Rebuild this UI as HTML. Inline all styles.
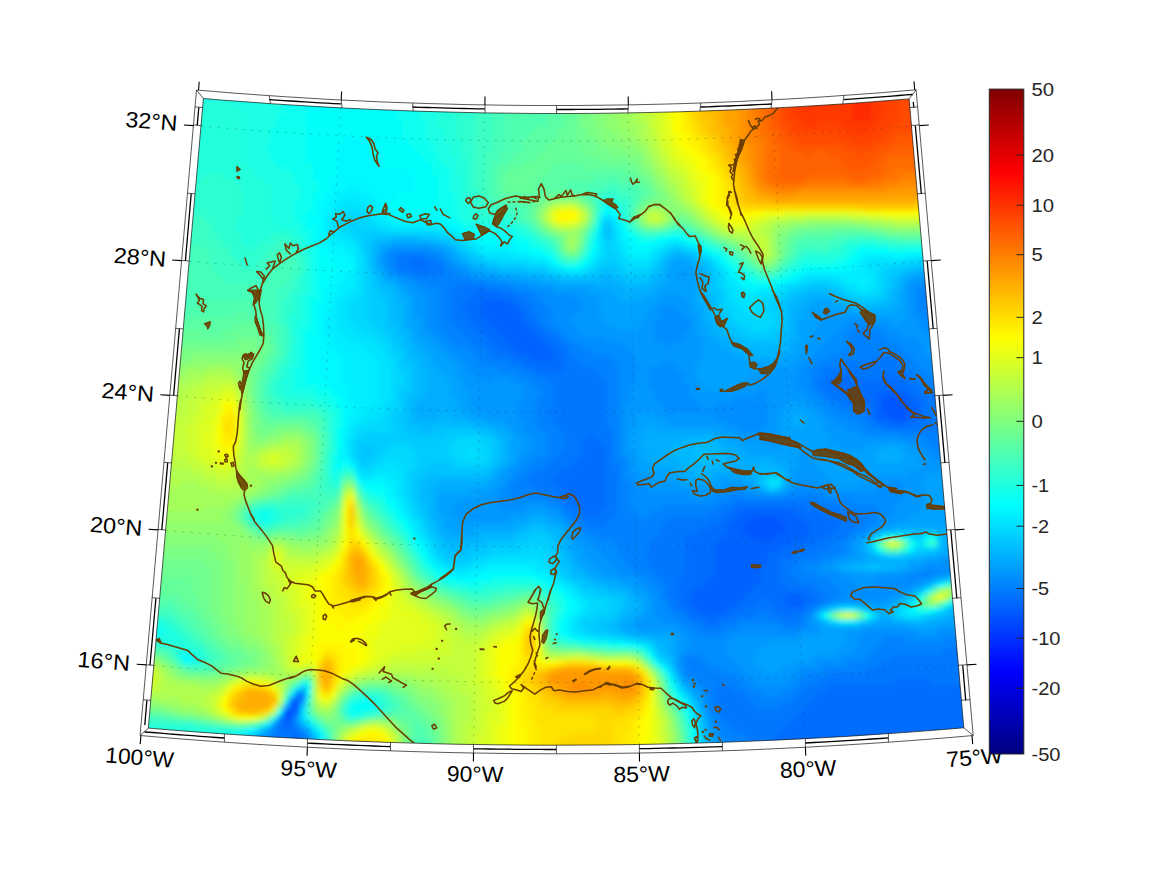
<!DOCTYPE html><html><head><meta charset="utf-8"><title>map</title><style>html,body{margin:0;padding:0;background:#fff}svg{display:block}text{font-family:"Liberation Sans",sans-serif}</style></head><body>
<svg width="1167" height="875" viewBox="0 0 1167 875">
<defs><clipPath id="mc"><path d="M203.4 98.5 L221.0 100.0 L238.7 101.3 L256.3 102.6 L274.0 103.9 L291.6 105.0 L309.3 106.1 L326.9 107.1 L344.5 108.1 L362.2 108.9 L379.8 109.7 L397.5 110.4 L415.1 111.1 L432.8 111.6 L450.4 112.1 L468.0 112.5 L485.7 112.9 L503.3 113.1 L521.0 113.3 L538.6 113.5 L556.2 113.5 L573.9 113.5 L591.5 113.4 L609.2 113.2 L626.8 112.9 L644.5 112.6 L662.1 112.2 L679.7 111.8 L697.4 111.2 L715.0 110.6 L732.7 109.9 L750.3 109.1 L768.0 108.3 L785.6 107.4 L803.2 106.4 L820.9 105.3 L838.5 104.2 L856.2 103.0 L873.8 101.7 L891.5 100.3 L909.1 98.9 L963.8 727.8 L943.4 729.5 L923.0 731.1 L902.6 732.6 L882.2 734.0 L861.8 735.4 L841.4 736.7 L821.0 737.8 L800.7 738.9 L780.3 739.9 L759.9 740.8 L739.5 741.6 L719.1 742.4 L698.7 743.0 L678.3 743.6 L658.0 744.1 L637.6 744.5 L617.2 744.8 L596.8 745.0 L576.4 745.1 L556.0 745.2 L535.6 745.2 L515.3 745.0 L494.9 744.8 L474.5 744.5 L454.1 744.2 L433.7 743.7 L413.3 743.1 L392.9 742.5 L372.5 741.8 L352.2 741.0 L331.8 740.1 L311.4 739.1 L291.0 738.0 L270.6 736.9 L250.2 735.6 L229.8 734.3 L209.5 732.9 L189.1 731.4 L168.7 729.8 L148.3 728.1Z"/></clipPath>
<filter id="bl" x="-5%" y="-5%" width="110%" height="110%"><feGaussianBlur stdDeviation="2.6"/></filter>
<linearGradient id="jet" x1="0" y1="1" x2="0" y2="0"><stop offset="0" stop-color="#00007f"/><stop offset="0.125" stop-color="#0000ff"/><stop offset="0.375" stop-color="#00ffff"/><stop offset="0.625" stop-color="#ffff00"/><stop offset="0.875" stop-color="#ff0000"/><stop offset="1" stop-color="#7f0000"/></linearGradient></defs>
<rect width="1167" height="875" fill="#fff"/>
<g clip-path="url(#mc)"><g filter="url(#bl)">
<rect x="120" y="70" width="880" height="710" fill="#0af"/>
<path fill="#0022ff" d="M258 750h13v7h-13zM264 756h13v7h-13z"/>
<path fill="#002cff" d="M252 750h7v7h-7zM270 750h13v7h-13zM258 756h7v7h-7zM276 756h7v7h-7z"/>
<path fill="#0037ff" d="M282 750h7v7h-7zM252 756h7v7h-7zM282 756h7v7h-7z"/>
<path fill="#0042ff" d="M258 744h13v7h-13zM246 750h7v7h-7z"/>
<path fill="#004dff" d="M252 744h7v7h-7zM270 744h19v7h-19zM288 750h7v7h-7zM246 756h7v7h-7zM288 756h7v7h-7z"/>
<path fill="#0057ff" d="M882 396h25v7h-25zM882 402h25v7h-25zM882 408h31v7h-31zM888 414h19v7h-19zM750 516h31v7h-31zM744 522h43v7h-43zM744 528h43v7h-43zM750 534h25v7h-25zM294 696h7v7h-7zM288 702h13v7h-13zM282 708h13v7h-13zM282 714h13v7h-13zM246 744h7v7h-7zM288 744h7v7h-7z"/>
<path fill="#0062ff" d="M480 300h31v7h-31zM480 306h37v7h-37zM480 312h43v7h-43zM486 318h37v7h-37zM492 324h37v7h-37zM498 330h37v7h-37zM504 336h37v7h-37zM510 342h37v7h-37zM516 348h37v7h-37zM528 354h25v7h-25zM888 384h7v7h-7zM876 390h31v7h-31zM876 396h7v7h-7zM906 396h7v7h-7zM876 402h7v7h-7zM906 402h13v7h-13zM876 408h7v7h-7zM912 408h7v7h-7zM876 414h13v7h-13zM906 414h13v7h-13zM888 420h19v7h-19zM738 510h55v7h-55zM732 516h19v7h-19zM780 516h25v7h-25zM726 522h19v7h-19zM786 522h25v7h-25zM726 528h19v7h-19zM786 528h25v7h-25zM720 534h31v7h-31zM774 534h31v7h-31zM714 540h79v7h-79zM714 546h67v7h-67zM714 552h55v7h-55zM714 558h55v7h-55zM714 564h49v7h-49zM714 570h49v7h-49zM708 576h55v7h-55zM702 582h55v7h-55zM690 588h61v7h-61zM690 594h55v7h-55zM786 594h19v7h-19zM690 600h49v7h-49zM786 600h19v7h-19zM696 606h31v7h-31zM708 612h7v7h-7zM294 708h7v7h-7zM282 720h7v7h-7zM294 744h7v7h-7zM240 750h7v7h-7zM294 750h7v7h-7zM294 756h7v7h-7z"/>
<path fill="#006dff" d="M408 258h19v7h-19zM414 264h13v7h-13zM474 288h25v7h-25zM468 294h49v7h-49zM462 300h19v7h-19zM510 300h13v7h-13zM462 306h19v7h-19zM516 306h13v7h-13zM468 312h13v7h-13zM522 312h7v7h-7zM468 318h19v7h-19zM522 318h13v7h-13zM474 324h19v7h-19zM528 324h13v7h-13zM480 330h19v7h-19zM534 330h13v7h-13zM486 336h19v7h-19zM540 336h13v7h-13zM492 342h19v7h-19zM546 342h13v7h-13zM498 348h19v7h-19zM552 348h13v7h-13zM510 354h19v7h-19zM552 354h13v7h-13zM522 360h43v7h-43zM534 366h31v7h-31zM834 372h19v7h-19zM882 372h13v7h-13zM828 378h79v7h-79zM828 384h61v7h-61zM894 384h19v7h-19zM840 390h37v7h-37zM906 390h13v7h-13zM858 396h19v7h-19zM912 396h13v7h-13zM864 402h13v7h-13zM918 402h7v7h-7zM870 408h7v7h-7zM918 408h7v7h-7zM870 414h7v7h-7zM918 414h7v7h-7zM876 420h13v7h-13zM906 420h13v7h-13zM588 432h7v7h-7zM582 438h19v7h-19zM582 444h25v7h-25zM582 450h25v7h-25zM576 456h31v7h-31zM570 462h37v7h-37zM558 468h49v7h-49zM552 474h55v7h-55zM552 480h55v7h-55zM558 486h49v7h-49zM564 492h43v7h-43zM570 498h37v7h-37zM576 504h31v7h-31zM732 504h73v7h-73zM582 510h19v7h-19zM726 510h13v7h-13zM792 510h31v7h-31zM720 516h13v7h-13zM804 516h37v7h-37zM708 522h19v7h-19zM810 522h31v7h-31zM696 528h31v7h-31zM810 528h25v7h-25zM684 534h37v7h-37zM804 534h25v7h-25zM684 540h31v7h-31zM792 540h25v7h-25zM684 546h31v7h-31zM780 546h25v7h-25zM684 552h31v7h-31zM768 552h25v7h-25zM684 558h31v7h-31zM768 558h13v7h-13zM684 564h31v7h-31zM762 564h19v7h-19zM684 570h31v7h-31zM762 570h19v7h-19zM678 576h31v7h-31zM762 576h19v7h-19zM678 582h25v7h-25zM756 582h31v7h-31zM678 588h13v7h-13zM750 588h61v7h-61zM678 594h13v7h-13zM744 594h43v7h-43zM804 594h13v7h-13zM678 600h13v7h-13zM738 600h19v7h-19zM768 600h19v7h-19zM804 600h13v7h-13zM684 606h13v7h-13zM726 606h19v7h-19zM774 606h31v7h-31zM690 612h19v7h-19zM714 612h19v7h-19zM786 612h7v7h-7zM702 618h19v7h-19zM894 678h37v7h-37zM828 684h145v7h-145zM816 690h157v7h-157zM810 696h169v7h-169zM804 702h175v7h-175zM798 708h181v7h-181zM792 714h187v7h-187zM276 720h7v7h-7zM288 720h7v7h-7zM786 720h193v7h-193zM282 726h13v7h-13zM780 726h199v7h-199zM288 732h13v7h-13zM774 732h205v7h-205zM258 738h43v7h-43zM774 738h205v7h-205zM774 744h205v7h-205zM774 750h205v7h-205zM240 756h7v7h-7zM774 756h205v7h-205z"/>
<path fill="#0077ff" d="M396 252h31v7h-31zM396 258h13v7h-13zM426 258h13v7h-13zM396 264h19v7h-19zM426 264h19v7h-19zM408 270h37v7h-37zM456 282h31v7h-31zM450 288h25v7h-25zM498 288h19v7h-19zM930 288h13v7h-13zM450 294h19v7h-19zM516 294h13v7h-13zM924 294h19v7h-19zM450 300h13v7h-13zM522 300h13v7h-13zM930 300h13v7h-13zM450 306h13v7h-13zM528 306h7v7h-7zM936 306h7v7h-7zM450 312h19v7h-19zM528 312h13v7h-13zM450 318h19v7h-19zM534 318h7v7h-7zM456 324h19v7h-19zM540 324h7v7h-7zM462 330h19v7h-19zM546 330h13v7h-13zM468 336h19v7h-19zM552 336h13v7h-13zM474 342h19v7h-19zM558 342h13v7h-13zM486 348h13v7h-13zM564 348h7v7h-7zM492 354h19v7h-19zM564 354h13v7h-13zM870 354h31v7h-31zM510 360h13v7h-13zM564 360h19v7h-19zM840 360h61v7h-61zM522 366h13v7h-13zM564 366h31v7h-31zM822 366h85v7h-85zM534 372h67v7h-67zM822 372h13v7h-13zM852 372h31v7h-31zM894 372h19v7h-19zM546 378h61v7h-61zM816 378h13v7h-13zM906 378h13v7h-13zM552 384h55v7h-55zM816 384h13v7h-13zM912 384h13v7h-13zM552 390h55v7h-55zM822 390h19v7h-19zM918 390h19v7h-19zM552 396h55v7h-55zM828 396h31v7h-31zM924 396h25v7h-25zM552 402h55v7h-55zM840 402h25v7h-25zM924 402h25v7h-25zM546 408h61v7h-61zM858 408h13v7h-13zM924 408h25v7h-25zM552 414h55v7h-55zM864 414h7v7h-7zM924 414h25v7h-25zM552 420h55v7h-55zM870 420h7v7h-7zM918 420h37v7h-37zM558 426h55v7h-55zM882 426h73v7h-73zM564 432h25v7h-25zM594 432h19v7h-19zM564 438h19v7h-19zM600 438h13v7h-13zM564 444h19v7h-19zM606 444h7v7h-7zM558 450h25v7h-25zM606 450h7v7h-7zM552 456h25v7h-25zM606 456h7v7h-7zM546 462h25v7h-25zM606 462h13v7h-13zM534 468h25v7h-25zM606 468h13v7h-13zM528 474h25v7h-25zM606 474h13v7h-13zM528 480h25v7h-25zM606 480h13v7h-13zM534 486h25v7h-25zM606 486h13v7h-13zM552 492h13v7h-13zM606 492h13v7h-13zM558 498h13v7h-13zM606 498h13v7h-13zM732 498h85v7h-85zM564 504h13v7h-13zM606 504h13v7h-13zM720 504h13v7h-13zM804 504h37v7h-37zM570 510h13v7h-13zM600 510h19v7h-19zM708 510h19v7h-19zM822 510h37v7h-37zM576 516h37v7h-37zM666 516h55v7h-55zM840 516h25v7h-25zM588 522h19v7h-19zM660 522h49v7h-49zM840 522h19v7h-19zM660 528h37v7h-37zM834 528h19v7h-19zM654 534h31v7h-31zM828 534h19v7h-19zM648 540h37v7h-37zM816 540h19v7h-19zM648 546h37v7h-37zM804 546h25v7h-25zM642 552h43v7h-43zM792 552h25v7h-25zM648 558h37v7h-37zM780 558h19v7h-19zM648 564h37v7h-37zM780 564h13v7h-13zM654 570h31v7h-31zM780 570h13v7h-13zM660 576h19v7h-19zM780 576h19v7h-19zM666 582h13v7h-13zM786 582h31v7h-31zM666 588h13v7h-13zM810 588h13v7h-13zM666 594h13v7h-13zM816 594h13v7h-13zM672 600h7v7h-7zM756 600h13v7h-13zM816 600h7v7h-7zM672 606h13v7h-13zM744 606h31v7h-31zM804 606h7v7h-7zM684 612h7v7h-7zM732 612h25v7h-25zM768 612h19v7h-19zM792 612h13v7h-13zM690 618h13v7h-13zM720 618h19v7h-19zM780 618h19v7h-19zM702 624h19v7h-19zM954 642h19v7h-19zM942 648h31v7h-31zM888 654h85v7h-85zM690 660h7v7h-7zM876 660h97v7h-97zM690 666h7v7h-7zM864 666h109v7h-109zM828 672h145v7h-145zM816 678h79v7h-79zM930 678h43v7h-43zM714 684h19v7h-19zM804 684h25v7h-25zM294 690h7v7h-7zM714 690h31v7h-31zM798 690h19v7h-19zM288 696h7v7h-7zM714 696h37v7h-37zM792 696h19v7h-19zM714 702h43v7h-43zM780 702h25v7h-25zM714 708h85v7h-85zM720 714h73v7h-73zM726 720h61v7h-61zM276 726h7v7h-7zM294 726h7v7h-7zM732 726h49v7h-49zM276 732h13v7h-13zM300 732h7v7h-7zM744 732h31v7h-31zM252 738h7v7h-7zM300 738h7v7h-7zM750 738h25v7h-25zM240 744h7v7h-7zM300 744h7v7h-7zM750 744h25v7h-25zM300 750h7v7h-7zM750 750h25v7h-25zM750 756h25v7h-25z"/>
<path fill="#0082ff" d="M390 252h7v7h-7zM426 252h13v7h-13zM390 258h7v7h-7zM438 258h7v7h-7zM390 264h7v7h-7zM444 264h7v7h-7zM396 270h13v7h-13zM444 270h13v7h-13zM414 276h61v7h-61zM426 282h31v7h-31zM486 282h25v7h-25zM924 282h19v7h-19zM438 288h13v7h-13zM516 288h19v7h-19zM918 288h13v7h-13zM438 294h13v7h-13zM528 294h13v7h-13zM918 294h7v7h-7zM438 300h13v7h-13zM534 300h13v7h-13zM918 300h13v7h-13zM438 306h13v7h-13zM534 306h19v7h-19zM918 306h19v7h-19zM438 312h13v7h-13zM540 312h13v7h-13zM924 312h19v7h-19zM438 318h13v7h-13zM540 318h13v7h-13zM936 318h7v7h-7zM438 324h19v7h-19zM546 324h13v7h-13zM852 324h19v7h-19zM444 330h19v7h-19zM558 330h7v7h-7zM846 330h37v7h-37zM450 336h19v7h-19zM564 336h7v7h-7zM846 336h43v7h-43zM456 342h19v7h-19zM570 342h13v7h-13zM846 342h55v7h-55zM468 348h19v7h-19zM570 348h25v7h-25zM840 348h67v7h-67zM474 354h19v7h-19zM576 354h37v7h-37zM828 354h43v7h-43zM900 354h13v7h-13zM480 360h31v7h-31zM582 360h37v7h-37zM816 360h25v7h-25zM900 360h19v7h-19zM498 366h25v7h-25zM594 366h25v7h-25zM810 366h13v7h-13zM906 366h19v7h-19zM516 372h19v7h-19zM600 372h19v7h-19zM810 372h13v7h-13zM912 372h19v7h-19zM528 378h19v7h-19zM606 378h13v7h-13zM810 378h7v7h-7zM918 378h31v7h-31zM534 384h19v7h-19zM606 384h13v7h-13zM810 384h7v7h-7zM924 384h25v7h-25zM540 390h13v7h-13zM606 390h13v7h-13zM816 390h7v7h-7zM936 390h13v7h-13zM534 396h19v7h-19zM606 396h13v7h-13zM822 396h7v7h-7zM534 402h19v7h-19zM606 402h13v7h-13zM828 402h13v7h-13zM534 408h13v7h-13zM606 408h13v7h-13zM834 408h25v7h-25zM534 414h19v7h-19zM606 414h13v7h-13zM846 414h19v7h-19zM534 420h19v7h-19zM606 420h13v7h-13zM858 420h13v7h-13zM540 426h19v7h-19zM612 426h7v7h-7zM864 426h19v7h-19zM546 432h19v7h-19zM612 432h7v7h-7zM900 432h55v7h-55zM546 438h19v7h-19zM612 438h7v7h-7zM924 438h31v7h-31zM546 444h19v7h-19zM612 444h7v7h-7zM930 444h25v7h-25zM546 450h13v7h-13zM612 450h7v7h-7zM534 456h19v7h-19zM612 456h13v7h-13zM528 462h19v7h-19zM618 462h7v7h-7zM522 468h13v7h-13zM618 468h7v7h-7zM516 474h13v7h-13zM618 474h7v7h-7zM510 480h19v7h-19zM618 480h13v7h-13zM510 486h25v7h-25zM618 486h13v7h-13zM510 492h43v7h-43zM618 492h13v7h-13zM726 492h19v7h-19zM786 492h37v7h-37zM546 498h13v7h-13zM618 498h13v7h-13zM714 498h19v7h-19zM816 498h37v7h-37zM558 504h7v7h-7zM618 504h13v7h-13zM660 504h61v7h-61zM840 504h37v7h-37zM564 510h7v7h-7zM618 510h19v7h-19zM648 510h61v7h-61zM858 510h19v7h-19zM570 516h7v7h-7zM612 516h55v7h-55zM864 516h13v7h-13zM576 522h13v7h-13zM606 522h55v7h-55zM858 522h13v7h-13zM582 528h79v7h-79zM852 528h13v7h-13zM594 534h61v7h-61zM846 534h7v7h-7zM612 540h37v7h-37zM834 540h13v7h-13zM618 546h31v7h-31zM828 546h19v7h-19zM618 552h25v7h-25zM816 552h25v7h-25zM624 558h25v7h-25zM798 558h25v7h-25zM630 564h19v7h-19zM792 564h13v7h-13zM636 570h19v7h-19zM792 570h25v7h-25zM918 570h19v7h-19zM648 576h13v7h-13zM798 576h31v7h-31zM906 576h13v7h-13zM654 582h13v7h-13zM816 582h19v7h-19zM660 588h7v7h-7zM822 588h19v7h-19zM660 594h7v7h-7zM828 594h13v7h-13zM666 600h7v7h-7zM822 600h7v7h-7zM666 606h7v7h-7zM810 606h7v7h-7zM672 612h13v7h-13zM756 612h13v7h-13zM804 612h7v7h-7zM678 618h13v7h-13zM738 618h43v7h-43zM798 618h7v7h-7zM690 624h13v7h-13zM720 624h19v7h-19zM780 624h25v7h-25zM696 630h31v7h-31zM966 630h7v7h-7zM882 636h25v7h-25zM942 636h31v7h-31zM876 642h79v7h-79zM870 648h73v7h-73zM684 654h19v7h-19zM864 654h25v7h-25zM684 660h7v7h-7zM696 660h13v7h-13zM846 660h31v7h-31zM684 666h7v7h-7zM696 666h25v7h-25zM822 666h43v7h-43zM684 672h55v7h-55zM804 672h25v7h-25zM696 678h49v7h-49zM798 678h19v7h-19zM702 684h13v7h-13zM732 684h19v7h-19zM792 684h13v7h-13zM300 690h7v7h-7zM702 690h13v7h-13zM744 690h19v7h-19zM780 690h19v7h-19zM300 696h7v7h-7zM708 696h7v7h-7zM750 696h43v7h-43zM708 702h7v7h-7zM756 702h25v7h-25zM708 708h7v7h-7zM714 714h7v7h-7zM714 720h13v7h-13zM270 726h7v7h-7zM720 726h13v7h-13zM270 732h7v7h-7zM720 732h25v7h-25zM726 738h25v7h-25zM726 744h25v7h-25zM234 750h7v7h-7zM732 750h19v7h-19zM300 756h7v7h-7zM732 756h19v7h-19z"/>
<path fill="#008dff" d="M390 246h43v7h-43zM384 252h7v7h-7zM438 252h7v7h-7zM384 258h7v7h-7zM444 258h7v7h-7zM384 264h7v7h-7zM450 264h13v7h-13zM390 270h7v7h-7zM456 270h13v7h-13zM402 276h13v7h-13zM474 276h25v7h-25zM924 276h13v7h-13zM414 282h13v7h-13zM510 282h19v7h-19zM912 282h13v7h-13zM420 288h19v7h-19zM534 288h19v7h-19zM912 288h7v7h-7zM426 294h13v7h-13zM540 294h37v7h-37zM912 294h7v7h-7zM426 300h13v7h-13zM546 300h37v7h-37zM912 300h7v7h-7zM426 306h13v7h-13zM552 306h31v7h-31zM660 306h19v7h-19zM912 306h7v7h-7zM426 312h13v7h-13zM552 312h25v7h-25zM660 312h25v7h-25zM912 312h13v7h-13zM426 318h13v7h-13zM552 318h19v7h-19zM654 318h37v7h-37zM846 318h31v7h-31zM918 318h19v7h-19zM426 324h13v7h-13zM558 324h19v7h-19zM654 324h37v7h-37zM840 324h13v7h-13zM870 324h19v7h-19zM918 324h25v7h-25zM432 330h13v7h-13zM564 330h19v7h-19zM654 330h31v7h-31zM834 330h13v7h-13zM882 330h19v7h-19zM924 330h19v7h-19zM438 336h13v7h-13zM570 336h37v7h-37zM654 336h31v7h-31zM828 336h19v7h-19zM888 336h31v7h-31zM444 342h13v7h-13zM582 342h43v7h-43zM666 342h7v7h-7zM822 342h25v7h-25zM900 342h25v7h-25zM450 348h19v7h-19zM594 348h37v7h-37zM816 348h25v7h-25zM906 348h19v7h-19zM456 354h19v7h-19zM612 354h25v7h-25zM810 354h19v7h-19zM912 354h19v7h-19zM462 360h19v7h-19zM618 360h19v7h-19zM660 360h13v7h-13zM804 360h13v7h-13zM918 360h31v7h-31zM468 366h31v7h-31zM618 366h25v7h-25zM648 366h31v7h-31zM798 366h13v7h-13zM924 366h25v7h-25zM474 372h43v7h-43zM618 372h19v7h-19zM648 372h37v7h-37zM798 372h13v7h-13zM930 372h19v7h-19zM486 378h7v7h-7zM510 378h19v7h-19zM618 378h19v7h-19zM648 378h37v7h-37zM792 378h19v7h-19zM522 384h13v7h-13zM618 384h13v7h-13zM648 384h43v7h-43zM798 384h13v7h-13zM522 390h19v7h-19zM618 390h13v7h-13zM654 390h37v7h-37zM756 390h13v7h-13zM804 390h13v7h-13zM522 396h13v7h-13zM618 396h13v7h-13zM654 396h43v7h-43zM732 396h37v7h-37zM810 396h13v7h-13zM516 402h19v7h-19zM618 402h7v7h-7zM660 402h43v7h-43zM714 402h55v7h-55zM816 402h13v7h-13zM516 408h19v7h-19zM618 408h7v7h-7zM666 408h103v7h-103zM822 408h13v7h-13zM516 414h19v7h-19zM618 414h7v7h-7zM714 414h55v7h-55zM828 414h19v7h-19zM522 420h13v7h-13zM618 420h7v7h-7zM726 420h43v7h-43zM834 420h25v7h-25zM522 426h19v7h-19zM618 426h7v7h-7zM738 426h25v7h-25zM846 426h19v7h-19zM528 432h19v7h-19zM618 432h7v7h-7zM858 432h43v7h-43zM534 438h13v7h-13zM618 438h7v7h-7zM906 438h19v7h-19zM534 444h13v7h-13zM618 444h7v7h-7zM918 444h13v7h-13zM528 450h19v7h-19zM618 450h7v7h-7zM924 450h31v7h-31zM522 456h13v7h-13zM624 456h7v7h-7zM930 456h25v7h-25zM516 462h13v7h-13zM624 462h7v7h-7zM510 468h13v7h-13zM624 468h7v7h-7zM510 474h7v7h-7zM624 474h13v7h-13zM504 480h7v7h-7zM630 480h13v7h-13zM798 480h19v7h-19zM888 480h13v7h-13zM498 486h13v7h-13zM630 486h19v7h-19zM726 486h19v7h-19zM792 486h37v7h-37zM876 486h31v7h-31zM498 492h13v7h-13zM630 492h61v7h-61zM708 492h19v7h-19zM744 492h43v7h-43zM822 492h85v7h-85zM492 498h55v7h-55zM630 498h85v7h-85zM852 498h49v7h-49zM498 504h25v7h-25zM546 504h13v7h-13zM630 504h31v7h-31zM876 504h19v7h-19zM558 510h7v7h-7zM636 510h13v7h-13zM876 510h19v7h-19zM564 516h7v7h-7zM876 516h13v7h-13zM570 522h7v7h-7zM870 522h13v7h-13zM576 528h7v7h-7zM864 528h7v7h-7zM582 534h13v7h-13zM852 534h7v7h-7zM588 540h25v7h-25zM846 540h7v7h-7zM594 546h25v7h-25zM846 546h7v7h-7zM600 552h19v7h-19zM840 552h13v7h-13zM606 558h19v7h-19zM822 558h13v7h-13zM942 558h25v7h-25zM612 564h19v7h-19zM804 564h19v7h-19zM924 564h43v7h-43zM618 570h19v7h-19zM816 570h25v7h-25zM900 570h19v7h-19zM936 570h19v7h-19zM636 576h13v7h-13zM828 576h25v7h-25zM876 576h31v7h-31zM918 576h13v7h-13zM642 582h13v7h-13zM834 582h25v7h-25zM870 582h43v7h-43zM648 588h13v7h-13zM840 588h61v7h-61zM654 594h7v7h-7zM840 594h49v7h-49zM654 600h13v7h-13zM828 600h7v7h-7zM654 606h13v7h-13zM654 612h19v7h-19zM660 618h19v7h-19zM804 618h7v7h-7zM678 624h13v7h-13zM738 624h43v7h-43zM804 624h13v7h-13zM684 630h13v7h-13zM726 630h73v7h-73zM864 630h55v7h-55zM936 630h31v7h-31zM690 636h43v7h-43zM858 636h25v7h-25zM906 636h37v7h-37zM690 642h37v7h-37zM858 642h19v7h-19zM684 648h43v7h-43zM852 648h19v7h-19zM678 654h7v7h-7zM702 654h31v7h-31zM840 654h25v7h-25zM678 660h7v7h-7zM708 660h31v7h-31zM816 660h31v7h-31zM678 666h7v7h-7zM720 666h25v7h-25zM798 666h25v7h-25zM738 672h13v7h-13zM792 672h13v7h-13zM690 678h7v7h-7zM744 678h13v7h-13zM786 678h13v7h-13zM696 684h7v7h-7zM750 684h43v7h-43zM762 690h19v7h-19zM702 696h7v7h-7zM702 702h7v7h-7zM276 714h7v7h-7zM294 714h7v7h-7zM708 714h7v7h-7zM294 720h7v7h-7zM708 720h7v7h-7zM300 726h7v7h-7zM714 726h7v7h-7zM264 732h7v7h-7zM714 732h7v7h-7zM246 738h7v7h-7zM306 738h7v7h-7zM720 738h7v7h-7zM720 744h7v7h-7zM720 750h13v7h-13zM234 756h7v7h-7zM720 756h13v7h-13z"/>
<path fill="#0098ff" d="M384 246h7v7h-7zM432 246h13v7h-13zM378 252h7v7h-7zM444 252h7v7h-7zM378 258h7v7h-7zM450 258h7v7h-7zM462 264h7v7h-7zM384 270h7v7h-7zM468 270h13v7h-13zM678 270h13v7h-13zM396 276h7v7h-7zM498 276h19v7h-19zM678 276h7v7h-7zM912 276h13v7h-13zM402 282h13v7h-13zM528 282h25v7h-25zM906 282h7v7h-7zM408 288h13v7h-13zM552 288h37v7h-37zM672 288h7v7h-7zM906 288h7v7h-7zM414 294h13v7h-13zM576 294h25v7h-25zM660 294h25v7h-25zM906 294h7v7h-7zM414 300h13v7h-13zM582 300h19v7h-19zM654 300h37v7h-37zM906 300h7v7h-7zM414 306h13v7h-13zM582 306h19v7h-19zM648 306h13v7h-13zM678 306h13v7h-13zM906 306h7v7h-7zM414 312h13v7h-13zM576 312h25v7h-25zM642 312h19v7h-19zM684 312h13v7h-13zM822 312h49v7h-49zM906 312h7v7h-7zM420 318h7v7h-7zM570 318h37v7h-37zM642 318h13v7h-13zM690 318h7v7h-7zM816 318h31v7h-31zM876 318h19v7h-19zM900 318h19v7h-19zM420 324h7v7h-7zM576 324h43v7h-43zM636 324h19v7h-19zM690 324h7v7h-7zM816 324h25v7h-25zM888 324h31v7h-31zM420 330h13v7h-13zM582 330h73v7h-73zM684 330h13v7h-13zM810 330h25v7h-25zM900 330h25v7h-25zM426 336h13v7h-13zM606 336h49v7h-49zM684 336h19v7h-19zM810 336h19v7h-19zM918 336h25v7h-25zM432 342h13v7h-13zM624 342h43v7h-43zM672 342h31v7h-31zM804 342h19v7h-19zM924 342h19v7h-19zM438 348h13v7h-13zM630 348h73v7h-73zM804 348h13v7h-13zM924 348h25v7h-25zM444 354h13v7h-13zM636 354h67v7h-67zM798 354h13v7h-13zM930 354h19v7h-19zM450 360h13v7h-13zM636 360h25v7h-25zM672 360h25v7h-25zM792 360h13v7h-13zM456 366h13v7h-13zM642 366h7v7h-7zM678 366h19v7h-19zM774 366h25v7h-25zM456 372h19v7h-19zM636 372h13v7h-13zM684 372h13v7h-13zM750 372h49v7h-49zM462 378h25v7h-25zM492 378h19v7h-19zM636 378h13v7h-13zM684 378h19v7h-19zM744 378h49v7h-49zM462 384h61v7h-61zM630 384h19v7h-19zM690 384h13v7h-13zM732 384h67v7h-67zM468 390h55v7h-55zM630 390h25v7h-25zM690 390h67v7h-67zM768 390h37v7h-37zM468 396h55v7h-55zM630 396h25v7h-25zM696 396h37v7h-37zM768 396h43v7h-43zM468 402h49v7h-49zM624 402h37v7h-37zM702 402h13v7h-13zM768 402h19v7h-19zM804 402h13v7h-13zM474 408h43v7h-43zM624 408h43v7h-43zM768 408h13v7h-13zM810 408h13v7h-13zM486 414h31v7h-31zM624 414h13v7h-13zM654 414h61v7h-61zM768 414h13v7h-13zM816 414h13v7h-13zM504 420h19v7h-19zM624 420h13v7h-13zM666 420h61v7h-61zM768 420h13v7h-13zM822 420h13v7h-13zM510 426h13v7h-13zM624 426h7v7h-7zM720 426h19v7h-19zM762 426h19v7h-19zM822 426h25v7h-25zM516 432h13v7h-13zM624 432h7v7h-7zM732 432h49v7h-49zM828 432h31v7h-31zM522 438h13v7h-13zM624 438h7v7h-7zM744 438h43v7h-43zM828 438h79v7h-79zM522 444h13v7h-13zM624 444h7v7h-7zM768 444h13v7h-13zM840 444h25v7h-25zM906 444h13v7h-13zM516 450h13v7h-13zM624 450h13v7h-13zM798 450h13v7h-13zM912 450h13v7h-13zM516 456h7v7h-7zM630 456h7v7h-7zM798 456h19v7h-19zM918 456h13v7h-13zM510 462h7v7h-7zM630 462h7v7h-7zM798 462h19v7h-19zM918 462h37v7h-37zM504 468h7v7h-7zM630 468h13v7h-13zM792 468h31v7h-31zM906 468h49v7h-49zM498 474h13v7h-13zM636 474h19v7h-19zM792 474h37v7h-37zM870 474h55v7h-55zM498 480h7v7h-7zM642 480h37v7h-37zM720 480h25v7h-25zM792 480h7v7h-7zM816 480h19v7h-19zM858 480h31v7h-31zM900 480h25v7h-25zM492 486h7v7h-7zM648 486h79v7h-79zM744 486h13v7h-13zM786 486h7v7h-7zM828 486h49v7h-49zM906 486h19v7h-19zM480 492h19v7h-19zM690 492h19v7h-19zM906 492h19v7h-19zM456 498h37v7h-37zM900 498h25v7h-25zM450 504h49v7h-49zM522 504h25v7h-25zM894 504h31v7h-31zM450 510h79v7h-79zM546 510h13v7h-13zM894 510h25v7h-25zM456 516h55v7h-55zM558 516h7v7h-7zM888 516h19v7h-19zM564 522h7v7h-7zM882 522h13v7h-13zM570 528h7v7h-7zM870 528h7v7h-7zM570 534h13v7h-13zM858 534h7v7h-7zM576 540h13v7h-13zM852 540h7v7h-7zM582 546h13v7h-13zM852 546h7v7h-7zM582 552h19v7h-19zM852 552h13v7h-13zM948 552h13v7h-13zM588 558h19v7h-19zM834 558h13v7h-13zM924 558h19v7h-19zM594 564h19v7h-19zM822 564h13v7h-13zM912 564h13v7h-13zM600 570h19v7h-19zM840 570h25v7h-25zM870 570h31v7h-31zM954 570h13v7h-13zM618 576h19v7h-19zM852 576h25v7h-25zM930 576h7v7h-7zM630 582h13v7h-13zM858 582h13v7h-13zM912 582h13v7h-13zM642 588h7v7h-7zM900 588h13v7h-13zM648 594h7v7h-7zM888 594h13v7h-13zM648 600h7v7h-7zM834 600h55v7h-55zM648 606h7v7h-7zM816 606h7v7h-7zM642 612h13v7h-13zM810 612h7v7h-7zM636 618h25v7h-25zM810 618h7v7h-7zM636 624h43v7h-43zM816 624h7v7h-7zM858 624h55v7h-55zM936 624h31v7h-31zM672 630h13v7h-13zM798 630h25v7h-25zM846 630h19v7h-19zM918 630h19v7h-19zM678 636h13v7h-13zM732 636h67v7h-67zM846 636h13v7h-13zM678 642h13v7h-13zM726 642h43v7h-43zM840 642h19v7h-19zM678 648h7v7h-7zM726 648h31v7h-31zM834 648h19v7h-19zM732 654h25v7h-25zM810 654h31v7h-31zM738 660h19v7h-19zM792 660h25v7h-25zM744 666h19v7h-19zM780 666h19v7h-19zM678 672h7v7h-7zM750 672h43v7h-43zM684 678h7v7h-7zM756 678h31v7h-31zM690 684h7v7h-7zM696 690h7v7h-7zM702 708h7v7h-7zM708 726h7v7h-7zM258 732h7v7h-7zM306 732h7v7h-7zM714 738h7v7h-7zM234 744h7v7h-7zM306 744h7v7h-7zM714 744h7v7h-7zM306 750h7v7h-7zM714 750h7v7h-7zM714 756h7v7h-7z"/>
<path fill="#00a2ff" d="M390 240h43v7h-43zM378 246h7v7h-7zM444 246h7v7h-7zM450 252h7v7h-7zM456 258h7v7h-7zM672 258h19v7h-19zM378 264h7v7h-7zM468 264h7v7h-7zM666 264h31v7h-31zM480 270h19v7h-19zM666 270h13v7h-13zM690 270h7v7h-7zM918 270h19v7h-19zM384 276h13v7h-13zM516 276h25v7h-25zM666 276h13v7h-13zM684 276h13v7h-13zM906 276h7v7h-7zM396 282h7v7h-7zM552 282h43v7h-43zM660 282h37v7h-37zM900 282h7v7h-7zM402 288h7v7h-7zM588 288h25v7h-25zM654 288h19v7h-19zM678 288h19v7h-19zM900 288h7v7h-7zM408 294h7v7h-7zM600 294h19v7h-19zM642 294h19v7h-19zM684 294h13v7h-13zM900 294h7v7h-7zM408 300h7v7h-7zM600 300h55v7h-55zM690 300h7v7h-7zM810 300h25v7h-25zM900 300h7v7h-7zM408 306h7v7h-7zM600 306h49v7h-49zM690 306h13v7h-13zM804 306h49v7h-49zM894 306h13v7h-13zM408 312h7v7h-7zM600 312h43v7h-43zM696 312h7v7h-7zM804 312h19v7h-19zM870 312h37v7h-37zM408 318h13v7h-13zM606 318h37v7h-37zM696 318h7v7h-7zM798 318h19v7h-19zM894 318h7v7h-7zM408 324h13v7h-13zM618 324h19v7h-19zM696 324h13v7h-13zM798 324h19v7h-19zM414 330h7v7h-7zM696 330h13v7h-13zM798 330h13v7h-13zM414 336h13v7h-13zM702 336h13v7h-13zM798 336h13v7h-13zM420 342h13v7h-13zM702 342h19v7h-19zM792 342h13v7h-13zM426 348h13v7h-13zM702 348h31v7h-31zM792 348h13v7h-13zM432 354h13v7h-13zM702 354h43v7h-43zM780 354h19v7h-19zM432 360h19v7h-19zM696 360h97v7h-97zM438 366h19v7h-19zM696 366h79v7h-79zM444 372h13v7h-13zM696 372h55v7h-55zM450 378h13v7h-13zM702 378h43v7h-43zM450 384h13v7h-13zM702 384h31v7h-31zM450 390h19v7h-19zM456 396h13v7h-13zM456 402h13v7h-13zM786 402h19v7h-19zM462 408h13v7h-13zM780 408h31v7h-31zM468 414h19v7h-19zM636 414h19v7h-19zM780 414h13v7h-13zM804 414h13v7h-13zM486 420h19v7h-19zM636 420h31v7h-31zM780 420h13v7h-13zM804 420h19v7h-19zM504 426h7v7h-7zM630 426h19v7h-19zM654 426h67v7h-67zM780 426h43v7h-43zM510 432h7v7h-7zM630 432h13v7h-13zM714 432h19v7h-19zM780 432h49v7h-49zM510 438h13v7h-13zM630 438h13v7h-13zM726 438h19v7h-19zM786 438h43v7h-43zM510 444h13v7h-13zM630 444h13v7h-13zM738 444h31v7h-31zM780 444h61v7h-61zM864 444h25v7h-25zM894 444h13v7h-13zM510 450h7v7h-7zM636 450h7v7h-7zM744 450h55v7h-55zM810 450h67v7h-67zM900 450h13v7h-13zM510 456h7v7h-7zM636 456h13v7h-13zM774 456h25v7h-25zM816 456h61v7h-61zM900 456h19v7h-19zM504 462h7v7h-7zM636 462h19v7h-19zM786 462h13v7h-13zM816 462h103v7h-103zM498 468h7v7h-7zM642 468h31v7h-31zM732 468h7v7h-7zM786 468h7v7h-7zM822 468h85v7h-85zM492 474h7v7h-7zM654 474h31v7h-31zM714 474h31v7h-31zM786 474h7v7h-7zM828 474h43v7h-43zM924 474h31v7h-31zM486 480h13v7h-13zM678 480h43v7h-43zM744 480h13v7h-13zM786 480h7v7h-7zM834 480h25v7h-25zM924 480h31v7h-31zM468 486h25v7h-25zM756 486h7v7h-7zM780 486h7v7h-7zM924 486h31v7h-31zM438 492h43v7h-43zM924 492h37v7h-37zM438 498h19v7h-19zM924 498h37v7h-37zM438 504h13v7h-13zM924 504h37v7h-37zM438 510h13v7h-13zM528 510h19v7h-19zM918 510h43v7h-43zM444 516h13v7h-13zM510 516h19v7h-19zM546 516h13v7h-13zM906 516h55v7h-55zM444 522h73v7h-73zM558 522h7v7h-7zM894 522h67v7h-67zM450 528h25v7h-25zM564 528h7v7h-7zM876 528h7v7h-7zM948 528h13v7h-13zM564 534h7v7h-7zM864 534h7v7h-7zM570 540h7v7h-7zM858 540h7v7h-7zM954 540h7v7h-7zM570 546h13v7h-13zM858 546h7v7h-7zM948 546h13v7h-13zM576 552h7v7h-7zM864 552h7v7h-7zM936 552h13v7h-13zM576 558h13v7h-13zM846 558h19v7h-19zM906 558h19v7h-19zM582 564h13v7h-13zM834 564h7v7h-7zM906 564h7v7h-7zM588 570h13v7h-13zM864 570h7v7h-7zM600 576h19v7h-19zM936 576h7v7h-7zM618 582h13v7h-13zM630 588h13v7h-13zM636 594h13v7h-13zM900 594h7v7h-7zM642 600h7v7h-7zM888 600h7v7h-7zM642 606h7v7h-7zM876 606h7v7h-7zM636 612h7v7h-7zM960 612h7v7h-7zM630 618h7v7h-7zM816 618h7v7h-7zM876 618h19v7h-19zM942 618h25v7h-25zM624 624h13v7h-13zM822 624h37v7h-37zM912 624h25v7h-25zM636 630h37v7h-37zM822 630h25v7h-25zM672 636h7v7h-7zM798 636h49v7h-49zM672 642h7v7h-7zM768 642h73v7h-73zM672 648h7v7h-7zM756 648h79v7h-79zM672 654h7v7h-7zM756 654h55v7h-55zM672 660h7v7h-7zM756 660h37v7h-37zM762 666h19v7h-19zM684 684h7v7h-7zM690 690h7v7h-7zM696 696h7v7h-7zM702 714h7v7h-7zM270 720h7v7h-7zM264 726h7v7h-7zM708 732h7v7h-7zM240 738h7v7h-7zM708 738h7v7h-7zM708 744h7v7h-7zM228 750h7v7h-7zM306 756h7v7h-7zM708 756h7v7h-7z"/>
<path fill="#00adff" d="M378 240h13v7h-13zM432 240h13v7h-13zM450 246h7v7h-7zM372 252h7v7h-7zM456 252h7v7h-7zM672 252h13v7h-13zM372 258h7v7h-7zM462 258h7v7h-7zM666 258h7v7h-7zM690 258h7v7h-7zM372 264h7v7h-7zM474 264h13v7h-13zM696 264h7v7h-7zM378 270h7v7h-7zM498 270h25v7h-25zM660 270h7v7h-7zM696 270h13v7h-13zM906 270h13v7h-13zM540 276h19v7h-19zM600 276h13v7h-13zM654 276h13v7h-13zM696 276h13v7h-13zM900 276h7v7h-7zM390 282h7v7h-7zM594 282h31v7h-31zM648 282h13v7h-13zM696 282h7v7h-7zM396 288h7v7h-7zM612 288h43v7h-43zM696 288h7v7h-7zM894 288h7v7h-7zM396 294h13v7h-13zM618 294h25v7h-25zM696 294h7v7h-7zM804 294h31v7h-31zM894 294h7v7h-7zM402 300h7v7h-7zM696 300h13v7h-13zM798 300h13v7h-13zM834 300h13v7h-13zM888 300h13v7h-13zM402 306h7v7h-7zM702 306h7v7h-7zM792 306h13v7h-13zM852 306h43v7h-43zM402 312h7v7h-7zM702 312h7v7h-7zM792 312h13v7h-13zM402 318h7v7h-7zM702 318h13v7h-13zM792 318h7v7h-7zM402 324h7v7h-7zM708 324h7v7h-7zM792 324h7v7h-7zM408 330h7v7h-7zM708 330h13v7h-13zM792 330h7v7h-7zM408 336h7v7h-7zM714 336h19v7h-19zM786 336h13v7h-13zM414 342h7v7h-7zM720 342h19v7h-19zM786 342h7v7h-7zM414 348h13v7h-13zM732 348h25v7h-25zM774 348h19v7h-19zM420 354h13v7h-13zM744 354h37v7h-37zM420 360h13v7h-13zM426 366h13v7h-13zM426 372h19v7h-19zM426 378h25v7h-25zM426 384h25v7h-25zM426 390h25v7h-25zM420 396h37v7h-37zM414 402h43v7h-43zM414 408h49v7h-49zM414 414h25v7h-25zM450 414h19v7h-19zM792 414h13v7h-13zM468 420h19v7h-19zM792 420h13v7h-13zM492 426h13v7h-13zM648 426h7v7h-7zM498 432h13v7h-13zM642 432h73v7h-73zM504 438h7v7h-7zM642 438h43v7h-43zM714 438h13v7h-13zM504 444h7v7h-7zM642 444h31v7h-31zM720 444h19v7h-19zM888 444h7v7h-7zM504 450h7v7h-7zM642 450h31v7h-31zM726 450h19v7h-19zM876 450h25v7h-25zM504 456h7v7h-7zM648 456h31v7h-31zM726 456h49v7h-49zM876 456h25v7h-25zM498 462h7v7h-7zM654 462h31v7h-31zM720 462h43v7h-43zM768 462h19v7h-19zM492 468h7v7h-7zM672 468h25v7h-25zM708 468h25v7h-25zM738 468h19v7h-19zM780 468h7v7h-7zM486 474h7v7h-7zM684 474h31v7h-31zM744 474h13v7h-13zM438 480h49v7h-49zM432 486h37v7h-37zM762 486h7v7h-7zM432 492h7v7h-7zM432 498h7v7h-7zM432 504h7v7h-7zM432 510h7v7h-7zM432 516h13v7h-13zM528 516h19v7h-19zM438 522h7v7h-7zM516 522h13v7h-13zM546 522h13v7h-13zM438 528h13v7h-13zM474 528h43v7h-43zM558 528h7v7h-7zM882 528h13v7h-13zM936 528h13v7h-13zM444 534h37v7h-37zM558 534h7v7h-7zM942 534h19v7h-19zM564 540h7v7h-7zM942 540h13v7h-13zM564 546h7v7h-7zM942 546h7v7h-7zM570 552h7v7h-7zM870 552h7v7h-7zM924 552h13v7h-13zM570 558h7v7h-7zM864 558h43v7h-43zM576 564h7v7h-7zM840 564h13v7h-13zM894 564h13v7h-13zM582 570h7v7h-7zM588 576h13v7h-13zM942 576h7v7h-7zM606 582h13v7h-13zM924 582h7v7h-7zM624 588h7v7h-7zM912 588h7v7h-7zM630 594h7v7h-7zM636 600h7v7h-7zM894 600h7v7h-7zM960 600h7v7h-7zM630 606h13v7h-13zM822 606h7v7h-7zM870 606h7v7h-7zM882 606h7v7h-7zM954 606h13v7h-13zM624 612h13v7h-13zM882 612h7v7h-7zM948 612h13v7h-13zM618 618h13v7h-13zM870 618h7v7h-7zM894 618h13v7h-13zM924 618h19v7h-19zM618 624h7v7h-7zM624 630h13v7h-13zM654 636h19v7h-19zM666 642h7v7h-7zM666 648h7v7h-7zM672 666h7v7h-7zM678 678h7v7h-7zM696 702h7v7h-7zM702 720h7v7h-7zM306 726h7v7h-7zM702 726h7v7h-7zM708 750h7v7h-7z"/>
<path fill="#00b8ff" d="M390 234h31v7h-31zM372 240h7v7h-7zM444 240h7v7h-7zM372 246h7v7h-7zM462 252h7v7h-7zM666 252h7v7h-7zM684 252h13v7h-13zM468 258h7v7h-7zM660 258h7v7h-7zM696 258h7v7h-7zM486 264h13v7h-13zM660 264h7v7h-7zM702 264h7v7h-7zM918 264h19v7h-19zM372 270h7v7h-7zM522 270h25v7h-25zM600 270h13v7h-13zM654 270h7v7h-7zM900 270h7v7h-7zM378 276h7v7h-7zM558 276h43v7h-43zM612 276h13v7h-13zM648 276h7v7h-7zM708 276h7v7h-7zM894 276h7v7h-7zM378 282h13v7h-13zM624 282h25v7h-25zM702 282h7v7h-7zM894 282h7v7h-7zM384 288h13v7h-13zM702 288h7v7h-7zM804 288h31v7h-31zM888 288h7v7h-7zM390 294h7v7h-7zM702 294h13v7h-13zM792 294h13v7h-13zM834 294h13v7h-13zM888 294h7v7h-7zM390 300h13v7h-13zM708 300h7v7h-7zM786 300h13v7h-13zM846 300h13v7h-13zM876 300h13v7h-13zM390 306h13v7h-13zM708 306h7v7h-7zM786 306h7v7h-7zM390 312h13v7h-13zM708 312h7v7h-7zM786 312h7v7h-7zM390 318h13v7h-13zM714 318h7v7h-7zM786 318h7v7h-7zM396 324h7v7h-7zM714 324h13v7h-13zM786 324h7v7h-7zM396 330h13v7h-13zM720 330h13v7h-13zM780 330h13v7h-13zM402 336h7v7h-7zM732 336h13v7h-13zM780 336h7v7h-7zM402 342h13v7h-13zM738 342h49v7h-49zM408 348h7v7h-7zM756 348h19v7h-19zM408 354h13v7h-13zM414 360h7v7h-7zM414 366h13v7h-13zM414 372h13v7h-13zM414 378h13v7h-13zM414 384h13v7h-13zM414 390h13v7h-13zM408 396h13v7h-13zM408 402h7v7h-7zM408 408h7v7h-7zM408 414h7v7h-7zM438 414h13v7h-13zM408 420h61v7h-61zM420 426h13v7h-13zM474 426h19v7h-19zM492 432h7v7h-7zM498 438h7v7h-7zM684 438h31v7h-31zM498 444h7v7h-7zM672 444h49v7h-49zM498 450h7v7h-7zM672 450h25v7h-25zM708 450h19v7h-19zM498 456h7v7h-7zM678 456h19v7h-19zM708 456h19v7h-19zM492 462h7v7h-7zM684 462h37v7h-37zM762 462h7v7h-7zM486 468h7v7h-7zM696 468h13v7h-13zM756 468h25v7h-25zM426 474h61v7h-61zM756 474h7v7h-7zM780 474h7v7h-7zM420 480h19v7h-19zM756 480h7v7h-7zM780 480h7v7h-7zM420 486h13v7h-13zM774 486h7v7h-7zM420 492h13v7h-13zM420 498h13v7h-13zM426 504h7v7h-7zM426 510h7v7h-7zM426 516h7v7h-7zM432 522h7v7h-7zM528 522h19v7h-19zM432 528h7v7h-7zM516 528h13v7h-13zM546 528h13v7h-13zM894 528h43v7h-43zM438 534h7v7h-7zM480 534h37v7h-37zM552 534h7v7h-7zM870 534h7v7h-7zM444 540h43v7h-43zM558 540h7v7h-7zM864 540h7v7h-7zM450 546h19v7h-19zM558 546h7v7h-7zM864 546h7v7h-7zM936 546h7v7h-7zM564 552h7v7h-7zM876 552h7v7h-7zM912 552h13v7h-13zM564 558h7v7h-7zM570 564h7v7h-7zM852 564h19v7h-19zM876 564h19v7h-19zM570 570h13v7h-13zM582 576h7v7h-7zM594 582h13v7h-13zM606 588h19v7h-19zM624 594h7v7h-7zM906 594h7v7h-7zM624 600h13v7h-13zM624 606h7v7h-7zM864 606h7v7h-7zM888 606h7v7h-7zM948 606h7v7h-7zM618 612h7v7h-7zM876 612h7v7h-7zM888 612h7v7h-7zM936 612h13v7h-13zM612 618h7v7h-7zM822 618h7v7h-7zM906 618h19v7h-19zM606 624h13v7h-13zM618 630h7v7h-7zM642 636h13v7h-13zM654 642h13v7h-13zM660 648h7v7h-7zM666 654h7v7h-7zM300 684h7v7h-7zM690 696h7v7h-7zM282 702h7v7h-7zM300 702h7v7h-7zM696 708h7v7h-7zM300 720h7v7h-7zM252 732h7v7h-7zM702 732h7v7h-7zM312 738h7v7h-7zM702 738h7v7h-7zM228 744h7v7h-7zM312 744h7v7h-7zM228 756h7v7h-7z"/>
<path fill="#00c3ff" d="M606 222h7v7h-7zM600 228h13v7h-13zM372 234h19v7h-19zM420 234h19v7h-19zM606 234h7v7h-7zM366 240h7v7h-7zM450 240h7v7h-7zM366 246h7v7h-7zM456 246h7v7h-7zM672 246h13v7h-13zM366 252h7v7h-7zM468 252h7v7h-7zM660 252h7v7h-7zM366 258h7v7h-7zM474 258h13v7h-13zM702 258h7v7h-7zM366 264h7v7h-7zM498 264h31v7h-31zM600 264h19v7h-19zM654 264h7v7h-7zM708 264h7v7h-7zM906 264h13v7h-13zM546 270h7v7h-7zM588 270h13v7h-13zM612 270h13v7h-13zM648 270h7v7h-7zM708 270h7v7h-7zM894 270h7v7h-7zM372 276h7v7h-7zM624 276h25v7h-25zM888 276h7v7h-7zM372 282h7v7h-7zM708 282h7v7h-7zM810 282h19v7h-19zM888 282h7v7h-7zM378 288h7v7h-7zM708 288h13v7h-13zM792 288h13v7h-13zM834 288h7v7h-7zM882 288h7v7h-7zM378 294h13v7h-13zM714 294h7v7h-7zM786 294h7v7h-7zM846 294h7v7h-7zM882 294h7v7h-7zM384 300h7v7h-7zM714 300h7v7h-7zM780 300h7v7h-7zM858 300h19v7h-19zM384 306h7v7h-7zM714 306h7v7h-7zM780 306h7v7h-7zM384 312h7v7h-7zM714 312h13v7h-13zM780 312h7v7h-7zM384 318h7v7h-7zM720 318h7v7h-7zM780 318h7v7h-7zM384 324h13v7h-13zM726 324h13v7h-13zM780 324h7v7h-7zM390 330h7v7h-7zM732 330h13v7h-13zM774 330h7v7h-7zM390 336h13v7h-13zM744 336h37v7h-37zM396 342h7v7h-7zM402 348h7v7h-7zM402 354h7v7h-7zM402 360h13v7h-13zM408 366h7v7h-7zM408 372h7v7h-7zM408 378h7v7h-7zM408 384h7v7h-7zM402 390h13v7h-13zM402 396h7v7h-7zM402 402h7v7h-7zM402 408h7v7h-7zM396 414h13v7h-13zM402 420h7v7h-7zM402 426h19v7h-19zM432 426h43v7h-43zM408 432h37v7h-37zM480 432h13v7h-13zM492 438h7v7h-7zM360 444h13v7h-13zM492 444h7v7h-7zM360 450h13v7h-13zM492 450h7v7h-7zM696 450h13v7h-13zM360 456h7v7h-7zM492 456h7v7h-7zM696 456h13v7h-13zM426 462h25v7h-25zM486 462h7v7h-7zM420 468h67v7h-67zM414 474h13v7h-13zM762 474h7v7h-7zM414 480h7v7h-7zM414 486h7v7h-7zM768 486h7v7h-7zM414 492h7v7h-7zM414 498h7v7h-7zM420 504h7v7h-7zM420 510h7v7h-7zM426 522h7v7h-7zM426 528h7v7h-7zM528 528h19v7h-19zM432 534h7v7h-7zM516 534h13v7h-13zM546 534h7v7h-7zM936 534h7v7h-7zM438 540h7v7h-7zM486 540h31v7h-31zM552 540h7v7h-7zM936 540h7v7h-7zM438 546h13v7h-13zM468 546h19v7h-19zM552 546h7v7h-7zM444 552h25v7h-25zM558 552h7v7h-7zM882 552h7v7h-7zM900 552h13v7h-13zM558 558h7v7h-7zM558 564h13v7h-13zM870 564h7v7h-7zM564 570h7v7h-7zM570 576h13v7h-13zM948 576h7v7h-7zM582 582h13v7h-13zM930 582h7v7h-7zM594 588h13v7h-13zM918 588h7v7h-7zM612 594h13v7h-13zM618 600h7v7h-7zM900 600h7v7h-7zM954 600h7v7h-7zM618 606h7v7h-7zM828 606h7v7h-7zM612 612h7v7h-7zM816 612h7v7h-7zM930 612h7v7h-7zM600 618h13v7h-13zM864 618h7v7h-7zM594 624h13v7h-13zM606 630h13v7h-13zM630 636h13v7h-13zM654 648h7v7h-7zM660 654h7v7h-7zM666 660h7v7h-7zM672 672h7v7h-7zM678 684h7v7h-7zM684 690h7v7h-7zM696 714h7v7h-7zM258 726h7v7h-7zM312 732h7v7h-7zM234 738h7v7h-7zM702 744h7v7h-7zM222 750h7v7h-7zM312 750h7v7h-7zM702 750h7v7h-7zM702 756h7v7h-7z"/>
<path fill="#00cdff" d="M348 216h7v7h-7zM606 216h7v7h-7zM348 222h13v7h-13zM600 222h7v7h-7zM354 228h31v7h-31zM360 234h13v7h-13zM438 234h13v7h-13zM600 234h7v7h-7zM360 240h7v7h-7zM456 240h7v7h-7zM606 240h7v7h-7zM360 246h7v7h-7zM462 246h7v7h-7zM606 246h7v7h-7zM666 246h7v7h-7zM684 246h7v7h-7zM474 252h7v7h-7zM606 252h13v7h-13zM696 252h7v7h-7zM486 258h13v7h-13zM600 258h19v7h-19zM654 258h7v7h-7zM708 258h7v7h-7zM918 258h19v7h-19zM528 264h19v7h-19zM594 264h7v7h-7zM618 264h7v7h-7zM648 264h7v7h-7zM888 264h19v7h-19zM366 270h7v7h-7zM552 270h13v7h-13zM582 270h7v7h-7zM624 270h25v7h-25zM714 270h7v7h-7zM882 270h13v7h-13zM366 276h7v7h-7zM714 276h7v7h-7zM882 276h7v7h-7zM366 282h7v7h-7zM714 282h7v7h-7zM798 282h13v7h-13zM828 282h13v7h-13zM882 282h7v7h-7zM366 288h13v7h-13zM720 288h7v7h-7zM786 288h7v7h-7zM840 288h7v7h-7zM366 294h13v7h-13zM720 294h7v7h-7zM774 294h13v7h-13zM852 294h31v7h-31zM366 300h19v7h-19zM720 300h7v7h-7zM768 300h13v7h-13zM366 306h19v7h-19zM720 306h13v7h-13zM768 306h13v7h-13zM366 312h19v7h-19zM726 312h7v7h-7zM774 312h7v7h-7zM366 318h19v7h-19zM726 318h13v7h-13zM774 318h7v7h-7zM372 324h13v7h-13zM738 324h13v7h-13zM768 324h13v7h-13zM378 330h13v7h-13zM744 330h31v7h-31zM384 336h7v7h-7zM390 342h7v7h-7zM390 348h13v7h-13zM396 354h7v7h-7zM396 360h7v7h-7zM396 366h13v7h-13zM402 372h7v7h-7zM402 378h7v7h-7zM396 384h13v7h-13zM396 390h7v7h-7zM396 396h7v7h-7zM396 402h7v7h-7zM390 408h13v7h-13zM390 414h7v7h-7zM390 420h13v7h-13zM390 426h13v7h-13zM360 432h49v7h-49zM444 432h37v7h-37zM354 438h103v7h-103zM480 438h13v7h-13zM354 444h7v7h-7zM372 444h19v7h-19zM408 444h43v7h-43zM486 444h7v7h-7zM354 450h7v7h-7zM372 450h13v7h-13zM414 450h37v7h-37zM486 450h7v7h-7zM354 456h7v7h-7zM366 456h13v7h-13zM414 456h43v7h-43zM486 456h7v7h-7zM360 462h13v7h-13zM414 462h13v7h-13zM450 462h37v7h-37zM408 468h13v7h-13zM408 474h7v7h-7zM768 474h13v7h-13zM408 480h7v7h-7zM762 480h7v7h-7zM408 486h7v7h-7zM408 492h7v7h-7zM408 498h7v7h-7zM414 504h7v7h-7zM414 510h7v7h-7zM420 516h7v7h-7zM420 522h7v7h-7zM426 534h7v7h-7zM528 534h19v7h-19zM912 534h13v7h-13zM432 540h7v7h-7zM516 540h37v7h-37zM432 546h7v7h-7zM486 546h37v7h-37zM546 546h7v7h-7zM870 546h7v7h-7zM918 546h19v7h-19zM438 552h7v7h-7zM468 552h25v7h-25zM546 552h13v7h-13zM888 552h13v7h-13zM444 558h31v7h-31zM552 558h7v7h-7zM552 564h7v7h-7zM558 570h7v7h-7zM564 576h7v7h-7zM954 576h13v7h-13zM576 582h7v7h-7zM582 588h13v7h-13zM594 594h19v7h-19zM912 594h7v7h-7zM960 594h7v7h-7zM606 600h13v7h-13zM606 606h13v7h-13zM858 606h7v7h-7zM894 606h7v7h-7zM942 606h7v7h-7zM594 612h19v7h-19zM894 612h7v7h-7zM924 612h7v7h-7zM582 618h19v7h-19zM828 618h7v7h-7zM858 618h7v7h-7zM582 624h13v7h-13zM588 630h19v7h-19zM624 636h7v7h-7zM648 642h7v7h-7zM654 654h7v7h-7zM690 702h7v7h-7zM696 720h7v7h-7zM696 726h7v7h-7zM246 732h7v7h-7zM222 744h7v7h-7zM222 756h7v7h-7zM312 756h7v7h-7z"/>
<path fill="#00d8ff" d="M342 210h25v7h-25zM336 216h13v7h-13zM354 216h19v7h-19zM600 216h7v7h-7zM336 222h13v7h-13zM360 222h19v7h-19zM342 228h13v7h-13zM384 228h55v7h-55zM612 228h7v7h-7zM348 234h13v7h-13zM450 234h7v7h-7zM612 234h7v7h-7zM354 240h7v7h-7zM462 240h7v7h-7zM600 240h7v7h-7zM612 240h7v7h-7zM672 240h7v7h-7zM468 246h7v7h-7zM600 246h7v7h-7zM612 246h7v7h-7zM660 246h7v7h-7zM690 246h7v7h-7zM360 252h7v7h-7zM480 252h7v7h-7zM600 252h7v7h-7zM618 252h7v7h-7zM654 252h7v7h-7zM702 252h7v7h-7zM360 258h7v7h-7zM498 258h31v7h-31zM594 258h7v7h-7zM618 258h13v7h-13zM648 258h7v7h-7zM900 258h19v7h-19zM360 264h7v7h-7zM546 264h7v7h-7zM588 264h7v7h-7zM624 264h25v7h-25zM714 264h7v7h-7zM876 264h13v7h-13zM360 270h7v7h-7zM564 270h19v7h-19zM720 270h7v7h-7zM876 270h7v7h-7zM360 276h7v7h-7zM720 276h7v7h-7zM804 276h31v7h-31zM876 276h7v7h-7zM360 282h7v7h-7zM720 282h7v7h-7zM786 282h13v7h-13zM840 282h7v7h-7zM876 282h7v7h-7zM360 288h7v7h-7zM726 288h7v7h-7zM774 288h13v7h-13zM846 288h13v7h-13zM870 288h13v7h-13zM354 294h13v7h-13zM726 294h7v7h-7zM762 294h13v7h-13zM348 300h19v7h-19zM726 300h13v7h-13zM756 300h13v7h-13zM348 306h19v7h-19zM732 306h13v7h-13zM756 306h13v7h-13zM348 312h19v7h-19zM732 312h43v7h-43zM348 318h19v7h-19zM738 318h37v7h-37zM354 324h19v7h-19zM750 324h19v7h-19zM360 330h19v7h-19zM372 336h13v7h-13zM378 342h13v7h-13zM384 348h7v7h-7zM384 354h13v7h-13zM390 360h7v7h-7zM390 366h7v7h-7zM390 372h13v7h-13zM390 378h13v7h-13zM390 384h7v7h-7zM390 390h7v7h-7zM390 396h7v7h-7zM384 402h13v7h-13zM384 408h7v7h-7zM378 414h13v7h-13zM366 420h25v7h-25zM354 426h37v7h-37zM354 432h7v7h-7zM348 438h7v7h-7zM456 438h25v7h-25zM348 444h7v7h-7zM390 444h19v7h-19zM450 444h37v7h-37zM348 450h7v7h-7zM384 450h31v7h-31zM450 450h19v7h-19zM474 450h13v7h-13zM378 456h37v7h-37zM456 456h31v7h-31zM354 462h7v7h-7zM372 462h13v7h-13zM396 462h19v7h-19zM360 468h13v7h-13zM402 468h7v7h-7zM402 474h7v7h-7zM402 480h7v7h-7zM402 486h7v7h-7zM402 492h7v7h-7zM408 504h7v7h-7zM408 510h7v7h-7zM414 516h7v7h-7zM420 528h7v7h-7zM876 534h7v7h-7zM426 540h7v7h-7zM918 540h7v7h-7zM522 546h25v7h-25zM912 546h7v7h-7zM432 552h7v7h-7zM492 552h55v7h-55zM438 558h7v7h-7zM474 558h13v7h-13zM540 558h13v7h-13zM450 564h19v7h-19zM546 564h7v7h-7zM552 570h7v7h-7zM558 576h7v7h-7zM570 582h7v7h-7zM576 588h7v7h-7zM582 594h13v7h-13zM588 600h19v7h-19zM906 600h7v7h-7zM588 606h19v7h-19zM834 606h7v7h-7zM582 612h13v7h-13zM870 612h7v7h-7zM900 612h7v7h-7zM918 612h7v7h-7zM576 618h7v7h-7zM576 624h7v7h-7zM582 630h7v7h-7zM612 636h13v7h-13zM660 660h7v7h-7zM666 666h7v7h-7zM672 678h7v7h-7zM684 696h7v7h-7zM300 708h7v7h-7zM690 708h7v7h-7zM300 714h7v7h-7zM696 732h7v7h-7zM228 738h7v7h-7zM216 750h7v7h-7z"/>
<path fill="#00e3ff" d="M342 198h19v7h-19zM336 204h31v7h-31zM336 210h7v7h-7zM366 210h7v7h-7zM330 216h7v7h-7zM372 216h7v7h-7zM330 222h7v7h-7zM378 222h13v7h-13zM612 222h7v7h-7zM330 228h13v7h-13zM438 228h13v7h-13zM336 234h13v7h-13zM456 234h7v7h-7zM348 240h7v7h-7zM468 240h7v7h-7zM618 240h7v7h-7zM666 240h7v7h-7zM678 240h7v7h-7zM354 246h7v7h-7zM474 246h7v7h-7zM618 246h7v7h-7zM654 246h7v7h-7zM696 246h7v7h-7zM354 252h7v7h-7zM486 252h31v7h-31zM594 252h7v7h-7zM624 252h7v7h-7zM648 252h7v7h-7zM354 258h7v7h-7zM528 258h19v7h-19zM630 258h19v7h-19zM714 258h7v7h-7zM864 258h37v7h-37zM354 264h7v7h-7zM552 264h7v7h-7zM582 264h7v7h-7zM720 264h7v7h-7zM864 264h13v7h-13zM354 270h7v7h-7zM864 270h13v7h-13zM354 276h7v7h-7zM726 276h7v7h-7zM798 276h7v7h-7zM834 276h13v7h-13zM870 276h7v7h-7zM354 282h7v7h-7zM726 282h13v7h-13zM780 282h7v7h-7zM846 282h13v7h-13zM864 282h13v7h-13zM348 288h13v7h-13zM732 288h13v7h-13zM756 288h19v7h-19zM858 288h13v7h-13zM342 294h13v7h-13zM732 294h31v7h-31zM336 300h13v7h-13zM738 300h19v7h-19zM336 306h13v7h-13zM744 306h13v7h-13zM336 312h13v7h-13zM336 318h13v7h-13zM336 324h19v7h-19zM342 330h19v7h-19zM348 336h25v7h-25zM360 342h19v7h-19zM366 348h19v7h-19zM372 354h13v7h-13zM378 360h13v7h-13zM378 366h13v7h-13zM378 372h13v7h-13zM378 378h13v7h-13zM378 384h13v7h-13zM378 390h13v7h-13zM378 396h13v7h-13zM372 402h13v7h-13zM366 408h19v7h-19zM360 414h19v7h-19zM354 420h13v7h-13zM348 426h7v7h-7zM348 432h7v7h-7zM468 450h7v7h-7zM348 456h7v7h-7zM384 462h13v7h-13zM354 468h7v7h-7zM372 468h31v7h-31zM360 474h13v7h-13zM390 474h13v7h-13zM396 480h7v7h-7zM768 480h13v7h-13zM396 486h7v7h-7zM396 492h7v7h-7zM402 498h7v7h-7zM402 504h7v7h-7zM408 516h7v7h-7zM414 522h7v7h-7zM414 528h7v7h-7zM420 534h7v7h-7zM906 534h7v7h-7zM870 540h7v7h-7zM426 546h7v7h-7zM432 558h7v7h-7zM486 558h55v7h-55zM444 564h7v7h-7zM468 564h19v7h-19zM534 564h13v7h-13zM456 570h7v7h-7zM546 570h7v7h-7zM552 576h7v7h-7zM564 582h7v7h-7zM570 588h7v7h-7zM576 594h7v7h-7zM582 600h7v7h-7zM582 606h7v7h-7zM840 606h7v7h-7zM852 606h7v7h-7zM900 606h7v7h-7zM936 606h7v7h-7zM576 612h7v7h-7zM906 612h13v7h-13zM570 618h7v7h-7zM834 618h7v7h-7zM852 618h7v7h-7zM570 624h7v7h-7zM570 630h13v7h-13zM594 636h19v7h-19zM642 642h7v7h-7zM648 648h7v7h-7zM678 690h7v7h-7zM690 714h7v7h-7zM306 720h7v7h-7zM312 726h7v7h-7zM240 732h7v7h-7zM696 738h7v7h-7zM216 744h7v7h-7zM696 744h7v7h-7zM186 750h31v7h-31zM696 750h7v7h-7zM216 756h7v7h-7zM696 756h7v7h-7z"/>
<path fill="#00eeff" d="M348 186h13v7h-13zM336 192h37v7h-37zM330 198h13v7h-13zM360 198h19v7h-19zM330 204h7v7h-7zM366 204h13v7h-13zM324 210h13v7h-13zM372 210h13v7h-13zM606 210h7v7h-7zM324 216h7v7h-7zM378 216h13v7h-13zM612 216h7v7h-7zM324 222h7v7h-7zM390 222h55v7h-55zM324 228h7v7h-7zM450 228h7v7h-7zM618 228h7v7h-7zM330 234h7v7h-7zM462 234h7v7h-7zM594 234h7v7h-7zM618 234h7v7h-7zM330 240h19v7h-19zM474 240h7v7h-7zM594 240h7v7h-7zM624 240h7v7h-7zM660 240h7v7h-7zM684 240h7v7h-7zM342 246h13v7h-13zM480 246h31v7h-31zM594 246h7v7h-7zM624 246h7v7h-7zM648 246h7v7h-7zM348 252h7v7h-7zM516 252h19v7h-19zM630 252h19v7h-19zM708 252h7v7h-7zM864 252h31v7h-31zM906 252h31v7h-31zM546 258h7v7h-7zM588 258h7v7h-7zM858 258h7v7h-7zM558 264h7v7h-7zM852 264h13v7h-13zM348 270h7v7h-7zM726 270h7v7h-7zM804 270h61v7h-61zM342 276h13v7h-13zM732 276h7v7h-7zM792 276h7v7h-7zM846 276h25v7h-25zM336 282h19v7h-19zM738 282h7v7h-7zM774 282h7v7h-7zM858 282h7v7h-7zM336 288h13v7h-13zM744 288h13v7h-13zM330 294h13v7h-13zM330 300h7v7h-7zM330 306h7v7h-7zM324 312h13v7h-13zM324 318h13v7h-13zM324 324h13v7h-13zM324 330h19v7h-19zM330 336h19v7h-19zM330 342h31v7h-31zM336 348h31v7h-31zM342 354h31v7h-31zM342 360h37v7h-37zM342 366h37v7h-37zM342 372h37v7h-37zM342 378h37v7h-37zM348 384h31v7h-31zM348 390h31v7h-31zM348 396h31v7h-31zM354 402h19v7h-19zM354 408h13v7h-13zM348 414h13v7h-13zM348 420h7v7h-7zM342 432h7v7h-7zM342 438h7v7h-7zM342 444h7v7h-7zM342 450h7v7h-7zM372 474h19v7h-19zM384 480h13v7h-13zM390 486h7v7h-7zM390 492h7v7h-7zM396 498h7v7h-7zM396 504h7v7h-7zM402 510h7v7h-7zM408 522h7v7h-7zM414 534h7v7h-7zM420 540h7v7h-7zM912 540h7v7h-7zM426 552h7v7h-7zM438 564h7v7h-7zM486 564h49v7h-49zM444 570h13v7h-13zM462 570h19v7h-19zM534 570h13v7h-13zM546 576h7v7h-7zM558 582h7v7h-7zM936 582h7v7h-7zM564 588h7v7h-7zM924 588h7v7h-7zM570 594h7v7h-7zM576 600h7v7h-7zM948 600h7v7h-7zM576 606h7v7h-7zM846 606h7v7h-7zM906 606h7v7h-7zM570 612h7v7h-7zM840 618h13v7h-13zM564 624h7v7h-7zM582 636h13v7h-13zM636 642h7v7h-7zM666 672h7v7h-7zM294 684h7v7h-7zM672 684h7v7h-7zM288 690h7v7h-7zM684 702h7v7h-7zM264 720h7v7h-7zM690 720h7v7h-7zM252 726h7v7h-7zM318 732h7v7h-7zM222 738h7v7h-7zM318 738h7v7h-7zM180 744h37v7h-37zM318 744h7v7h-7zM174 750h13v7h-13zM180 756h37v7h-37z"/>
<path fill="#00f8ff" d="M348 132h7v7h-7zM342 138h25v7h-25zM336 144h31v7h-31zM336 150h37v7h-37zM336 156h43v7h-43zM336 162h49v7h-49zM336 168h67v7h-67zM336 174h79v7h-79zM330 180h85v7h-85zM330 186h19v7h-19zM360 186h55v7h-55zM324 192h13v7h-13zM372 192h25v7h-25zM324 198h7v7h-7zM378 198h13v7h-13zM318 204h13v7h-13zM378 204h13v7h-13zM318 210h7v7h-7zM384 210h13v7h-13zM600 210h7v7h-7zM318 216h7v7h-7zM390 216h49v7h-49zM318 222h7v7h-7zM444 222h13v7h-13zM618 222h7v7h-7zM318 228h7v7h-7zM456 228h13v7h-13zM594 228h7v7h-7zM318 234h13v7h-13zM468 234h7v7h-7zM624 234h7v7h-7zM672 234h7v7h-7zM318 240h13v7h-13zM480 240h37v7h-37zM630 240h7v7h-7zM648 240h13v7h-13zM690 240h7v7h-7zM324 246h19v7h-19zM510 246h19v7h-19zM630 246h19v7h-19zM702 246h7v7h-7zM330 252h19v7h-19zM534 252h13v7h-13zM588 252h7v7h-7zM714 252h7v7h-7zM858 252h7v7h-7zM894 252h13v7h-13zM336 258h19v7h-19zM720 258h7v7h-7zM852 258h7v7h-7zM336 264h19v7h-19zM564 264h19v7h-19zM726 264h7v7h-7zM840 264h13v7h-13zM330 270h19v7h-19zM732 270h7v7h-7zM798 270h7v7h-7zM330 276h13v7h-13zM738 276h7v7h-7zM786 276h7v7h-7zM324 282h13v7h-13zM744 282h31v7h-31zM324 288h13v7h-13zM324 294h7v7h-7zM318 300h13v7h-13zM318 306h13v7h-13zM318 312h7v7h-7zM318 318h7v7h-7zM318 324h7v7h-7zM318 330h7v7h-7zM318 336h13v7h-13zM318 342h13v7h-13zM318 348h19v7h-19zM318 354h25v7h-25zM318 360h25v7h-25zM318 366h25v7h-25zM318 372h25v7h-25zM324 378h19v7h-19zM330 384h19v7h-19zM336 390h13v7h-13zM342 396h7v7h-7zM342 402h13v7h-13zM342 408h13v7h-13zM342 414h7v7h-7zM342 420h7v7h-7zM342 426h7v7h-7zM336 450h7v7h-7zM336 456h13v7h-13zM348 462h7v7h-7zM354 474h7v7h-7zM360 480h25v7h-25zM384 486h7v7h-7zM384 492h7v7h-7zM390 498h7v7h-7zM396 510h7v7h-7zM402 516h7v7h-7zM408 528h7v7h-7zM900 534h7v7h-7zM924 534h7v7h-7zM420 546h7v7h-7zM906 546h7v7h-7zM426 558h7v7h-7zM432 564h7v7h-7zM438 570h7v7h-7zM480 570h55v7h-55zM456 576h19v7h-19zM540 576h7v7h-7zM552 582h7v7h-7zM558 588h7v7h-7zM564 594h7v7h-7zM570 600h7v7h-7zM570 606h7v7h-7zM564 612h7v7h-7zM822 612h7v7h-7zM564 618h7v7h-7zM564 630h7v7h-7zM576 636h7v7h-7zM630 642h7v7h-7zM180 654h13v7h-13zM654 660h7v7h-7zM678 696h7v7h-7zM690 726h7v7h-7zM234 732h7v7h-7zM216 738h7v7h-7zM168 744h13v7h-13zM168 750h7v7h-7zM318 750h7v7h-7zM168 756h13v7h-13z"/>
<path fill="#04fffb" d="M306 84h97v7h-97zM306 90h97v7h-97zM306 96h97v7h-97zM306 102h91v7h-91zM306 108h91v7h-91zM306 114h91v7h-91zM306 120h97v7h-97zM306 126h97v7h-97zM306 132h43v7h-43zM354 132h49v7h-49zM306 138h37v7h-37zM366 138h43v7h-43zM306 144h31v7h-31zM366 144h49v7h-49zM306 150h31v7h-31zM372 150h49v7h-49zM306 156h31v7h-31zM378 156h49v7h-49zM312 162h25v7h-25zM384 162h49v7h-49zM312 168h25v7h-25zM402 168h31v7h-31zM312 174h25v7h-25zM414 174h25v7h-25zM318 180h13v7h-13zM414 180h25v7h-25zM318 186h13v7h-13zM414 186h25v7h-25zM312 192h13v7h-13zM396 192h43v7h-43zM312 198h13v7h-13zM390 198h49v7h-49zM312 204h7v7h-7zM390 204h49v7h-49zM606 204h7v7h-7zM306 210h13v7h-13zM396 210h49v7h-49zM612 210h7v7h-7zM306 216h13v7h-13zM438 216h19v7h-19zM306 222h13v7h-13zM456 222h7v7h-7zM312 228h7v7h-7zM468 228h7v7h-7zM624 228h7v7h-7zM312 234h7v7h-7zM474 234h43v7h-43zM630 234h7v7h-7zM660 234h13v7h-13zM678 234h7v7h-7zM312 240h7v7h-7zM516 240h13v7h-13zM636 240h13v7h-13zM318 246h7v7h-7zM528 246h13v7h-13zM588 246h7v7h-7zM858 246h31v7h-31zM318 252h13v7h-13zM546 252h7v7h-7zM852 252h7v7h-7zM318 258h19v7h-19zM552 258h7v7h-7zM582 258h7v7h-7zM846 258h7v7h-7zM318 264h19v7h-19zM804 264h37v7h-37zM318 270h13v7h-13zM792 270h7v7h-7zM318 276h13v7h-13zM744 276h7v7h-7zM780 276h7v7h-7zM318 282h7v7h-7zM318 288h7v7h-7zM318 294h7v7h-7zM312 300h7v7h-7zM312 306h7v7h-7zM312 312h7v7h-7zM312 318h7v7h-7zM312 324h7v7h-7zM306 330h13v7h-13zM306 336h13v7h-13zM306 342h13v7h-13zM306 348h13v7h-13zM306 354h13v7h-13zM306 360h13v7h-13zM306 366h13v7h-13zM306 372h13v7h-13zM306 378h19v7h-19zM318 384h13v7h-13zM330 390h7v7h-7zM336 396h7v7h-7zM336 402h7v7h-7zM336 426h7v7h-7zM336 432h7v7h-7zM336 438h7v7h-7zM336 444h7v7h-7zM336 462h7v7h-7zM366 486h19v7h-19zM384 498h7v7h-7zM390 504h7v7h-7zM396 516h7v7h-7zM402 522h7v7h-7zM408 534h7v7h-7zM882 534h7v7h-7zM414 540h7v7h-7zM876 546h7v7h-7zM420 552h7v7h-7zM444 576h13v7h-13zM474 576h19v7h-19zM534 576h7v7h-7zM546 582h7v7h-7zM960 588h7v7h-7zM954 594h7v7h-7zM564 600h7v7h-7zM912 600h7v7h-7zM564 606h7v7h-7zM912 606h7v7h-7zM930 606h7v7h-7zM558 618h7v7h-7zM558 624h7v7h-7zM558 630h7v7h-7zM570 636h7v7h-7zM618 642h13v7h-13zM648 654h7v7h-7zM660 666h7v7h-7zM306 684h7v7h-7zM354 702h19v7h-19zM276 708h7v7h-7zM348 708h13v7h-13zM684 708h7v7h-7zM246 726h7v7h-7zM690 732h7v7h-7zM174 738h43v7h-43zM690 738h7v7h-7zM162 744h7v7h-7zM156 750h13v7h-13zM162 756h7v7h-7zM318 756h7v7h-7z"/>
<path fill="#0ffff0" d="M276 84h31v7h-31zM402 84h25v7h-25zM276 90h31v7h-31zM402 90h25v7h-25zM276 96h31v7h-31zM402 96h25v7h-25zM282 102h25v7h-25zM396 102h25v7h-25zM282 108h25v7h-25zM396 108h25v7h-25zM276 114h31v7h-31zM396 114h25v7h-25zM276 120h31v7h-31zM402 120h25v7h-25zM270 126h37v7h-37zM402 126h25v7h-25zM270 132h37v7h-37zM402 132h25v7h-25zM270 138h37v7h-37zM408 138h25v7h-25zM264 144h43v7h-43zM414 144h19v7h-19zM270 150h37v7h-37zM420 150h19v7h-19zM270 156h37v7h-37zM426 156h13v7h-13zM276 162h37v7h-37zM432 162h13v7h-13zM288 168h25v7h-25zM432 168h19v7h-19zM294 174h19v7h-19zM438 174h13v7h-13zM294 180h25v7h-25zM438 180h13v7h-13zM300 186h19v7h-19zM438 186h13v7h-13zM300 192h13v7h-13zM438 192h19v7h-19zM294 198h19v7h-19zM438 198h19v7h-19zM294 204h19v7h-19zM438 204h19v7h-19zM600 204h7v7h-7zM612 204h7v7h-7zM294 210h13v7h-13zM444 210h13v7h-13zM294 216h13v7h-13zM456 216h7v7h-7zM618 216h7v7h-7zM300 222h7v7h-7zM462 222h13v7h-13zM594 222h7v7h-7zM300 228h13v7h-13zM474 228h43v7h-43zM306 234h7v7h-7zM516 234h13v7h-13zM636 234h7v7h-7zM654 234h7v7h-7zM684 234h7v7h-7zM306 240h7v7h-7zM528 240h7v7h-7zM588 240h7v7h-7zM696 240h7v7h-7zM312 246h7v7h-7zM540 246h7v7h-7zM708 246h7v7h-7zM852 246h7v7h-7zM888 246h49v7h-49zM312 252h7v7h-7zM720 252h7v7h-7zM846 252h7v7h-7zM312 258h7v7h-7zM726 258h7v7h-7zM834 258h13v7h-13zM312 264h7v7h-7zM732 264h7v7h-7zM798 264h7v7h-7zM312 270h7v7h-7zM738 270h7v7h-7zM786 270h7v7h-7zM312 276h7v7h-7zM750 276h7v7h-7zM774 276h7v7h-7zM312 282h7v7h-7zM312 288h7v7h-7zM306 294h13v7h-13zM306 300h7v7h-7zM306 306h7v7h-7zM306 312h7v7h-7zM306 318h7v7h-7zM300 324h13v7h-13zM300 330h7v7h-7zM300 336h7v7h-7zM300 342h7v7h-7zM300 348h7v7h-7zM300 354h7v7h-7zM300 360h7v7h-7zM294 366h13v7h-13zM294 372h13v7h-13zM294 378h13v7h-13zM294 384h25v7h-25zM312 390h19v7h-19zM324 396h13v7h-13zM330 402h7v7h-7zM336 408h7v7h-7zM336 414h7v7h-7zM336 420h7v7h-7zM330 456h7v7h-7zM330 462h7v7h-7zM342 462h7v7h-7zM330 468h13v7h-13zM360 486h7v7h-7zM372 492h13v7h-13zM384 504h7v7h-7zM258 510h13v7h-13zM390 510h7v7h-7zM258 516h13v7h-13zM402 528h7v7h-7zM930 534h7v7h-7zM414 546h7v7h-7zM420 558h7v7h-7zM426 564h7v7h-7zM432 570h7v7h-7zM492 576h43v7h-43zM462 582h19v7h-19zM540 582h7v7h-7zM960 582h7v7h-7zM552 588h7v7h-7zM558 594h7v7h-7zM918 594h7v7h-7zM558 612h7v7h-7zM864 612h7v7h-7zM144 624h19v7h-19zM144 630h19v7h-19zM564 636h7v7h-7zM606 642h13v7h-13zM642 648h7v7h-7zM192 654h7v7h-7zM186 660h7v7h-7zM666 678h7v7h-7zM306 690h7v7h-7zM672 690h7v7h-7zM360 696h13v7h-13zM348 702h7v7h-7zM372 702h7v7h-7zM360 708h13v7h-13zM684 714h7v7h-7zM318 726h7v7h-7zM222 732h13v7h-13zM150 738h25v7h-25zM132 744h31v7h-31zM690 744h7v7h-7zM132 750h25v7h-25zM690 750h7v7h-7zM132 756h31v7h-31zM690 756h7v7h-7z"/>
<path fill="#1affe5" d="M192 84h85v7h-85zM426 84h13v7h-13zM192 90h85v7h-85zM426 90h13v7h-13zM192 96h85v7h-85zM426 96h13v7h-13zM234 102h49v7h-49zM420 102h19v7h-19zM240 108h43v7h-43zM420 108h19v7h-19zM240 114h37v7h-37zM420 114h19v7h-19zM240 120h37v7h-37zM426 120h13v7h-13zM240 126h31v7h-31zM426 126h19v7h-19zM240 132h31v7h-31zM426 132h19v7h-19zM240 138h31v7h-31zM432 138h13v7h-13zM240 144h25v7h-25zM432 144h19v7h-19zM240 150h31v7h-31zM438 150h13v7h-13zM240 156h31v7h-31zM438 156h19v7h-19zM246 162h31v7h-31zM444 162h13v7h-13zM252 168h37v7h-37zM450 168h7v7h-7zM258 174h37v7h-37zM450 174h13v7h-13zM264 180h31v7h-31zM450 180h13v7h-13zM270 186h31v7h-31zM450 186h13v7h-13zM270 192h31v7h-31zM456 192h7v7h-7zM270 198h25v7h-25zM456 198h7v7h-7zM606 198h7v7h-7zM270 204h25v7h-25zM456 204h13v7h-13zM270 210h25v7h-25zM456 210h13v7h-13zM618 210h7v7h-7zM270 216h25v7h-25zM462 216h13v7h-13zM276 222h25v7h-25zM474 222h43v7h-43zM624 222h7v7h-7zM294 228h7v7h-7zM516 228h7v7h-7zM630 228h7v7h-7zM300 234h7v7h-7zM528 234h7v7h-7zM588 234h7v7h-7zM642 234h13v7h-13zM690 234h7v7h-7zM300 240h7v7h-7zM534 240h7v7h-7zM702 240h7v7h-7zM858 240h19v7h-19zM306 246h7v7h-7zM546 246h7v7h-7zM714 246h7v7h-7zM846 246h7v7h-7zM306 252h7v7h-7zM552 252h7v7h-7zM582 252h7v7h-7zM840 252h7v7h-7zM306 258h7v7h-7zM558 258h7v7h-7zM576 258h7v7h-7zM798 258h37v7h-37zM306 264h7v7h-7zM738 264h7v7h-7zM792 264h7v7h-7zM306 270h7v7h-7zM744 270h7v7h-7zM780 270h7v7h-7zM306 276h7v7h-7zM756 276h19v7h-19zM306 282h7v7h-7zM306 288h7v7h-7zM300 294h7v7h-7zM300 300h7v7h-7zM300 306h7v7h-7zM300 312h7v7h-7zM294 318h13v7h-13zM294 324h7v7h-7zM294 330h7v7h-7zM294 336h7v7h-7zM294 342h7v7h-7zM294 348h7v7h-7zM294 354h7v7h-7zM294 360h7v7h-7zM288 366h7v7h-7zM288 372h7v7h-7zM282 378h13v7h-13zM282 384h13v7h-13zM288 390h25v7h-25zM312 396h13v7h-13zM324 402h7v7h-7zM330 408h7v7h-7zM330 414h7v7h-7zM330 420h7v7h-7zM330 426h7v7h-7zM330 432h7v7h-7zM330 438h7v7h-7zM330 444h7v7h-7zM330 450h7v7h-7zM348 468h7v7h-7zM330 474h13v7h-13zM354 480h7v7h-7zM366 492h7v7h-7zM378 498h7v7h-7zM252 510h7v7h-7zM270 510h7v7h-7zM384 510h7v7h-7zM252 516h7v7h-7zM270 516h7v7h-7zM390 516h7v7h-7zM396 522h7v7h-7zM888 534h13v7h-13zM408 540h7v7h-7zM906 540h7v7h-7zM924 540h7v7h-7zM414 552h7v7h-7zM438 576h7v7h-7zM450 582h13v7h-13zM480 582h25v7h-25zM534 582h7v7h-7zM942 582h7v7h-7zM546 588h7v7h-7zM552 594h7v7h-7zM558 600h7v7h-7zM558 606h7v7h-7zM918 606h13v7h-13zM144 618h13v7h-13zM552 618h7v7h-7zM162 624h7v7h-7zM552 624h7v7h-7zM162 630h13v7h-13zM552 630h7v7h-7zM144 636h37v7h-37zM558 636h7v7h-7zM594 642h13v7h-13zM180 648h13v7h-13zM180 660h7v7h-7zM192 660h7v7h-7zM300 678h7v7h-7zM354 696h7v7h-7zM372 696h7v7h-7zM678 702h7v7h-7zM372 708h7v7h-7zM270 714h7v7h-7zM306 714h7v7h-7zM348 714h7v7h-7zM312 720h7v7h-7zM240 726h7v7h-7zM132 732h91v7h-91zM132 738h19v7h-19z"/>
<path fill="#24ffdb" d="M438 84h19v7h-19zM438 90h19v7h-19zM438 96h19v7h-19zM186 102h49v7h-49zM438 102h19v7h-19zM186 108h55v7h-55zM438 108h19v7h-19zM186 114h55v7h-55zM438 114h19v7h-19zM186 120h55v7h-55zM438 120h19v7h-19zM186 126h55v7h-55zM444 126h13v7h-13zM186 132h55v7h-55zM444 132h13v7h-13zM186 138h55v7h-55zM444 138h19v7h-19zM186 144h55v7h-55zM450 144h13v7h-13zM186 150h55v7h-55zM450 150h13v7h-13zM186 156h55v7h-55zM456 156h13v7h-13zM186 162h61v7h-61zM456 162h13v7h-13zM186 168h67v7h-67zM456 168h13v7h-13zM180 174h25v7h-25zM222 174h37v7h-37zM462 174h7v7h-7zM234 180h31v7h-31zM462 180h7v7h-7zM240 186h31v7h-31zM462 186h7v7h-7zM240 192h31v7h-31zM462 192h7v7h-7zM240 198h31v7h-31zM462 198h13v7h-13zM600 198h7v7h-7zM612 198h7v7h-7zM240 204h31v7h-31zM468 204h7v7h-7zM618 204h7v7h-7zM240 210h31v7h-31zM468 210h13v7h-13zM234 216h37v7h-37zM474 216h37v7h-37zM594 216h7v7h-7zM624 216h7v7h-7zM234 222h43v7h-43zM516 222h7v7h-7zM234 228h61v7h-61zM522 228h7v7h-7zM672 228h13v7h-13zM240 234h31v7h-31zM288 234h13v7h-13zM534 234h7v7h-7zM240 240h19v7h-19zM294 240h7v7h-7zM540 240h7v7h-7zM846 240h13v7h-13zM876 240h13v7h-13zM246 246h7v7h-7zM300 246h7v7h-7zM840 246h7v7h-7zM300 252h7v7h-7zM726 252h7v7h-7zM804 252h37v7h-37zM732 258h7v7h-7zM786 264h7v7h-7zM300 270h7v7h-7zM750 270h7v7h-7zM300 276h7v7h-7zM300 282h7v7h-7zM300 288h7v7h-7zM294 294h7v7h-7zM294 300h7v7h-7zM294 306h7v7h-7zM288 312h13v7h-13zM288 318h7v7h-7zM288 324h7v7h-7zM288 330h7v7h-7zM288 342h7v7h-7zM288 348h7v7h-7zM288 354h7v7h-7zM288 360h7v7h-7zM282 366h7v7h-7zM282 372h7v7h-7zM276 378h7v7h-7zM276 384h7v7h-7zM276 390h13v7h-13zM282 396h31v7h-31zM312 402h13v7h-13zM324 408h7v7h-7zM342 468h7v7h-7zM330 480h13v7h-13zM372 498h7v7h-7zM258 504h19v7h-19zM378 504h7v7h-7zM276 510h7v7h-7zM276 516h7v7h-7zM258 522h13v7h-13zM390 522h7v7h-7zM396 528h7v7h-7zM402 534h7v7h-7zM408 546h7v7h-7zM420 564h7v7h-7zM426 570h7v7h-7zM432 576h7v7h-7zM444 582h7v7h-7zM504 582h31v7h-31zM468 588h19v7h-19zM540 588h7v7h-7zM552 600h7v7h-7zM942 600h7v7h-7zM144 612h7v7h-7zM552 612h7v7h-7zM156 618h13v7h-13zM168 624h7v7h-7zM174 630h7v7h-7zM180 636h7v7h-7zM162 642h31v7h-31zM582 642h13v7h-13zM174 648h7v7h-7zM192 648h13v7h-13zM174 654h7v7h-7zM198 654h7v7h-7zM666 684h7v7h-7zM306 696h7v7h-7zM348 696h7v7h-7zM378 696h7v7h-7zM672 696h7v7h-7zM378 702h7v7h-7zM342 708h7v7h-7zM354 714h7v7h-7zM150 720h7v7h-7zM684 720h7v7h-7zM132 726h109v7h-109zM324 738h7v7h-7z"/>
<path fill="#2fffd0" d="M456 84h19v7h-19zM456 90h19v7h-19zM456 96h19v7h-19zM456 102h19v7h-19zM456 108h19v7h-19zM456 114h19v7h-19zM456 120h19v7h-19zM456 126h19v7h-19zM456 132h19v7h-19zM462 138h13v7h-13zM462 144h13v7h-13zM462 150h13v7h-13zM468 156h7v7h-7zM468 162h7v7h-7zM468 168h7v7h-7zM204 174h19v7h-19zM468 174h7v7h-7zM180 180h55v7h-55zM468 180h7v7h-7zM180 186h61v7h-61zM468 186h13v7h-13zM180 192h61v7h-61zM468 192h13v7h-13zM600 192h19v7h-19zM180 198h61v7h-61zM474 198h7v7h-7zM618 198h13v7h-13zM180 204h61v7h-61zM474 204h13v7h-13zM624 204h7v7h-7zM192 210h49v7h-49zM480 210h31v7h-31zM594 210h7v7h-7zM624 210h7v7h-7zM204 216h31v7h-31zM510 216h7v7h-7zM210 222h25v7h-25zM522 222h7v7h-7zM210 228h25v7h-25zM528 228h7v7h-7zM588 228h7v7h-7zM636 228h7v7h-7zM666 228h7v7h-7zM684 228h7v7h-7zM216 234h25v7h-25zM270 234h19v7h-19zM696 234h7v7h-7zM222 240h19v7h-19zM258 240h19v7h-19zM288 240h7v7h-7zM546 240h7v7h-7zM708 240h7v7h-7zM840 240h7v7h-7zM888 240h49v7h-49zM228 246h19v7h-19zM252 246h19v7h-19zM294 246h7v7h-7zM552 246h7v7h-7zM582 246h7v7h-7zM720 246h7v7h-7zM810 246h7v7h-7zM828 246h13v7h-13zM228 252h37v7h-37zM798 252h7v7h-7zM234 258h25v7h-25zM300 258h7v7h-7zM564 258h13v7h-13zM792 258h7v7h-7zM240 264h19v7h-19zM300 264h7v7h-7zM744 264h7v7h-7zM774 270h7v7h-7zM294 276h7v7h-7zM294 282h7v7h-7zM288 288h13v7h-13zM288 294h7v7h-7zM282 300h13v7h-13zM282 306h13v7h-13zM282 312h7v7h-7zM282 318h7v7h-7zM288 336h7v7h-7zM282 354h7v7h-7zM282 360h7v7h-7zM276 366h7v7h-7zM276 372h7v7h-7zM270 378h7v7h-7zM270 384h7v7h-7zM270 390h7v7h-7zM276 396h7v7h-7zM282 402h31v7h-31zM318 408h7v7h-7zM324 414h7v7h-7zM324 420h7v7h-7zM324 426h7v7h-7zM324 450h7v7h-7zM324 456h7v7h-7zM324 462h7v7h-7zM324 468h7v7h-7zM324 474h7v7h-7zM324 480h7v7h-7zM330 486h7v7h-7zM360 492h7v7h-7zM366 498h7v7h-7zM252 504h7v7h-7zM276 504h31v7h-31zM246 510h7v7h-7zM282 510h25v7h-25zM378 510h7v7h-7zM246 516h7v7h-7zM282 516h13v7h-13zM384 516h7v7h-7zM270 522h7v7h-7zM402 540h7v7h-7zM930 540h7v7h-7zM900 546h7v7h-7zM414 558h7v7h-7zM438 582h7v7h-7zM456 588h13v7h-13zM486 588h19v7h-19zM546 594h7v7h-7zM552 606h7v7h-7zM150 612h13v7h-13zM168 618h7v7h-7zM174 624h7v7h-7zM180 630h7v7h-7zM186 636h7v7h-7zM552 636h7v7h-7zM144 642h19v7h-19zM192 642h13v7h-13zM576 642h7v7h-7zM636 648h7v7h-7zM204 654h7v7h-7zM198 660h7v7h-7zM306 678h7v7h-7zM360 690h19v7h-19zM282 696h7v7h-7zM342 702h7v7h-7zM384 702h7v7h-7zM378 708h7v7h-7zM678 708h7v7h-7zM360 714h7v7h-7zM132 720h19v7h-19zM156 720h37v7h-37zM258 720h7v7h-7zM684 726h7v7h-7zM324 732h7v7h-7zM684 732h7v7h-7zM324 744h7v7h-7z"/>
<path fill="#3affc5" d="M474 84h19v7h-19zM474 90h19v7h-19zM474 96h19v7h-19zM474 102h13v7h-13zM474 108h13v7h-13zM474 114h19v7h-19zM474 120h19v7h-19zM474 126h19v7h-19zM474 132h19v7h-19zM474 138h19v7h-19zM474 144h19v7h-19zM474 150h13v7h-13zM474 156h13v7h-13zM474 162h13v7h-13zM474 168h13v7h-13zM474 174h13v7h-13zM474 180h13v7h-13zM480 186h7v7h-7zM606 186h13v7h-13zM480 192h7v7h-7zM594 192h7v7h-7zM618 192h13v7h-13zM480 198h13v7h-13zM594 198h7v7h-7zM486 204h19v7h-19zM594 204h7v7h-7zM180 210h13v7h-13zM510 210h7v7h-7zM180 216h25v7h-25zM180 222h31v7h-31zM630 222h7v7h-7zM180 228h31v7h-31zM660 228h7v7h-7zM180 234h37v7h-37zM540 234h7v7h-7zM846 234h31v7h-31zM192 240h31v7h-31zM276 240h13v7h-13zM828 240h13v7h-13zM204 246h25v7h-25zM270 246h25v7h-25zM798 246h13v7h-13zM816 246h13v7h-13zM210 252h19v7h-19zM264 252h13v7h-13zM288 252h13v7h-13zM558 252h7v7h-7zM732 252h7v7h-7zM792 252h7v7h-7zM210 258h25v7h-25zM258 258h13v7h-13zM294 258h7v7h-7zM738 258h7v7h-7zM786 258h7v7h-7zM210 264h31v7h-31zM258 264h13v7h-13zM294 264h7v7h-7zM780 264h7v7h-7zM216 270h49v7h-49zM288 270h13v7h-13zM756 270h7v7h-7zM222 276h43v7h-43zM288 276h7v7h-7zM282 282h13v7h-13zM276 288h13v7h-13zM276 294h13v7h-13zM276 300h7v7h-7zM276 306h7v7h-7zM276 312h7v7h-7zM276 318h7v7h-7zM282 324h7v7h-7zM282 330h7v7h-7zM282 336h7v7h-7zM282 342h7v7h-7zM282 348h7v7h-7zM276 360h7v7h-7zM270 372h7v7h-7zM264 384h7v7h-7zM264 390h7v7h-7zM270 396h7v7h-7zM270 402h13v7h-13zM282 408h37v7h-37zM318 414h7v7h-7zM324 432h7v7h-7zM324 438h7v7h-7zM324 444h7v7h-7zM318 480h7v7h-7zM318 486h13v7h-13zM336 486h7v7h-7zM324 492h13v7h-13zM282 498h37v7h-37zM306 504h13v7h-13zM372 504h7v7h-7zM306 510h7v7h-7zM294 516h13v7h-13zM252 522h7v7h-7zM276 522h7v7h-7zM384 522h7v7h-7zM390 528h7v7h-7zM396 534h7v7h-7zM876 540h7v7h-7zM408 552h7v7h-7zM414 564h7v7h-7zM420 570h7v7h-7zM426 576h7v7h-7zM954 582h7v7h-7zM450 588h7v7h-7zM504 588h19v7h-19zM534 588h7v7h-7zM930 588h7v7h-7zM468 594h25v7h-25zM540 594h7v7h-7zM546 600h7v7h-7zM144 606h13v7h-13zM162 612h13v7h-13zM174 618h7v7h-7zM180 624h7v7h-7zM546 624h7v7h-7zM186 630h7v7h-7zM192 636h7v7h-7zM564 642h13v7h-13zM168 648h7v7h-7zM204 648h7v7h-7zM210 654h7v7h-7zM642 654h7v7h-7zM204 660h7v7h-7zM648 660h7v7h-7zM660 672h7v7h-7zM354 690h7v7h-7zM378 690h7v7h-7zM666 690h7v7h-7zM384 696h7v7h-7zM306 702h7v7h-7zM390 702h7v7h-7zM306 708h7v7h-7zM384 708h7v7h-7zM342 714h7v7h-7zM192 720h13v7h-13zM684 738h7v7h-7zM684 744h7v7h-7zM324 750h7v7h-7zM684 750h7v7h-7zM684 756h7v7h-7z"/>
<path fill="#44ffbb" d="M492 84h13v7h-13zM492 90h13v7h-13zM492 96h13v7h-13zM486 102h19v7h-19zM486 108h19v7h-19zM492 114h13v7h-13zM492 120h13v7h-13zM492 126h13v7h-13zM492 132h13v7h-13zM492 138h13v7h-13zM492 144h13v7h-13zM486 150h13v7h-13zM486 156h13v7h-13zM486 162h7v7h-7zM486 168h7v7h-7zM486 174h7v7h-7zM486 180h7v7h-7zM606 180h13v7h-13zM486 186h7v7h-7zM588 186h19v7h-19zM618 186h19v7h-19zM486 192h7v7h-7zM588 192h7v7h-7zM630 192h7v7h-7zM492 198h7v7h-7zM630 198h7v7h-7zM504 204h19v7h-19zM630 204h7v7h-7zM516 210h7v7h-7zM516 216h7v7h-7zM528 222h7v7h-7zM534 228h7v7h-7zM642 228h19v7h-19zM690 228h7v7h-7zM546 234h7v7h-7zM702 234h7v7h-7zM834 234h13v7h-13zM876 234h13v7h-13zM174 240h19v7h-19zM552 240h7v7h-7zM582 240h7v7h-7zM714 240h7v7h-7zM798 240h31v7h-31zM174 246h31v7h-31zM726 246h7v7h-7zM792 246h7v7h-7zM174 252h37v7h-37zM276 252h13v7h-13zM576 252h7v7h-7zM174 258h37v7h-37zM270 258h25v7h-25zM174 264h37v7h-37zM270 264h25v7h-25zM750 264h7v7h-7zM174 270h43v7h-43zM264 270h25v7h-25zM762 270h13v7h-13zM174 276h49v7h-49zM264 276h25v7h-25zM174 282h109v7h-109zM174 288h103v7h-103zM174 294h103v7h-103zM174 300h19v7h-19zM258 300h19v7h-19zM264 306h13v7h-13zM264 312h13v7h-13zM270 318h7v7h-7zM276 324h7v7h-7zM276 330h7v7h-7zM276 336h7v7h-7zM276 342h7v7h-7zM276 348h7v7h-7zM276 354h7v7h-7zM270 360h7v7h-7zM270 366h7v7h-7zM264 372h7v7h-7zM264 378h7v7h-7zM264 396h7v7h-7zM264 402h7v7h-7zM270 408h13v7h-13zM306 414h13v7h-13zM318 420h7v7h-7zM318 426h7v7h-7zM318 462h7v7h-7zM318 468h7v7h-7zM318 474h7v7h-7zM348 474h7v7h-7zM312 486h7v7h-7zM354 486h7v7h-7zM288 492h37v7h-37zM264 498h19v7h-19zM318 498h13v7h-13zM360 498h7v7h-7zM246 504h7v7h-7zM318 504h7v7h-7zM366 504h7v7h-7zM312 510h7v7h-7zM372 510h7v7h-7zM306 516h7v7h-7zM378 516h7v7h-7zM282 522h19v7h-19zM264 528h7v7h-7zM402 546h7v7h-7zM882 546h7v7h-7zM432 582h7v7h-7zM948 582h7v7h-7zM444 588h7v7h-7zM522 588h13v7h-13zM462 594h7v7h-7zM492 594h13v7h-13zM144 600h7v7h-7zM918 600h7v7h-7zM156 606h19v7h-19zM546 606h7v7h-7zM174 612h7v7h-7zM546 612h7v7h-7zM828 612h7v7h-7zM180 618h7v7h-7zM546 618h7v7h-7zM186 624h7v7h-7zM192 630h7v7h-7zM546 630h7v7h-7zM198 636h7v7h-7zM204 642h7v7h-7zM558 642h7v7h-7zM162 648h7v7h-7zM210 648h7v7h-7zM630 648h7v7h-7zM168 654h7v7h-7zM216 654h7v7h-7zM174 660h7v7h-7zM210 660h7v7h-7zM192 666h19v7h-19zM654 666h7v7h-7zM288 684h7v7h-7zM384 690h7v7h-7zM390 696h7v7h-7zM672 702h7v7h-7zM390 708h7v7h-7zM138 714h25v7h-25zM366 714h7v7h-7zM678 714h7v7h-7zM204 720h7v7h-7zM318 720h7v7h-7zM324 726h7v7h-7zM414 738h13v7h-13zM414 744h13v7h-13zM414 750h13v7h-13zM324 756h7v7h-7zM414 756h13v7h-13z"/>
<path fill="#4fffb0" d="M504 84h37v7h-37zM504 90h37v7h-37zM504 96h37v7h-37zM504 102h43v7h-43zM504 108h43v7h-43zM504 114h43v7h-43zM504 120h43v7h-43zM504 126h31v7h-31zM504 132h25v7h-25zM504 138h19v7h-19zM504 144h19v7h-19zM498 150h19v7h-19zM498 156h13v7h-13zM492 162h13v7h-13zM492 168h7v7h-7zM492 174h7v7h-7zM594 174h25v7h-25zM492 180h7v7h-7zM564 180h43v7h-43zM618 180h19v7h-19zM492 186h7v7h-7zM570 186h19v7h-19zM636 186h7v7h-7zM492 192h13v7h-13zM582 192h7v7h-7zM636 192h7v7h-7zM498 198h19v7h-19zM588 198h7v7h-7zM636 198h7v7h-7zM522 204h7v7h-7zM522 210h7v7h-7zM630 210h7v7h-7zM522 216h7v7h-7zM630 216h7v7h-7zM588 222h7v7h-7zM672 222h13v7h-13zM582 234h7v7h-7zM804 234h31v7h-31zM888 234h13v7h-13zM924 234h13v7h-13zM792 240h7v7h-7zM738 252h7v7h-7zM786 252h7v7h-7zM744 258h7v7h-7zM780 258h7v7h-7zM774 264h7v7h-7zM192 300h67v7h-67zM168 306h97v7h-97zM168 312h67v7h-67zM246 312h19v7h-19zM258 318h13v7h-13zM264 324h13v7h-13zM270 330h7v7h-7zM270 336h7v7h-7zM270 354h7v7h-7zM264 366h7v7h-7zM258 378h7v7h-7zM258 384h7v7h-7zM258 390h7v7h-7zM258 396h7v7h-7zM264 408h7v7h-7zM270 414h37v7h-37zM312 420h7v7h-7zM318 432h7v7h-7zM318 438h7v7h-7zM318 444h7v7h-7zM318 450h7v7h-7zM318 456h7v7h-7zM312 474h7v7h-7zM342 474h7v7h-7zM312 480h7v7h-7zM300 486h13v7h-13zM282 492h7v7h-7zM336 492h7v7h-7zM258 498h7v7h-7zM330 498h7v7h-7zM324 504h7v7h-7zM240 510h7v7h-7zM318 510h7v7h-7zM240 516h7v7h-7zM312 516h7v7h-7zM246 522h7v7h-7zM300 522h13v7h-13zM378 522h7v7h-7zM258 528h7v7h-7zM270 528h7v7h-7zM384 528h7v7h-7zM390 534h7v7h-7zM396 540h7v7h-7zM408 558h7v7h-7zM414 570h7v7h-7zM420 576h7v7h-7zM438 588h7v7h-7zM456 594h7v7h-7zM504 594h13v7h-13zM534 594h7v7h-7zM150 600h25v7h-25zM468 600h25v7h-25zM540 600h7v7h-7zM174 606h7v7h-7zM180 612h13v7h-13zM186 618h13v7h-13zM192 624h7v7h-7zM198 630h7v7h-7zM204 636h7v7h-7zM546 636h7v7h-7zM210 642h7v7h-7zM552 642h7v7h-7zM150 648h13v7h-13zM216 648h7v7h-7zM606 648h25v7h-25zM222 654h7v7h-7zM216 660h7v7h-7zM186 666h7v7h-7zM210 666h7v7h-7zM660 678h7v7h-7zM348 690h7v7h-7zM342 696h7v7h-7zM396 696h7v7h-7zM396 702h7v7h-7zM396 708h13v7h-13zM162 714h13v7h-13zM312 714h7v7h-7zM372 714h7v7h-7zM210 720h7v7h-7zM414 720h7v7h-7zM678 720h7v7h-7zM414 726h13v7h-13zM414 732h13v7h-13zM426 738h7v7h-7zM426 744h7v7h-7zM426 750h7v7h-7zM426 756h7v7h-7z"/>
<path fill="#5affa5" d="M540 84h19v7h-19zM540 90h19v7h-19zM540 96h25v7h-25zM546 102h19v7h-19zM546 108h19v7h-19zM546 114h19v7h-19zM546 120h19v7h-19zM534 126h25v7h-25zM528 132h31v7h-31zM522 138h31v7h-31zM522 144h25v7h-25zM516 150h25v7h-25zM510 156h25v7h-25zM504 162h19v7h-19zM552 162h31v7h-31zM498 168h13v7h-13zM546 168h79v7h-79zM498 174h7v7h-7zM540 174h55v7h-55zM618 174h19v7h-19zM498 180h7v7h-7zM534 180h31v7h-31zM636 180h7v7h-7zM498 186h7v7h-7zM534 186h37v7h-37zM642 186h7v7h-7zM504 192h43v7h-43zM576 192h7v7h-7zM642 192h7v7h-7zM516 198h19v7h-19zM528 204h7v7h-7zM528 210h7v7h-7zM528 216h7v7h-7zM534 222h7v7h-7zM636 222h7v7h-7zM684 222h7v7h-7zM540 228h7v7h-7zM696 228h7v7h-7zM828 228h43v7h-43zM552 234h7v7h-7zM708 234h7v7h-7zM792 234h13v7h-13zM900 234h25v7h-25zM720 240h7v7h-7zM558 246h7v7h-7zM732 246h7v7h-7zM786 246h7v7h-7zM564 252h7v7h-7zM756 264h7v7h-7zM234 312h13v7h-13zM168 318h91v7h-91zM168 324h67v7h-67zM258 324h7v7h-7zM204 330h19v7h-19zM264 330h7v7h-7zM270 342h7v7h-7zM270 348h7v7h-7zM264 354h7v7h-7zM264 360h7v7h-7zM258 366h7v7h-7zM258 372h7v7h-7zM258 402h7v7h-7zM258 408h7v7h-7zM264 414h7v7h-7zM306 420h7v7h-7zM312 426h7v7h-7zM312 468h7v7h-7zM306 480h7v7h-7zM288 486h13v7h-13zM276 492h7v7h-7zM252 498h7v7h-7zM366 510h7v7h-7zM318 516h7v7h-7zM372 516h7v7h-7zM312 522h7v7h-7zM252 528h7v7h-7zM276 528h31v7h-31zM396 546h7v7h-7zM894 546h7v7h-7zM402 552h7v7h-7zM408 564h7v7h-7zM426 582h7v7h-7zM144 588h19v7h-19zM954 588h7v7h-7zM144 594h37v7h-37zM450 594h7v7h-7zM516 594h7v7h-7zM174 600h13v7h-13zM462 600h7v7h-7zM492 600h7v7h-7zM180 606h13v7h-13zM192 612h7v7h-7zM858 612h7v7h-7zM198 618h7v7h-7zM198 624h13v7h-13zM204 630h7v7h-7zM210 636h7v7h-7zM216 642h7v7h-7zM144 648h7v7h-7zM222 648h7v7h-7zM594 648h13v7h-13zM162 654h7v7h-7zM228 654h7v7h-7zM222 660h13v7h-13zM180 666h7v7h-7zM216 666h7v7h-7zM294 678h7v7h-7zM366 684h19v7h-19zM390 690h7v7h-7zM402 696h7v7h-7zM666 696h7v7h-7zM402 702h7v7h-7zM138 708h7v7h-7zM336 708h7v7h-7zM408 708h7v7h-7zM672 708h7v7h-7zM174 714h7v7h-7zM378 714h7v7h-7zM396 714h25v7h-25zM216 720h7v7h-7zM252 720h7v7h-7zM408 720h7v7h-7zM420 720h7v7h-7zM408 726h7v7h-7zM426 726h7v7h-7zM678 726h7v7h-7zM408 732h7v7h-7zM426 732h7v7h-7zM408 738h7v7h-7zM408 744h7v7h-7z"/>
<path fill="#65ff9a" d="M558 84h19v7h-19zM558 90h19v7h-19zM564 96h13v7h-13zM564 102h13v7h-13zM564 108h13v7h-13zM564 114h13v7h-13zM564 120h13v7h-13zM558 126h19v7h-19zM558 132h19v7h-19zM552 138h25v7h-25zM546 144h37v7h-37zM540 150h49v7h-49zM534 156h67v7h-67zM522 162h31v7h-31zM582 162h49v7h-49zM510 168h37v7h-37zM624 168h13v7h-13zM504 174h37v7h-37zM636 174h7v7h-7zM504 180h31v7h-31zM642 180h7v7h-7zM504 186h31v7h-31zM648 186h7v7h-7zM546 192h31v7h-31zM648 192h7v7h-7zM534 198h7v7h-7zM582 198h7v7h-7zM642 198h7v7h-7zM588 204h7v7h-7zM636 204h7v7h-7zM666 222h7v7h-7zM690 222h7v7h-7zM582 228h7v7h-7zM798 228h31v7h-31zM870 228h13v7h-13zM786 234h7v7h-7zM558 240h7v7h-7zM786 240h7v7h-7zM576 246h7v7h-7zM570 252h7v7h-7zM744 252h7v7h-7zM780 252h7v7h-7zM750 258h7v7h-7zM234 324h25v7h-25zM168 330h37v7h-37zM222 330h43v7h-43zM168 336h67v7h-67zM258 336h13v7h-13zM264 342h7v7h-7zM264 348h7v7h-7zM258 360h7v7h-7zM252 372h7v7h-7zM252 378h7v7h-7zM252 384h7v7h-7zM252 390h7v7h-7zM252 396h7v7h-7zM258 414h7v7h-7zM264 420h43v7h-43zM306 426h7v7h-7zM312 432h7v7h-7zM312 462h7v7h-7zM306 474h7v7h-7zM294 480h13v7h-13zM282 486h7v7h-7zM270 492h7v7h-7zM354 492h7v7h-7zM336 498h7v7h-7zM240 504h7v7h-7zM330 504h7v7h-7zM360 504h7v7h-7zM324 510h7v7h-7zM318 522h7v7h-7zM306 528h13v7h-13zM378 528h7v7h-7zM384 534h7v7h-7zM390 540h7v7h-7zM888 546h7v7h-7zM402 558h7v7h-7zM150 576h43v7h-43zM414 576h7v7h-7zM144 582h49v7h-49zM162 588h31v7h-31zM432 588h7v7h-7zM180 594h19v7h-19zM444 594h7v7h-7zM522 594h13v7h-13zM924 594h7v7h-7zM948 594h7v7h-7zM186 600h13v7h-13zM456 600h7v7h-7zM498 600h13v7h-13zM936 600h7v7h-7zM192 606h13v7h-13zM468 606h19v7h-19zM540 606h7v7h-7zM198 612h7v7h-7zM204 618h7v7h-7zM210 624h7v7h-7zM210 630h7v7h-7zM216 636h7v7h-7zM222 642h7v7h-7zM546 642h7v7h-7zM228 648h13v7h-13zM588 648h7v7h-7zM234 654h13v7h-13zM168 660h7v7h-7zM234 660h7v7h-7zM222 666h7v7h-7zM360 684h7v7h-7zM384 684h7v7h-7zM660 684h7v7h-7zM396 690h7v7h-7zM336 702h7v7h-7zM408 702h7v7h-7zM144 708h13v7h-13zM414 708h7v7h-7zM180 714h13v7h-13zM336 714h7v7h-7zM384 714h13v7h-13zM420 714h7v7h-7zM222 720h7v7h-7zM324 720h7v7h-7zM342 720h13v7h-13zM402 720h7v7h-7zM426 720h7v7h-7zM330 726h7v7h-7zM330 732h7v7h-7zM432 732h7v7h-7zM678 732h7v7h-7zM330 738h7v7h-7zM432 738h7v7h-7zM678 738h7v7h-7zM432 744h7v7h-7zM678 744h7v7h-7zM408 750h7v7h-7zM432 750h7v7h-7zM678 750h7v7h-7zM408 756h7v7h-7zM432 756h7v7h-7zM678 756h7v7h-7z"/>
<path fill="#6fff90" d="M576 84h13v7h-13zM576 90h13v7h-13zM576 96h13v7h-13zM576 102h7v7h-7zM576 108h7v7h-7zM576 114h7v7h-7zM576 120h7v7h-7zM576 126h13v7h-13zM576 132h13v7h-13zM576 138h19v7h-19zM582 144h19v7h-19zM588 150h25v7h-25zM600 156h31v7h-31zM630 162h7v7h-7zM636 168h7v7h-7zM642 174h7v7h-7zM648 180h7v7h-7zM654 192h7v7h-7zM540 198h7v7h-7zM648 198h7v7h-7zM534 204h7v7h-7zM588 210h7v7h-7zM534 216h7v7h-7zM588 216h7v7h-7zM672 216h19v7h-19zM546 228h7v7h-7zM702 228h7v7h-7zM792 228h7v7h-7zM882 228h7v7h-7zM558 234h7v7h-7zM714 234h7v7h-7zM726 240h7v7h-7zM780 240h7v7h-7zM738 246h7v7h-7zM780 246h7v7h-7zM774 258h7v7h-7zM762 264h13v7h-13zM234 336h25v7h-25zM168 342h73v7h-73zM252 342h13v7h-13zM258 348h7v7h-7zM258 354h7v7h-7zM252 360h7v7h-7zM252 366h7v7h-7zM252 402h7v7h-7zM252 408h7v7h-7zM258 420h7v7h-7zM258 426h19v7h-19zM300 426h7v7h-7zM312 438h7v7h-7zM312 444h7v7h-7zM312 450h7v7h-7zM312 456h7v7h-7zM306 468h7v7h-7zM300 474h7v7h-7zM288 480h7v7h-7zM342 480h7v7h-7zM276 486h7v7h-7zM264 492h7v7h-7zM246 498h7v7h-7zM234 510h7v7h-7zM330 510h7v7h-7zM234 516h7v7h-7zM324 516h7v7h-7zM366 516h7v7h-7zM240 522h7v7h-7zM372 522h7v7h-7zM246 528h7v7h-7zM318 528h7v7h-7zM258 534h13v7h-13zM294 534h13v7h-13zM900 540h7v7h-7zM396 552h7v7h-7zM156 558h49v7h-49zM150 564h61v7h-61zM150 570h61v7h-61zM408 570h7v7h-7zM192 576h19v7h-19zM192 582h19v7h-19zM420 582h7v7h-7zM192 588h19v7h-19zM426 588h7v7h-7zM198 594h13v7h-13zM438 594h7v7h-7zM198 600h13v7h-13zM450 600h7v7h-7zM510 600h7v7h-7zM534 600h7v7h-7zM204 606h7v7h-7zM462 606h7v7h-7zM486 606h13v7h-13zM204 612h13v7h-13zM540 612h7v7h-7zM210 618h7v7h-7zM216 624h7v7h-7zM216 630h7v7h-7zM222 636h7v7h-7zM228 642h13v7h-13zM240 648h7v7h-7zM582 648h7v7h-7zM156 654h7v7h-7zM246 654h7v7h-7zM240 660h13v7h-13zM174 666h7v7h-7zM228 666h7v7h-7zM186 672h31v7h-31zM306 672h7v7h-7zM354 684h7v7h-7zM390 684h7v7h-7zM282 690h7v7h-7zM402 690h7v7h-7zM408 696h7v7h-7zM414 702h7v7h-7zM666 702h7v7h-7zM156 708h13v7h-13zM420 708h7v7h-7zM192 714h7v7h-7zM318 714h7v7h-7zM426 714h7v7h-7zM672 714h7v7h-7zM228 720h7v7h-7zM246 720h7v7h-7zM330 720h13v7h-13zM354 720h7v7h-7zM396 720h7v7h-7zM432 720h7v7h-7zM402 726h7v7h-7zM432 726h7v7h-7zM330 744h7v7h-7z"/>
<path fill="#7aff85" d="M588 84h7v7h-7zM588 90h7v7h-7zM588 96h7v7h-7zM582 102h13v7h-13zM582 108h13v7h-13zM582 114h13v7h-13zM582 120h13v7h-13zM588 126h13v7h-13zM588 132h13v7h-13zM594 138h13v7h-13zM600 144h19v7h-19zM612 150h19v7h-19zM630 156h13v7h-13zM636 162h7v7h-7zM642 168h7v7h-7zM648 174h7v7h-7zM654 186h7v7h-7zM660 192h7v7h-7zM546 198h7v7h-7zM576 198h7v7h-7zM654 198h13v7h-13zM642 204h7v7h-7zM534 210h7v7h-7zM636 210h7v7h-7zM678 210h7v7h-7zM636 216h7v7h-7zM540 222h7v7h-7zM642 222h7v7h-7zM660 222h7v7h-7zM696 222h7v7h-7zM810 222h49v7h-49zM786 228h7v7h-7zM888 228h49v7h-49zM780 234h7v7h-7zM576 240h7v7h-7zM732 240h7v7h-7zM240 342h13v7h-13zM168 348h91v7h-91zM168 354h25v7h-25zM246 354h13v7h-13zM246 360h7v7h-7zM246 366h7v7h-7zM246 372h7v7h-7zM246 378h7v7h-7zM246 384h7v7h-7zM246 390h7v7h-7zM252 414h7v7h-7zM252 420h7v7h-7zM252 426h7v7h-7zM276 426h25v7h-25zM258 432h13v7h-13zM306 432h7v7h-7zM306 462h7v7h-7zM294 474h7v7h-7zM282 480h7v7h-7zM348 480h7v7h-7zM270 486h7v7h-7zM258 492h7v7h-7zM234 504h7v7h-7zM336 504h7v7h-7zM360 510h7v7h-7zM330 516h7v7h-7zM324 522h7v7h-7zM252 534h7v7h-7zM270 534h7v7h-7zM282 534h13v7h-13zM306 534h13v7h-13zM378 534h7v7h-7zM384 540h7v7h-7zM150 546h61v7h-61zM390 546h7v7h-7zM150 552h67v7h-67zM150 558h7v7h-7zM204 558h19v7h-19zM210 564h13v7h-13zM402 564h7v7h-7zM210 570h13v7h-13zM210 576h13v7h-13zM210 582h13v7h-13zM210 588h13v7h-13zM210 594h13v7h-13zM210 600h13v7h-13zM516 600h7v7h-7zM924 600h7v7h-7zM210 606h13v7h-13zM456 606h7v7h-7zM498 606h7v7h-7zM216 612h7v7h-7zM468 612h19v7h-19zM216 618h13v7h-13zM540 618h7v7h-7zM222 624h7v7h-7zM222 630h13v7h-13zM228 636h13v7h-13zM240 642h7v7h-7zM246 648h13v7h-13zM558 648h25v7h-25zM150 654h7v7h-7zM252 654h7v7h-7zM636 654h7v7h-7zM162 660h7v7h-7zM252 660h7v7h-7zM234 666h13v7h-13zM180 672h7v7h-7zM216 672h7v7h-7zM300 672h7v7h-7zM654 672h7v7h-7zM396 684h13v7h-13zM342 690h7v7h-7zM408 690h7v7h-7zM660 690h7v7h-7zM414 696h7v7h-7zM138 702h7v7h-7zM420 702h7v7h-7zM168 708h7v7h-7zM312 708h7v7h-7zM426 708h7v7h-7zM198 714h7v7h-7zM330 714h7v7h-7zM432 714h7v7h-7zM234 720h13v7h-13zM672 720h7v7h-7zM438 726h7v7h-7zM402 732h7v7h-7zM438 732h7v7h-7zM402 738h7v7h-7zM438 738h7v7h-7zM438 744h7v7h-7zM330 750h7v7h-7zM438 750h7v7h-7zM330 756h7v7h-7zM438 756h7v7h-7z"/>
<path fill="#85ff7a" d="M594 84h13v7h-13zM594 90h13v7h-13zM594 96h13v7h-13zM594 102h13v7h-13zM594 108h13v7h-13zM594 114h13v7h-13zM594 120h13v7h-13zM600 126h13v7h-13zM600 132h19v7h-19zM606 138h19v7h-19zM618 144h19v7h-19zM630 150h13v7h-13zM642 162h7v7h-7zM648 168h7v7h-7zM654 180h7v7h-7zM660 186h7v7h-7zM552 198h7v7h-7zM666 198h7v7h-7zM540 204h7v7h-7zM666 204h13v7h-13zM672 210h7v7h-7zM684 210h7v7h-7zM690 216h7v7h-7zM582 222h7v7h-7zM792 222h19v7h-19zM858 222h13v7h-13zM552 228h7v7h-7zM576 228h7v7h-7zM708 228h7v7h-7zM780 228h7v7h-7zM576 234h7v7h-7zM720 234h7v7h-7zM774 234h7v7h-7zM774 240h7v7h-7zM564 246h7v7h-7zM744 246h7v7h-7zM774 246h7v7h-7zM750 252h7v7h-7zM774 252h7v7h-7zM756 258h7v7h-7zM192 354h55v7h-55zM168 360h25v7h-25zM240 360h7v7h-7zM240 366h7v7h-7zM246 396h7v7h-7zM246 402h7v7h-7zM252 432h7v7h-7zM270 432h13v7h-13zM300 432h7v7h-7zM258 438h7v7h-7zM306 438h7v7h-7zM306 444h7v7h-7zM306 450h7v7h-7zM306 456h7v7h-7zM300 468h7v7h-7zM288 474h7v7h-7zM270 480h13v7h-13zM264 486h7v7h-7zM252 492h7v7h-7zM240 498h7v7h-7zM228 510h7v7h-7zM228 516h7v7h-7zM234 522h7v7h-7zM330 522h7v7h-7zM366 522h7v7h-7zM240 528h7v7h-7zM324 528h7v7h-7zM372 528h7v7h-7zM150 534h67v7h-67zM246 534h7v7h-7zM276 534h7v7h-7zM318 534h7v7h-7zM150 540h73v7h-73zM210 546h19v7h-19zM216 552h13v7h-13zM222 558h13v7h-13zM396 558h7v7h-7zM222 564h13v7h-13zM222 570h13v7h-13zM222 576h13v7h-13zM408 576h7v7h-7zM222 582h13v7h-13zM414 582h7v7h-7zM222 588h13v7h-13zM420 588h7v7h-7zM222 594h13v7h-13zM432 594h7v7h-7zM222 600h13v7h-13zM444 600h7v7h-7zM522 600h13v7h-13zM222 606h13v7h-13zM504 606h13v7h-13zM222 612h13v7h-13zM462 612h7v7h-7zM486 612h7v7h-7zM228 618h7v7h-7zM228 624h13v7h-13zM540 624h7v7h-7zM234 630h7v7h-7zM240 636h7v7h-7zM246 642h13v7h-13zM258 648h7v7h-7zM552 648h7v7h-7zM138 654h13v7h-13zM258 654h7v7h-7zM258 660h7v7h-7zM642 660h7v7h-7zM168 666h7v7h-7zM246 666h13v7h-13zM648 666h7v7h-7zM174 672h7v7h-7zM222 672h7v7h-7zM288 678h7v7h-7zM366 678h31v7h-31zM348 684h7v7h-7zM408 684h7v7h-7zM414 690h7v7h-7zM336 696h7v7h-7zM420 696h13v7h-13zM144 702h19v7h-19zM426 702h13v7h-13zM174 708h7v7h-7zM330 708h7v7h-7zM432 708h7v7h-7zM666 708h7v7h-7zM204 714h7v7h-7zM324 714h7v7h-7zM438 714h7v7h-7zM390 720h7v7h-7zM438 720h7v7h-7zM336 726h7v7h-7zM396 726h7v7h-7zM672 726h7v7h-7zM402 744h7v7h-7zM402 750h7v7h-7zM402 756h7v7h-7z"/>
<path fill="#90ff6f" d="M606 84h19v7h-19zM606 90h19v7h-19zM606 96h13v7h-13zM606 102h13v7h-13zM606 108h7v7h-7zM606 114h13v7h-13zM606 120h13v7h-13zM612 126h13v7h-13zM618 132h13v7h-13zM624 138h13v7h-13zM636 144h7v7h-7zM642 150h7v7h-7zM642 156h7v7h-7zM648 162h7v7h-7zM654 174h7v7h-7zM660 180h7v7h-7zM666 192h7v7h-7zM558 198h19v7h-19zM672 198h7v7h-7zM582 204h7v7h-7zM648 204h19v7h-19zM678 204h7v7h-7zM666 210h7v7h-7zM666 216h7v7h-7zM648 222h13v7h-13zM702 222h7v7h-7zM786 222h7v7h-7zM870 222h13v7h-13zM558 228h7v7h-7zM774 228h7v7h-7zM564 234h7v7h-7zM726 234h7v7h-7zM564 240h7v7h-7zM738 240h7v7h-7zM570 246h7v7h-7zM768 258h7v7h-7zM192 360h49v7h-49zM168 366h19v7h-19zM234 366h7v7h-7zM240 372h7v7h-7zM240 378h7v7h-7zM246 408h7v7h-7zM246 414h7v7h-7zM246 420h7v7h-7zM282 432h19v7h-19zM252 438h7v7h-7zM264 438h13v7h-13zM300 438h7v7h-7zM300 462h7v7h-7zM294 468h7v7h-7zM276 474h13v7h-13zM264 480h7v7h-7zM258 486h7v7h-7zM246 492h7v7h-7zM234 498h7v7h-7zM354 498h7v7h-7zM228 504h7v7h-7zM222 510h7v7h-7zM336 510h7v7h-7zM222 516h7v7h-7zM360 516h7v7h-7zM150 522h85v7h-85zM150 528h91v7h-91zM216 534h31v7h-31zM324 534h7v7h-7zM222 540h19v7h-19zM246 540h25v7h-25zM288 540h37v7h-37zM228 546h13v7h-13zM228 552h13v7h-13zM390 552h7v7h-7zM234 558h7v7h-7zM234 564h7v7h-7zM234 570h7v7h-7zM402 570h7v7h-7zM234 576h7v7h-7zM234 582h13v7h-13zM234 588h13v7h-13zM936 588h7v7h-7zM234 594h13v7h-13zM426 594h7v7h-7zM234 600h13v7h-13zM438 600h7v7h-7zM930 600h7v7h-7zM234 606h13v7h-13zM450 606h7v7h-7zM534 606h7v7h-7zM234 612h13v7h-13zM456 612h7v7h-7zM492 612h13v7h-13zM834 612h7v7h-7zM234 618h13v7h-13zM468 618h19v7h-19zM240 624h7v7h-7zM240 630h13v7h-13zM540 630h7v7h-7zM246 636h13v7h-13zM258 642h7v7h-7zM264 648h7v7h-7zM546 648h7v7h-7zM264 654h7v7h-7zM156 660h7v7h-7zM264 660h7v7h-7zM258 666h13v7h-13zM228 672h7v7h-7zM198 678h19v7h-19zM360 678h7v7h-7zM396 678h13v7h-13zM282 684h7v7h-7zM414 684h7v7h-7zM420 690h13v7h-13zM432 696h7v7h-7zM660 696h7v7h-7zM162 702h7v7h-7zM276 702h7v7h-7zM312 702h7v7h-7zM438 702h7v7h-7zM180 708h13v7h-13zM438 708h7v7h-7zM210 714h7v7h-7zM264 714h7v7h-7zM360 720h7v7h-7zM444 720h7v7h-7zM444 726h7v7h-7zM336 732h7v7h-7zM444 732h7v7h-7zM672 732h7v7h-7zM444 738h7v7h-7zM672 738h7v7h-7zM444 744h7v7h-7zM672 744h7v7h-7zM444 750h7v7h-7zM672 750h7v7h-7zM444 756h7v7h-7zM672 756h7v7h-7z"/>
<path fill="#9aff65" d="M624 84h13v7h-13zM624 90h13v7h-13zM618 96h13v7h-13zM618 102h13v7h-13zM612 108h13v7h-13zM618 114h13v7h-13zM618 120h13v7h-13zM624 126h13v7h-13zM630 132h7v7h-7zM636 138h7v7h-7zM642 144h7v7h-7zM648 156h7v7h-7zM654 168h7v7h-7zM660 174h7v7h-7zM666 186h7v7h-7zM672 192h7v7h-7zM540 210h7v7h-7zM690 210h7v7h-7zM540 216h7v7h-7zM696 216h7v7h-7zM546 222h7v7h-7zM774 222h13v7h-13zM882 222h13v7h-13zM564 228h13v7h-13zM714 228h7v7h-7zM570 234h7v7h-7zM744 240h7v7h-7zM750 246h7v7h-7zM762 258h7v7h-7zM186 366h25v7h-25zM228 366h7v7h-7zM168 372h19v7h-19zM234 372h7v7h-7zM240 384h7v7h-7zM240 390h7v7h-7zM246 426h7v7h-7zM246 432h7v7h-7zM246 438h7v7h-7zM276 438h7v7h-7zM246 444h19v7h-19zM300 444h7v7h-7zM300 450h7v7h-7zM300 456h7v7h-7zM288 468h7v7h-7zM258 474h19v7h-19zM258 480h7v7h-7zM252 486h7v7h-7zM342 486h7v7h-7zM240 492h7v7h-7zM228 498h7v7h-7zM204 504h25v7h-25zM156 510h67v7h-67zM150 516h73v7h-73zM336 516h7v7h-7zM330 528h7v7h-7zM366 528h7v7h-7zM372 534h7v7h-7zM240 540h7v7h-7zM282 540h7v7h-7zM324 540h7v7h-7zM378 540h7v7h-7zM882 540h7v7h-7zM240 546h25v7h-25zM300 546h13v7h-13zM384 546h7v7h-7zM240 552h13v7h-13zM240 558h13v7h-13zM240 564h13v7h-13zM396 564h7v7h-7zM240 570h13v7h-13zM240 576h13v7h-13zM246 582h7v7h-7zM408 582h7v7h-7zM246 588h7v7h-7zM414 588h7v7h-7zM246 594h13v7h-13zM420 594h7v7h-7zM246 600h13v7h-13zM432 600h7v7h-7zM246 606h13v7h-13zM444 606h7v7h-7zM516 606h7v7h-7zM246 612h13v7h-13zM504 612h7v7h-7zM246 618h13v7h-13zM462 618h7v7h-7zM486 618h7v7h-7zM246 624h13v7h-13zM252 630h7v7h-7zM258 636h7v7h-7zM540 636h7v7h-7zM264 642h7v7h-7zM270 654h7v7h-7zM630 654h7v7h-7zM270 660h7v7h-7zM162 666h7v7h-7zM270 666h7v7h-7zM168 672h7v7h-7zM234 672h7v7h-7zM180 678h19v7h-19zM216 678h7v7h-7zM282 678h7v7h-7zM354 678h7v7h-7zM408 678h13v7h-13zM654 678h7v7h-7zM420 684h13v7h-13zM432 690h7v7h-7zM138 696h19v7h-19zM438 696h7v7h-7zM168 702h13v7h-13zM330 702h7v7h-7zM444 702h7v7h-7zM660 702h7v7h-7zM192 708h13v7h-13zM318 708h13v7h-13zM444 708h7v7h-7zM444 714h7v7h-7zM666 714h7v7h-7zM384 720h7v7h-7zM342 726h7v7h-7zM396 732h7v7h-7z"/>
<path fill="#a5ff5a" d="M636 84h7v7h-7zM636 90h7v7h-7zM630 96h13v7h-13zM630 102h7v7h-7zM624 108h13v7h-13zM630 114h7v7h-7zM630 120h13v7h-13zM636 126h7v7h-7zM636 132h7v7h-7zM642 138h7v7h-7zM648 150h7v7h-7zM654 162h7v7h-7zM660 168h7v7h-7zM666 180h7v7h-7zM672 186h7v7h-7zM678 198h7v7h-7zM546 204h7v7h-7zM684 204h7v7h-7zM642 210h7v7h-7zM660 210h7v7h-7zM642 216h7v7h-7zM804 216h49v7h-49zM708 222h7v7h-7zM894 222h43v7h-43zM768 228h7v7h-7zM732 234h13v7h-13zM768 234h7v7h-7zM570 240h7v7h-7zM768 240h7v7h-7zM768 246h7v7h-7zM756 252h7v7h-7zM768 252h7v7h-7zM210 366h19v7h-19zM186 372h19v7h-19zM162 378h31v7h-31zM234 378h7v7h-7zM240 396h7v7h-7zM282 438h19v7h-19zM264 444h7v7h-7zM246 450h13v7h-13zM246 462h7v7h-7zM294 462h7v7h-7zM246 468h25v7h-25zM276 468h13v7h-13zM246 474h13v7h-13zM180 480h19v7h-19zM246 480h13v7h-13zM168 486h43v7h-43zM240 486h13v7h-13zM156 492h85v7h-85zM156 498h73v7h-73zM156 504h49v7h-49zM336 522h7v7h-7zM360 522h7v7h-7zM330 534h7v7h-7zM270 540h13v7h-13zM264 546h7v7h-7zM288 546h13v7h-13zM312 546h13v7h-13zM252 552h13v7h-13zM252 558h7v7h-7zM390 558h7v7h-7zM252 564h7v7h-7zM252 570h7v7h-7zM252 576h7v7h-7zM402 576h7v7h-7zM252 582h7v7h-7zM252 588h13v7h-13zM258 594h7v7h-7zM258 600h7v7h-7zM426 600h7v7h-7zM258 606h13v7h-13zM438 606h7v7h-7zM258 612h13v7h-13zM450 612h7v7h-7zM510 612h7v7h-7zM852 612h7v7h-7zM258 618h13v7h-13zM456 618h7v7h-7zM492 618h7v7h-7zM258 624h13v7h-13zM462 624h25v7h-25zM258 630h13v7h-13zM264 636h7v7h-7zM270 642h7v7h-7zM540 642h7v7h-7zM270 648h7v7h-7zM600 654h31v7h-31zM150 660h7v7h-7zM276 660h7v7h-7zM276 666h7v7h-7zM162 672h7v7h-7zM240 672h7v7h-7zM270 672h31v7h-31zM378 672h37v7h-37zM168 678h13v7h-13zM222 678h7v7h-7zM420 678h13v7h-13zM198 684h19v7h-19zM342 684h7v7h-7zM432 684h13v7h-13zM336 690h7v7h-7zM438 690h13v7h-13zM156 696h25v7h-25zM312 696h7v7h-7zM444 696h13v7h-13zM180 702h19v7h-19zM450 702h7v7h-7zM204 708h7v7h-7zM450 708h7v7h-7zM216 714h7v7h-7zM450 714h7v7h-7zM366 720h7v7h-7zM378 720h7v7h-7zM450 720h7v7h-7zM666 720h7v7h-7zM390 726h7v7h-7zM450 726h7v7h-7zM666 726h7v7h-7zM450 732h7v7h-7zM336 738h7v7h-7zM396 738h7v7h-7zM450 738h7v7h-7zM450 744h7v7h-7zM450 750h7v7h-7zM450 756h7v7h-7z"/>
<path fill="#b0ff4f" d="M642 84h7v7h-7zM642 90h7v7h-7zM642 96h7v7h-7zM636 102h7v7h-7zM636 108h7v7h-7zM636 114h7v7h-7zM642 120h7v7h-7zM642 126h7v7h-7zM642 132h7v7h-7zM648 138h7v7h-7zM648 144h7v7h-7zM654 150h7v7h-7zM654 156h7v7h-7zM660 162h7v7h-7zM666 174h7v7h-7zM672 180h7v7h-7zM678 192h7v7h-7zM684 198h7v7h-7zM576 204h7v7h-7zM690 204h7v7h-7zM582 210h7v7h-7zM696 210h7v7h-7zM582 216h7v7h-7zM660 216h7v7h-7zM702 216h7v7h-7zM786 216h19v7h-19zM852 216h19v7h-19zM576 222h7v7h-7zM768 222h7v7h-7zM720 228h7v7h-7zM762 228h7v7h-7zM744 234h7v7h-7zM750 240h7v7h-7zM204 372h31v7h-31zM192 378h13v7h-13zM162 384h31v7h-31zM162 390h25v7h-25zM162 396h13v7h-13zM240 402h7v7h-7zM240 408h7v7h-7zM270 444h13v7h-13zM288 444h13v7h-13zM294 450h7v7h-7zM240 456h19v7h-19zM294 456h7v7h-7zM240 462h7v7h-7zM252 462h7v7h-7zM288 462h7v7h-7zM168 468h25v7h-25zM240 468h7v7h-7zM270 468h7v7h-7zM162 474h43v7h-43zM240 474h7v7h-7zM156 480h25v7h-25zM198 480h19v7h-19zM234 480h13v7h-13zM156 486h13v7h-13zM210 486h31v7h-31zM348 486h7v7h-7zM354 504h7v7h-7zM336 528h7v7h-7zM330 540h7v7h-7zM372 540h7v7h-7zM282 546h7v7h-7zM324 546h7v7h-7zM378 546h7v7h-7zM264 552h7v7h-7zM288 552h31v7h-31zM384 552h7v7h-7zM258 558h7v7h-7zM258 564h7v7h-7zM258 570h7v7h-7zM396 570h7v7h-7zM258 576h7v7h-7zM258 582h7v7h-7zM402 582h7v7h-7zM264 588h7v7h-7zM408 588h7v7h-7zM948 588h7v7h-7zM264 594h7v7h-7zM414 594h7v7h-7zM264 600h13v7h-13zM270 606h7v7h-7zM432 606h7v7h-7zM522 606h13v7h-13zM270 612h7v7h-7zM444 612h7v7h-7zM516 612h7v7h-7zM534 612h7v7h-7zM270 618h7v7h-7zM450 618h7v7h-7zM498 618h7v7h-7zM270 624h7v7h-7zM456 624h7v7h-7zM486 624h7v7h-7zM270 630h7v7h-7zM462 630h19v7h-19zM270 636h7v7h-7zM276 642h7v7h-7zM276 648h7v7h-7zM276 654h7v7h-7zM594 654h7v7h-7zM138 660h13v7h-13zM156 666h7v7h-7zM282 666h7v7h-7zM306 666h7v7h-7zM246 672h25v7h-25zM366 672h13v7h-13zM414 672h25v7h-25zM162 678h7v7h-7zM276 678h7v7h-7zM312 678h7v7h-7zM348 678h7v7h-7zM432 678h19v7h-19zM162 684h37v7h-37zM216 684h7v7h-7zM312 684h7v7h-7zM444 684h13v7h-13zM654 684h7v7h-7zM150 690h61v7h-61zM312 690h7v7h-7zM450 690h13v7h-13zM180 696h25v7h-25zM456 696h13v7h-13zM198 702h7v7h-7zM456 702h13v7h-13zM456 708h13v7h-13zM660 708h7v7h-7zM456 714h13v7h-13zM372 720h7v7h-7zM456 720h7v7h-7zM348 726h7v7h-7zM456 726h7v7h-7zM456 732h7v7h-7zM666 732h7v7h-7zM456 738h7v7h-7zM666 738h7v7h-7zM336 744h7v7h-7zM396 744h7v7h-7zM456 744h7v7h-7zM666 744h7v7h-7zM456 750h7v7h-7zM666 750h7v7h-7zM396 756h7v7h-7zM456 756h7v7h-7zM666 756h7v7h-7z"/>
<path fill="#bbff44" d="M648 84h7v7h-7zM648 90h7v7h-7zM642 102h7v7h-7zM642 108h7v7h-7zM642 114h7v7h-7zM648 126h7v7h-7zM648 132h7v7h-7zM654 144h7v7h-7zM660 156h7v7h-7zM666 168h7v7h-7zM672 174h7v7h-7zM678 180h7v7h-7zM678 186h7v7h-7zM648 210h13v7h-13zM774 216h13v7h-13zM870 216h13v7h-13zM552 222h7v7h-7zM714 222h7v7h-7zM762 222h7v7h-7zM726 228h7v7h-7zM756 228h7v7h-7zM750 234h7v7h-7zM762 234h7v7h-7zM756 246h7v7h-7zM762 252h7v7h-7zM204 378h31v7h-31zM192 384h13v7h-13zM234 384h7v7h-7zM186 390h13v7h-13zM174 396h19v7h-19zM162 402h25v7h-25zM162 408h25v7h-25zM162 414h19v7h-19zM240 414h7v7h-7zM240 420h7v7h-7zM240 426h7v7h-7zM240 432h7v7h-7zM240 438h7v7h-7zM240 444h7v7h-7zM282 444h7v7h-7zM240 450h7v7h-7zM258 450h7v7h-7zM288 450h7v7h-7zM168 456h19v7h-19zM288 456h7v7h-7zM156 462h37v7h-37zM258 462h7v7h-7zM282 462h7v7h-7zM156 468h13v7h-13zM192 468h13v7h-13zM234 468h7v7h-7zM156 474h7v7h-7zM204 474h13v7h-13zM228 474h13v7h-13zM216 480h19v7h-19zM342 492h7v7h-7zM336 534h7v7h-7zM366 534h7v7h-7zM330 546h7v7h-7zM282 552h7v7h-7zM318 552h7v7h-7zM264 558h7v7h-7zM264 564h7v7h-7zM390 564h7v7h-7zM264 570h7v7h-7zM264 576h7v7h-7zM264 582h13v7h-13zM270 588h7v7h-7zM402 588h7v7h-7zM942 588h7v7h-7zM270 594h13v7h-13zM408 594h7v7h-7zM930 594h7v7h-7zM942 594h7v7h-7zM276 600h7v7h-7zM420 600h7v7h-7zM276 606h7v7h-7zM426 606h7v7h-7zM276 612h7v7h-7zM438 612h7v7h-7zM276 618h13v7h-13zM444 618h7v7h-7zM504 618h13v7h-13zM276 624h13v7h-13zM450 624h7v7h-7zM492 624h7v7h-7zM276 630h7v7h-7zM456 630h7v7h-7zM480 630h7v7h-7zM276 636h7v7h-7zM462 636h19v7h-19zM540 648h7v7h-7zM282 654h7v7h-7zM546 654h13v7h-13zM588 654h7v7h-7zM282 660h7v7h-7zM384 666h67v7h-67zM156 672h7v7h-7zM360 672h7v7h-7zM438 672h25v7h-25zM156 678h7v7h-7zM228 678h7v7h-7zM450 678h19v7h-19zM156 684h7v7h-7zM456 684h13v7h-13zM138 690h13v7h-13zM210 690h7v7h-7zM462 690h13v7h-13zM654 690h7v7h-7zM204 696h7v7h-7zM468 696h7v7h-7zM654 696h7v7h-7zM204 702h7v7h-7zM318 702h7v7h-7zM468 702h7v7h-7zM210 708h7v7h-7zM270 708h7v7h-7zM468 708h7v7h-7zM222 714h7v7h-7zM468 714h7v7h-7zM660 714h7v7h-7zM462 720h13v7h-13zM462 726h7v7h-7zM342 732h7v7h-7zM462 732h7v7h-7zM462 738h7v7h-7zM462 744h7v7h-7zM336 750h7v7h-7zM396 750h7v7h-7zM336 756h7v7h-7zM462 756h7v7h-7z"/>
<path fill="#c5ff3a" d="M648 96h7v7h-7zM648 102h7v7h-7zM648 108h7v7h-7zM648 114h7v7h-7zM648 120h7v7h-7zM654 132h7v7h-7zM654 138h7v7h-7zM660 150h7v7h-7zM666 162h7v7h-7zM672 168h7v7h-7zM678 174h7v7h-7zM684 186h7v7h-7zM684 192h7v7h-7zM690 198h7v7h-7zM552 204h7v7h-7zM696 204h7v7h-7zM546 210h7v7h-7zM702 210h7v7h-7zM546 216h7v7h-7zM648 216h13v7h-13zM708 216h7v7h-7zM768 216h7v7h-7zM882 216h13v7h-13zM930 216h7v7h-7zM570 222h7v7h-7zM756 222h7v7h-7zM732 228h25v7h-25zM756 234h7v7h-7zM756 240h13v7h-13zM762 246h7v7h-7zM204 384h19v7h-19zM198 390h13v7h-13zM234 390h7v7h-7zM192 396h13v7h-13zM186 402h13v7h-13zM186 408h13v7h-13zM180 414h13v7h-13zM162 420h31v7h-31zM162 426h25v7h-25zM162 432h25v7h-25zM162 438h25v7h-25zM156 444h31v7h-31zM156 450h37v7h-37zM264 450h7v7h-7zM276 450h13v7h-13zM156 456h13v7h-13zM186 456h13v7h-13zM258 456h7v7h-7zM282 456h7v7h-7zM192 462h13v7h-13zM234 462h7v7h-7zM264 462h19v7h-19zM204 468h13v7h-13zM228 468h7v7h-7zM216 474h13v7h-13zM354 510h7v7h-7zM360 528h7v7h-7zM894 540h7v7h-7zM270 546h7v7h-7zM324 552h7v7h-7zM378 552h7v7h-7zM282 558h37v7h-37zM384 558h7v7h-7zM270 570h7v7h-7zM270 576h13v7h-13zM396 576h7v7h-7zM276 582h7v7h-7zM276 588h7v7h-7zM282 594h7v7h-7zM282 600h7v7h-7zM414 600h7v7h-7zM282 606h7v7h-7zM420 606h7v7h-7zM282 612h13v7h-13zM432 612h7v7h-7zM840 612h7v7h-7zM288 618h7v7h-7zM438 618h7v7h-7zM534 618h7v7h-7zM288 624h7v7h-7zM444 624h7v7h-7zM498 624h7v7h-7zM282 630h13v7h-13zM444 630h13v7h-13zM486 630h7v7h-7zM282 636h7v7h-7zM450 636h13v7h-13zM480 636h7v7h-7zM282 642h7v7h-7zM450 642h31v7h-31zM282 648h7v7h-7zM450 648h25v7h-25zM438 654h37v7h-37zM558 654h13v7h-13zM582 654h7v7h-7zM390 660h85v7h-85zM636 660h7v7h-7zM150 666h7v7h-7zM288 666h19v7h-19zM372 666h13v7h-13zM450 666h25v7h-25zM312 672h7v7h-7zM354 672h7v7h-7zM462 672h13v7h-13zM648 672h7v7h-7zM270 678h7v7h-7zM342 678h7v7h-7zM468 678h7v7h-7zM144 684h13v7h-13zM222 684h7v7h-7zM276 684h7v7h-7zM468 684h13v7h-13zM216 690h7v7h-7zM474 690h7v7h-7zM210 696h7v7h-7zM330 696h7v7h-7zM474 696h7v7h-7zM210 702h7v7h-7zM324 702h7v7h-7zM474 702h7v7h-7zM654 702h7v7h-7zM474 708h7v7h-7zM474 714h7v7h-7zM474 720h7v7h-7zM660 720h7v7h-7zM354 726h7v7h-7zM384 726h7v7h-7zM468 726h13v7h-13zM660 726h7v7h-7zM390 732h7v7h-7zM468 732h7v7h-7zM660 732h7v7h-7zM468 738h7v7h-7zM468 744h7v7h-7zM462 750h13v7h-13zM468 756h7v7h-7z"/>
<path fill="#d0ff2f" d="M654 84h7v7h-7zM654 90h7v7h-7zM654 96h7v7h-7zM654 102h7v7h-7zM654 108h7v7h-7zM654 114h7v7h-7zM654 120h7v7h-7zM654 126h7v7h-7zM660 138h7v7h-7zM660 144h7v7h-7zM666 150h7v7h-7zM666 156h7v7h-7zM672 162h7v7h-7zM678 168h7v7h-7zM684 174h7v7h-7zM684 180h7v7h-7zM690 186h7v7h-7zM690 192h7v7h-7zM558 204h7v7h-7zM570 204h7v7h-7zM762 216h7v7h-7zM894 216h37v7h-37zM558 222h13v7h-13zM720 222h7v7h-7zM750 222h7v7h-7zM222 384h13v7h-13zM210 390h13v7h-13zM204 396h13v7h-13zM234 396h7v7h-7zM198 402h13v7h-13zM198 408h7v7h-7zM192 414h13v7h-13zM192 420h7v7h-7zM186 426h13v7h-13zM186 432h13v7h-13zM186 438h13v7h-13zM186 444h13v7h-13zM192 450h7v7h-7zM234 450h7v7h-7zM270 450h7v7h-7zM198 456h7v7h-7zM234 456h7v7h-7zM264 456h7v7h-7zM276 456h7v7h-7zM204 462h13v7h-13zM216 468h13v7h-13zM336 540h7v7h-7zM276 546h7v7h-7zM372 546h7v7h-7zM330 552h7v7h-7zM318 558h7v7h-7zM270 564h43v7h-43zM276 570h19v7h-19zM390 570h7v7h-7zM282 576h7v7h-7zM282 582h7v7h-7zM396 582h7v7h-7zM282 588h13v7h-13zM396 588h7v7h-7zM288 594h7v7h-7zM402 594h7v7h-7zM288 600h7v7h-7zM408 600h7v7h-7zM288 606h13v7h-13zM414 606h7v7h-7zM294 612h7v7h-7zM426 612h7v7h-7zM522 612h13v7h-13zM846 612h7v7h-7zM294 618h7v7h-7zM432 618h7v7h-7zM516 618h7v7h-7zM294 624h7v7h-7zM438 624h7v7h-7zM504 624h13v7h-13zM294 630h7v7h-7zM438 630h7v7h-7zM492 630h7v7h-7zM288 636h7v7h-7zM438 636h13v7h-13zM486 636h7v7h-7zM288 642h7v7h-7zM432 642h19v7h-19zM480 642h7v7h-7zM288 648h7v7h-7zM414 648h37v7h-37zM474 648h13v7h-13zM288 654h7v7h-7zM390 654h49v7h-49zM474 654h7v7h-7zM540 654h7v7h-7zM570 654h13v7h-13zM288 660h7v7h-7zM378 660h13v7h-13zM474 660h7v7h-7zM138 666h13v7h-13zM366 666h7v7h-7zM474 666h7v7h-7zM642 666h7v7h-7zM150 672h7v7h-7zM474 672h7v7h-7zM150 678h7v7h-7zM234 678h7v7h-7zM474 678h13v7h-13zM138 684h7v7h-7zM336 684h7v7h-7zM480 684h7v7h-7zM480 690h7v7h-7zM480 696h13v7h-13zM480 702h13v7h-13zM216 708h7v7h-7zM480 708h13v7h-13zM654 708h7v7h-7zM258 714h7v7h-7zM480 714h7v7h-7zM654 714h7v7h-7zM480 720h7v7h-7zM480 726h7v7h-7zM474 732h13v7h-13zM390 738h7v7h-7zM474 738h7v7h-7zM660 738h7v7h-7zM474 744h7v7h-7zM660 744h7v7h-7zM474 750h7v7h-7zM660 750h7v7h-7zM474 756h7v7h-7zM660 756h7v7h-7z"/>
<path fill="#dbff24" d="M660 84h7v7h-7zM660 90h7v7h-7zM660 96h7v7h-7zM660 102h7v7h-7zM660 108h7v7h-7zM660 114h7v7h-7zM660 120h7v7h-7zM660 126h7v7h-7zM660 132h7v7h-7zM666 138h7v7h-7zM666 144h7v7h-7zM672 156h7v7h-7zM678 162h7v7h-7zM684 168h7v7h-7zM690 180h7v7h-7zM696 198h7v7h-7zM564 204h7v7h-7zM702 204h7v7h-7zM576 210h7v7h-7zM708 210h7v7h-7zM804 210h43v7h-43zM576 216h7v7h-7zM714 216h7v7h-7zM756 216h7v7h-7zM726 222h7v7h-7zM744 222h7v7h-7zM222 390h13v7h-13zM216 396h7v7h-7zM210 402h7v7h-7zM234 402h7v7h-7zM204 408h13v7h-13zM204 414h13v7h-13zM198 420h13v7h-13zM198 426h13v7h-13zM198 432h7v7h-7zM198 438h7v7h-7zM198 444h13v7h-13zM234 444h7v7h-7zM198 450h13v7h-13zM204 456h13v7h-13zM270 456h7v7h-7zM216 462h19v7h-19zM342 498h7v7h-7zM354 516h7v7h-7zM360 534h7v7h-7zM366 540h7v7h-7zM888 540h7v7h-7zM336 546h7v7h-7zM270 552h13v7h-13zM270 558h13v7h-13zM324 558h7v7h-7zM312 564h13v7h-13zM384 564h7v7h-7zM294 570h19v7h-19zM288 576h13v7h-13zM390 576h7v7h-7zM288 582h13v7h-13zM294 588h7v7h-7zM294 594h7v7h-7zM396 594h7v7h-7zM294 600h7v7h-7zM396 600h13v7h-13zM300 606h7v7h-7zM402 606h13v7h-13zM300 612h7v7h-7zM414 612h13v7h-13zM300 618h7v7h-7zM420 618h13v7h-13zM300 624h7v7h-7zM426 624h13v7h-13zM300 630h7v7h-7zM426 630h13v7h-13zM498 630h13v7h-13zM294 636h7v7h-7zM420 636h19v7h-19zM492 636h7v7h-7zM294 642h7v7h-7zM396 642h37v7h-37zM486 642h7v7h-7zM294 648h7v7h-7zM384 648h31v7h-31zM294 654h7v7h-7zM378 654h13v7h-13zM480 654h7v7h-7zM294 660h7v7h-7zM306 660h7v7h-7zM372 660h7v7h-7zM480 660h7v7h-7zM312 666h7v7h-7zM360 666h7v7h-7zM480 666h7v7h-7zM144 672h7v7h-7zM348 672h7v7h-7zM480 672h7v7h-7zM138 678h13v7h-13zM264 678h7v7h-7zM486 678h7v7h-7zM486 684h7v7h-7zM276 690h7v7h-7zM486 690h13v7h-13zM216 696h7v7h-7zM276 696h7v7h-7zM492 696h7v7h-7zM492 702h7v7h-7zM492 708h7v7h-7zM228 714h7v7h-7zM486 714h13v7h-13zM486 720h7v7h-7zM654 720h7v7h-7zM486 726h7v7h-7zM654 726h7v7h-7zM348 732h7v7h-7zM486 732h7v7h-7zM654 732h7v7h-7zM342 738h7v7h-7zM480 738h13v7h-13zM480 744h13v7h-13zM480 750h13v7h-13zM480 756h13v7h-13z"/>
<path fill="#e5ff1a" d="M666 84h7v7h-7zM666 90h7v7h-7zM666 96h7v7h-7zM666 120h7v7h-7zM666 126h7v7h-7zM666 132h7v7h-7zM672 144h7v7h-7zM672 150h7v7h-7zM678 156h7v7h-7zM684 162h7v7h-7zM690 168h7v7h-7zM690 174h7v7h-7zM696 180h7v7h-7zM696 186h7v7h-7zM696 192h7v7h-7zM714 210h7v7h-7zM780 210h25v7h-25zM846 210h19v7h-19zM720 216h7v7h-7zM750 216h7v7h-7zM732 222h13v7h-13zM222 396h7v7h-7zM216 402h7v7h-7zM216 408h7v7h-7zM234 408h7v7h-7zM210 420h7v7h-7zM210 426h7v7h-7zM204 432h13v7h-13zM204 438h13v7h-13zM234 438h7v7h-7zM210 444h7v7h-7zM210 450h7v7h-7zM216 456h7v7h-7zM228 456h7v7h-7zM348 492h7v7h-7zM342 504h7v7h-7zM354 522h7v7h-7zM372 552h7v7h-7zM330 558h7v7h-7zM378 558h7v7h-7zM324 564h7v7h-7zM312 570h7v7h-7zM300 576h13v7h-13zM300 582h7v7h-7zM390 582h7v7h-7zM300 588h7v7h-7zM390 588h7v7h-7zM300 594h7v7h-7zM390 594h7v7h-7zM936 594h7v7h-7zM300 600h13v7h-13zM390 600h7v7h-7zM306 606h7v7h-7zM390 606h13v7h-13zM306 612h7v7h-7zM390 612h25v7h-25zM306 618h7v7h-7zM384 618h37v7h-37zM306 624h7v7h-7zM378 624h49v7h-49zM516 624h7v7h-7zM534 624h7v7h-7zM306 630h7v7h-7zM378 630h49v7h-49zM510 630h7v7h-7zM300 636h7v7h-7zM372 636h49v7h-49zM498 636h7v7h-7zM300 642h7v7h-7zM372 642h25v7h-25zM492 642h7v7h-7zM300 648h7v7h-7zM372 648h13v7h-13zM486 648h7v7h-7zM372 654h7v7h-7zM486 654h7v7h-7zM300 660h7v7h-7zM366 660h7v7h-7zM486 660h7v7h-7zM630 660h7v7h-7zM354 666h7v7h-7zM486 666h7v7h-7zM138 672h7v7h-7zM342 672h7v7h-7zM486 672h7v7h-7zM240 678h7v7h-7zM258 678h7v7h-7zM492 678h7v7h-7zM648 678h7v7h-7zM228 684h7v7h-7zM492 684h7v7h-7zM222 690h7v7h-7zM498 690h7v7h-7zM318 696h7v7h-7zM498 696h7v7h-7zM216 702h7v7h-7zM498 702h7v7h-7zM498 708h7v7h-7zM498 714h7v7h-7zM492 720h13v7h-13zM360 726h7v7h-7zM378 726h7v7h-7zM492 726h7v7h-7zM384 732h7v7h-7zM492 732h7v7h-7zM492 738h7v7h-7zM654 738h7v7h-7zM390 744h7v7h-7zM492 744h7v7h-7zM654 744h7v7h-7zM390 750h7v7h-7zM492 750h7v7h-7zM654 750h7v7h-7zM390 756h7v7h-7zM492 756h7v7h-7zM654 756h7v7h-7z"/>
<path fill="#f0ff0f" d="M666 102h7v7h-7zM666 108h7v7h-7zM666 114h7v7h-7zM672 132h7v7h-7zM672 138h7v7h-7zM678 144h7v7h-7zM678 150h13v7h-13zM684 156h13v7h-13zM690 162h7v7h-7zM696 168h7v7h-7zM696 174h13v7h-13zM702 180h7v7h-7zM702 186h7v7h-7zM702 192h7v7h-7zM702 198h7v7h-7zM708 204h7v7h-7zM552 210h7v7h-7zM762 210h19v7h-19zM864 210h19v7h-19zM552 216h7v7h-7zM726 216h7v7h-7zM744 216h7v7h-7zM228 396h7v7h-7zM216 414h7v7h-7zM234 414h7v7h-7zM216 420h7v7h-7zM234 420h7v7h-7zM234 426h7v7h-7zM234 432h7v7h-7zM216 444h7v7h-7zM216 450h7v7h-7zM228 450h7v7h-7zM222 456h7v7h-7zM342 510h7v7h-7zM342 516h7v7h-7zM342 522h7v7h-7zM342 528h7v7h-7zM342 534h7v7h-7zM366 546h7v7h-7zM336 552h7v7h-7zM318 570h7v7h-7zM384 570h7v7h-7zM312 576h7v7h-7zM306 582h13v7h-13zM306 588h13v7h-13zM306 594h13v7h-13zM384 594h7v7h-7zM312 600h7v7h-7zM384 600h7v7h-7zM312 606h7v7h-7zM378 606h13v7h-13zM312 612h7v7h-7zM378 612h13v7h-13zM312 618h7v7h-7zM372 618h13v7h-13zM522 618h7v7h-7zM312 624h7v7h-7zM366 624h13v7h-13zM312 630h7v7h-7zM360 630h19v7h-19zM516 630h7v7h-7zM306 636h13v7h-13zM360 636h13v7h-13zM504 636h13v7h-13zM306 642h7v7h-7zM360 642h13v7h-13zM498 642h7v7h-7zM306 648h7v7h-7zM366 648h7v7h-7zM492 648h7v7h-7zM300 654h13v7h-13zM366 654h7v7h-7zM492 654h7v7h-7zM312 660h7v7h-7zM360 660h7v7h-7zM492 660h7v7h-7zM348 666h7v7h-7zM492 666h7v7h-7zM492 672h7v7h-7zM246 678h13v7h-13zM336 678h7v7h-7zM498 678h7v7h-7zM270 684h7v7h-7zM498 684h7v7h-7zM648 684h7v7h-7zM330 690h7v7h-7zM504 690h7v7h-7zM648 690h7v7h-7zM324 696h7v7h-7zM504 696h7v7h-7zM648 696h7v7h-7zM504 702h7v7h-7zM648 702h7v7h-7zM222 708h7v7h-7zM504 708h7v7h-7zM648 708h7v7h-7zM234 714h7v7h-7zM252 714h7v7h-7zM504 714h7v7h-7zM648 714h7v7h-7zM504 720h7v7h-7zM648 720h7v7h-7zM366 726h13v7h-13zM498 726h13v7h-13zM648 726h7v7h-7zM354 732h7v7h-7zM498 732h13v7h-13zM648 732h7v7h-7zM498 738h13v7h-13zM648 738h7v7h-7zM342 744h7v7h-7zM498 744h13v7h-13zM648 744h7v7h-7zM498 750h13v7h-13zM648 750h7v7h-7zM498 756h13v7h-13zM648 756h7v7h-7z"/>
<path fill="#fbff04" d="M672 84h7v7h-7zM672 90h7v7h-7zM672 96h7v7h-7zM672 102h7v7h-7zM672 108h7v7h-7zM672 114h7v7h-7zM672 120h7v7h-7zM672 126h7v7h-7zM678 132h7v7h-7zM678 138h7v7h-7zM684 144h7v7h-7zM690 150h7v7h-7zM696 156h7v7h-7zM696 162h7v7h-7zM702 168h7v7h-7zM708 174h7v7h-7zM708 180h7v7h-7zM708 186h7v7h-7zM708 192h7v7h-7zM708 198h7v7h-7zM714 204h7v7h-7zM720 210h7v7h-7zM756 210h7v7h-7zM882 210h55v7h-55zM564 216h13v7h-13zM732 216h13v7h-13zM222 402h13v7h-13zM216 426h7v7h-7zM216 432h7v7h-7zM216 438h7v7h-7zM222 450h7v7h-7zM354 528h7v7h-7zM342 540h7v7h-7zM360 540h7v7h-7zM336 558h7v7h-7zM330 564h7v7h-7zM378 564h7v7h-7zM324 570h7v7h-7zM318 576h7v7h-7zM384 576h7v7h-7zM318 582h7v7h-7zM384 582h7v7h-7zM318 588h7v7h-7zM384 588h7v7h-7zM318 594h7v7h-7zM318 600h7v7h-7zM378 600h7v7h-7zM318 606h7v7h-7zM372 606h7v7h-7zM318 612h7v7h-7zM366 612h13v7h-13zM318 618h13v7h-13zM360 618h13v7h-13zM528 618h7v7h-7zM318 624h19v7h-19zM348 624h19v7h-19zM318 630h43v7h-43zM534 630h7v7h-7zM318 636h43v7h-43zM516 636h7v7h-7zM312 642h7v7h-7zM348 642h13v7h-13zM504 642h13v7h-13zM312 648h7v7h-7zM354 648h13v7h-13zM498 648h19v7h-19zM312 654h7v7h-7zM354 654h13v7h-13zM498 654h19v7h-19zM534 654h7v7h-7zM354 660h7v7h-7zM498 660h13v7h-13zM540 660h13v7h-13zM606 660h25v7h-25zM342 666h7v7h-7zM498 666h13v7h-13zM498 672h7v7h-7zM504 678h7v7h-7zM504 684h7v7h-7zM510 690h7v7h-7zM222 696h7v7h-7zM510 696h7v7h-7zM510 702h7v7h-7zM510 708h7v7h-7zM240 714h13v7h-13zM510 714h7v7h-7zM642 714h7v7h-7zM510 720h7v7h-7zM642 720h7v7h-7zM510 726h7v7h-7zM642 726h7v7h-7zM360 732h7v7h-7zM378 732h7v7h-7zM510 732h7v7h-7zM642 732h7v7h-7zM348 738h7v7h-7zM384 738h7v7h-7zM510 738h7v7h-7zM642 738h7v7h-7zM510 744h7v7h-7zM642 744h7v7h-7zM342 750h7v7h-7zM510 750h7v7h-7zM642 750h7v7h-7zM342 756h7v7h-7zM510 756h7v7h-7zM642 756h7v7h-7z"/>
<path fill="#fff800" d="M678 84h7v7h-7zM678 90h7v7h-7zM678 96h7v7h-7zM678 102h7v7h-7zM678 108h7v7h-7zM678 114h7v7h-7zM678 120h7v7h-7zM678 126h7v7h-7zM684 132h7v7h-7zM684 138h7v7h-7zM690 144h7v7h-7zM696 150h7v7h-7zM702 156h7v7h-7zM702 162h7v7h-7zM708 168h7v7h-7zM714 174h7v7h-7zM714 180h7v7h-7zM714 186h7v7h-7zM714 192h7v7h-7zM714 198h7v7h-7zM720 204h7v7h-7zM558 210h19v7h-19zM726 210h31v7h-31zM558 216h7v7h-7zM222 408h7v7h-7zM222 444h13v7h-13zM354 534h7v7h-7zM342 546h7v7h-7zM372 558h7v7h-7zM330 570h7v7h-7zM378 570h7v7h-7zM324 576h7v7h-7zM324 582h7v7h-7zM324 588h7v7h-7zM378 588h7v7h-7zM324 594h7v7h-7zM378 594h7v7h-7zM324 600h7v7h-7zM372 600h7v7h-7zM324 606h13v7h-13zM366 606h7v7h-7zM324 612h19v7h-19zM354 612h13v7h-13zM330 618h31v7h-31zM336 624h13v7h-13zM534 636h7v7h-7zM318 642h31v7h-31zM516 642h7v7h-7zM534 642h7v7h-7zM318 648h7v7h-7zM336 648h19v7h-19zM516 648h7v7h-7zM534 648h7v7h-7zM342 654h13v7h-13zM516 654h7v7h-7zM342 660h13v7h-13zM510 660h13v7h-13zM552 660h7v7h-7zM600 660h7v7h-7zM510 666h7v7h-7zM336 672h7v7h-7zM504 672h7v7h-7zM234 684h7v7h-7zM510 684h7v7h-7zM318 690h7v7h-7zM516 690h7v7h-7zM516 696h7v7h-7zM222 702h7v7h-7zM516 702h7v7h-7zM516 708h7v7h-7zM642 708h7v7h-7zM516 714h7v7h-7zM516 720h13v7h-13zM636 720h7v7h-7zM516 726h13v7h-13zM636 726h7v7h-7zM366 732h13v7h-13zM516 732h13v7h-13zM636 732h7v7h-7zM516 738h13v7h-13zM636 738h7v7h-7zM516 744h13v7h-13zM636 744h7v7h-7zM516 750h13v7h-13zM636 750h7v7h-7zM516 756h13v7h-13zM636 756h7v7h-7z"/>
<path fill="#ffee00" d="M684 84h7v7h-7zM684 90h7v7h-7zM684 96h7v7h-7zM684 102h7v7h-7zM684 114h7v7h-7zM684 120h7v7h-7zM684 126h7v7h-7zM690 132h7v7h-7zM690 138h13v7h-13zM696 144h7v7h-7zM702 150h7v7h-7zM708 156h7v7h-7zM708 162h7v7h-7zM714 168h7v7h-7zM720 180h7v7h-7zM720 186h7v7h-7zM720 192h7v7h-7zM720 198h7v7h-7zM726 204h7v7h-7zM228 408h7v7h-7zM222 414h7v7h-7zM222 432h7v7h-7zM222 438h13v7h-13zM348 498h7v7h-7zM366 552h7v7h-7zM336 564h7v7h-7zM330 576h7v7h-7zM378 576h7v7h-7zM330 582h7v7h-7zM378 582h7v7h-7zM330 588h7v7h-7zM330 594h13v7h-13zM372 594h7v7h-7zM330 600h19v7h-19zM366 600h7v7h-7zM336 606h31v7h-31zM342 612h13v7h-13zM522 624h7v7h-7zM324 648h13v7h-13zM318 654h7v7h-7zM336 654h7v7h-7zM336 660h7v7h-7zM534 660h7v7h-7zM558 660h7v7h-7zM594 660h7v7h-7zM336 666h7v7h-7zM516 666h7v7h-7zM636 666h7v7h-7zM510 672h7v7h-7zM642 672h7v7h-7zM510 678h7v7h-7zM264 684h7v7h-7zM330 684h7v7h-7zM516 684h7v7h-7zM228 690h7v7h-7zM522 690h7v7h-7zM522 696h7v7h-7zM522 702h13v7h-13zM642 702h7v7h-7zM228 708h7v7h-7zM522 708h13v7h-13zM522 714h13v7h-13zM636 714h7v7h-7zM528 720h7v7h-7zM630 720h7v7h-7zM528 726h13v7h-13zM630 726h7v7h-7zM528 732h13v7h-13zM624 732h13v7h-13zM354 738h7v7h-7zM372 738h13v7h-13zM528 738h13v7h-13zM624 738h13v7h-13zM384 744h7v7h-7zM528 744h13v7h-13zM630 744h7v7h-7zM528 750h13v7h-13zM630 750h7v7h-7zM384 756h7v7h-7zM528 756h13v7h-13zM630 756h7v7h-7z"/>
<path fill="#ffe300" d="M690 84h7v7h-7zM690 90h7v7h-7zM690 96h7v7h-7zM684 108h7v7h-7zM690 120h7v7h-7zM690 126h7v7h-7zM696 132h7v7h-7zM702 138h7v7h-7zM702 144h7v7h-7zM708 150h7v7h-7zM714 156h7v7h-7zM714 162h7v7h-7zM720 168h7v7h-7zM720 174h7v7h-7zM726 180h7v7h-7zM726 186h7v7h-7zM726 192h7v7h-7zM726 198h7v7h-7zM732 204h13v7h-13zM228 414h7v7h-7zM222 420h13v7h-13zM222 426h13v7h-13zM228 432h7v7h-7zM348 528h7v7h-7zM348 534h7v7h-7zM360 546h7v7h-7zM342 552h7v7h-7zM372 564h7v7h-7zM336 570h7v7h-7zM336 576h7v7h-7zM336 582h7v7h-7zM336 588h13v7h-13zM372 588h7v7h-7zM342 594h13v7h-13zM366 594h7v7h-7zM348 600h19v7h-19zM528 624h7v7h-7zM522 630h7v7h-7zM330 654h7v7h-7zM522 654h13v7h-13zM522 660h13v7h-13zM564 660h7v7h-7zM582 660h13v7h-13zM522 666h7v7h-7zM516 672h7v7h-7zM516 678h7v7h-7zM240 684h7v7h-7zM522 684h7v7h-7zM324 690h7v7h-7zM528 690h7v7h-7zM528 696h13v7h-13zM642 696h7v7h-7zM534 702h7v7h-7zM264 708h7v7h-7zM534 708h19v7h-19zM636 708h7v7h-7zM534 714h61v7h-61zM624 714h13v7h-13zM534 720h67v7h-67zM612 720h19v7h-19zM540 726h55v7h-55zM612 726h19v7h-19zM540 732h31v7h-31zM612 732h13v7h-13zM360 738h13v7h-13zM540 738h19v7h-19zM612 738h13v7h-13zM348 744h7v7h-7zM540 744h13v7h-13zM618 744h13v7h-13zM384 750h7v7h-7zM540 750h13v7h-13zM618 750h13v7h-13zM540 756h13v7h-13zM618 756h13v7h-13z"/>
<path fill="#ffd800" d="M696 84h7v7h-7zM696 90h7v7h-7zM696 96h7v7h-7zM690 102h7v7h-7zM690 108h7v7h-7zM690 114h7v7h-7zM696 120h7v7h-7zM696 126h7v7h-7zM702 132h7v7h-7zM708 138h7v7h-7zM708 144h7v7h-7zM714 150h7v7h-7zM720 162h7v7h-7zM726 174h7v7h-7zM732 186h7v7h-7zM732 192h7v7h-7zM732 198h7v7h-7zM744 204h115v7h-115zM912 204h19v7h-19zM348 504h7v7h-7zM348 522h7v7h-7zM348 540h13v7h-13zM342 558h7v7h-7zM366 558h7v7h-7zM342 564h7v7h-7zM372 570h7v7h-7zM372 576h7v7h-7zM342 582h7v7h-7zM372 582h7v7h-7zM348 588h7v7h-7zM366 588h7v7h-7zM354 594h13v7h-13zM522 636h7v7h-7zM522 642h7v7h-7zM522 648h7v7h-7zM324 654h7v7h-7zM318 660h7v7h-7zM330 660h7v7h-7zM570 660h13v7h-13zM528 666h19v7h-19zM522 672h7v7h-7zM330 678h7v7h-7zM522 678h7v7h-7zM642 678h7v7h-7zM258 684h7v7h-7zM318 684h7v7h-7zM528 684h7v7h-7zM642 684h7v7h-7zM270 690h7v7h-7zM534 690h7v7h-7zM642 690h7v7h-7zM228 696h7v7h-7zM540 696h7v7h-7zM270 702h7v7h-7zM540 702h19v7h-19zM636 702h7v7h-7zM552 708h61v7h-61zM624 708h13v7h-13zM594 714h31v7h-31zM600 720h13v7h-13zM594 726h19v7h-19zM570 732h43v7h-43zM558 738h55v7h-55zM378 744h7v7h-7zM552 744h19v7h-19zM600 744h19v7h-19zM552 750h13v7h-13zM600 750h19v7h-19zM348 756h7v7h-7zM552 756h19v7h-19zM600 756h19v7h-19z"/>
<path fill="#ffcd00" d="M702 84h7v7h-7zM702 90h7v7h-7zM702 96h7v7h-7zM696 102h7v7h-7zM696 108h7v7h-7zM696 114h7v7h-7zM702 120h7v7h-7zM702 126h7v7h-7zM708 132h7v7h-7zM714 138h7v7h-7zM714 144h7v7h-7zM720 150h7v7h-7zM720 156h7v7h-7zM726 162h7v7h-7zM726 168h7v7h-7zM732 174h7v7h-7zM732 180h7v7h-7zM738 192h7v7h-7zM738 198h7v7h-7zM858 204h55v7h-55zM348 510h7v7h-7zM348 516h7v7h-7zM348 546h7v7h-7zM342 570h7v7h-7zM342 576h7v7h-7zM348 582h7v7h-7zM366 582h7v7h-7zM354 588h13v7h-13zM528 630h7v7h-7zM528 648h7v7h-7zM330 666h7v7h-7zM546 666h7v7h-7zM630 666h7v7h-7zM330 672h7v7h-7zM528 672h7v7h-7zM528 678h7v7h-7zM246 684h13v7h-13zM534 684h7v7h-7zM234 690h7v7h-7zM540 690h7v7h-7zM546 696h13v7h-13zM636 696h7v7h-7zM228 702h7v7h-7zM558 702h55v7h-55zM630 702h7v7h-7zM234 708h7v7h-7zM612 708h13v7h-13zM570 744h31v7h-31zM348 750h7v7h-7zM564 750h37v7h-37zM378 756h7v7h-7zM570 756h31v7h-31z"/>
<path fill="#ffc300" d="M708 84h7v7h-7zM708 90h7v7h-7zM708 96h7v7h-7zM702 102h13v7h-13zM702 108h7v7h-7zM702 114h13v7h-13zM708 120h7v7h-7zM708 126h7v7h-7zM714 132h7v7h-7zM720 144h7v7h-7zM726 156h7v7h-7zM732 168h7v7h-7zM738 180h7v7h-7zM738 186h7v7h-7zM744 198h13v7h-13zM354 546h7v7h-7zM360 552h7v7h-7zM366 564h7v7h-7zM366 570h7v7h-7zM348 576h7v7h-7zM366 576h7v7h-7zM528 636h7v7h-7zM528 642h7v7h-7zM318 666h7v7h-7zM534 672h7v7h-7zM318 678h7v7h-7zM534 678h7v7h-7zM540 684h7v7h-7zM546 690h7v7h-7zM234 696h7v7h-7zM558 696h7v7h-7zM612 702h19v7h-19zM258 708h7v7h-7zM354 744h7v7h-7zM372 744h7v7h-7zM378 750h7v7h-7z"/>
<path fill="#ffb800" d="M714 84h7v7h-7zM714 90h7v7h-7zM714 96h7v7h-7zM714 102h7v7h-7zM708 108h13v7h-13zM714 114h7v7h-7zM714 120h7v7h-7zM714 126h13v7h-13zM720 132h7v7h-7zM720 138h7v7h-7zM726 144h7v7h-7zM726 150h7v7h-7zM732 156h7v7h-7zM732 162h7v7h-7zM738 168h7v7h-7zM738 174h7v7h-7zM744 186h7v7h-7zM744 192h13v7h-13zM756 198h19v7h-19zM912 198h19v7h-19zM348 552h7v7h-7zM348 558h7v7h-7zM348 564h7v7h-7zM348 570h7v7h-7zM354 582h13v7h-13zM324 660h7v7h-7zM552 666h7v7h-7zM606 666h25v7h-25zM318 672h7v7h-7zM540 672h7v7h-7zM636 672h7v7h-7zM540 678h7v7h-7zM324 684h7v7h-7zM546 684h7v7h-7zM240 690h7v7h-7zM264 690h7v7h-7zM552 690h7v7h-7zM636 690h7v7h-7zM240 696h7v7h-7zM270 696h7v7h-7zM564 696h55v7h-55zM630 696h7v7h-7zM234 702h7v7h-7zM240 708h19v7h-19zM360 744h13v7h-13zM354 756h7v7h-7z"/>
<path fill="#ffad00" d="M720 84h13v7h-13zM720 90h13v7h-13zM720 96h13v7h-13zM720 102h7v7h-7zM720 108h7v7h-7zM720 114h7v7h-7zM720 120h7v7h-7zM726 126h7v7h-7zM726 132h7v7h-7zM726 138h7v7h-7zM732 144h7v7h-7zM732 150h7v7h-7zM738 162h7v7h-7zM744 174h7v7h-7zM744 180h7v7h-7zM750 186h7v7h-7zM756 192h7v7h-7zM774 198h139v7h-139zM354 552h7v7h-7zM360 558h7v7h-7zM360 564h7v7h-7zM354 570h13v7h-13zM354 576h13v7h-13zM324 666h7v7h-7zM558 666h7v7h-7zM594 666h13v7h-13zM324 672h7v7h-7zM324 678h7v7h-7zM636 678h7v7h-7zM552 684h7v7h-7zM636 684h7v7h-7zM246 690h19v7h-19zM558 690h7v7h-7zM600 690h13v7h-13zM246 696h25v7h-25zM618 696h13v7h-13zM240 702h31v7h-31zM354 750h7v7h-7zM372 750h7v7h-7zM360 756h7v7h-7zM372 756h7v7h-7z"/>
<path fill="#ffa200" d="M732 84h7v7h-7zM732 90h7v7h-7zM732 96h7v7h-7zM726 102h13v7h-13zM726 108h13v7h-13zM726 114h13v7h-13zM726 120h13v7h-13zM732 126h7v7h-7zM732 132h7v7h-7zM732 138h7v7h-7zM738 144h7v7h-7zM738 150h7v7h-7zM738 156h7v7h-7zM744 162h7v7h-7zM744 168h7v7h-7zM750 180h7v7h-7zM762 192h13v7h-13zM792 192h139v7h-139zM354 558h7v7h-7zM354 564h7v7h-7zM564 666h31v7h-31zM546 672h7v7h-7zM630 672h7v7h-7zM546 678h7v7h-7zM558 684h7v7h-7zM564 690h37v7h-37zM612 690h25v7h-25zM360 750h13v7h-13zM366 756h7v7h-7z"/>
<path fill="#ff9800" d="M738 84h7v7h-7zM738 90h7v7h-7zM738 96h7v7h-7zM738 102h7v7h-7zM738 108h7v7h-7zM738 114h7v7h-7zM738 120h7v7h-7zM738 126h7v7h-7zM738 132h7v7h-7zM738 138h7v7h-7zM744 144h7v7h-7zM744 150h7v7h-7zM744 156h7v7h-7zM750 168h7v7h-7zM750 174h7v7h-7zM756 186h7v7h-7zM888 186h43v7h-43zM774 192h19v7h-19zM552 672h79v7h-79zM552 678h73v7h-73zM630 678h7v7h-7zM564 684h7v7h-7zM588 684h37v7h-37zM630 684h7v7h-7z"/>
<path fill="#ff8d00" d="M744 84h7v7h-7zM744 90h7v7h-7zM744 96h7v7h-7zM744 102h7v7h-7zM744 108h7v7h-7zM744 114h7v7h-7zM744 120h7v7h-7zM744 126h7v7h-7zM744 132h7v7h-7zM744 138h7v7h-7zM750 144h7v7h-7zM750 150h7v7h-7zM750 156h7v7h-7zM750 162h7v7h-7zM756 180h7v7h-7zM900 180h19v7h-19zM762 186h13v7h-13zM798 186h91v7h-91zM624 678h7v7h-7zM570 684h19v7h-19zM624 684h7v7h-7z"/>
<path fill="#ff8200" d="M750 84h7v7h-7zM750 90h7v7h-7zM750 96h7v7h-7zM750 102h7v7h-7zM750 108h7v7h-7zM750 114h7v7h-7zM750 120h7v7h-7zM750 126h7v7h-7zM750 132h7v7h-7zM750 138h13v7h-13zM756 144h7v7h-7zM756 150h7v7h-7zM756 156h7v7h-7zM756 162h7v7h-7zM756 168h7v7h-7zM756 174h7v7h-7zM900 174h19v7h-19zM762 180h7v7h-7zM882 180h19v7h-19zM918 180h13v7h-13zM774 186h25v7h-25z"/>
<path fill="#ff7700" d="M756 84h7v7h-7zM756 90h7v7h-7zM756 96h7v7h-7zM756 102h7v7h-7zM756 108h7v7h-7zM756 114h7v7h-7zM756 120h7v7h-7zM756 126h7v7h-7zM756 132h13v7h-13zM762 138h7v7h-7zM762 144h7v7h-7zM762 150h7v7h-7zM762 156h7v7h-7zM762 162h7v7h-7zM762 168h7v7h-7zM894 168h37v7h-37zM762 174h7v7h-7zM882 174h19v7h-19zM918 174h13v7h-13zM768 180h7v7h-7zM804 180h49v7h-49zM864 180h19v7h-19z"/>
<path fill="#ff6d00" d="M762 84h7v7h-7zM762 90h7v7h-7zM762 96h7v7h-7zM762 102h7v7h-7zM762 108h7v7h-7zM762 114h7v7h-7zM762 120h7v7h-7zM762 126h7v7h-7zM768 132h7v7h-7zM768 138h7v7h-7zM768 144h13v7h-13zM768 150h13v7h-13zM768 156h13v7h-13zM888 156h43v7h-43zM768 162h13v7h-13zM882 162h49v7h-49zM768 168h13v7h-13zM882 168h13v7h-13zM768 174h13v7h-13zM804 174h43v7h-43zM870 174h13v7h-13zM774 180h31v7h-31zM852 180h13v7h-13z"/>
<path fill="#ff6200" d="M768 84h7v7h-7zM768 90h7v7h-7zM768 96h7v7h-7zM768 102h7v7h-7zM768 108h7v7h-7zM768 114h7v7h-7zM768 120h7v7h-7zM768 126h13v7h-13zM774 132h7v7h-7zM774 138h13v7h-13zM780 144h13v7h-13zM894 144h37v7h-37zM780 150h25v7h-25zM810 150h19v7h-19zM882 150h49v7h-49zM780 156h61v7h-61zM876 156h13v7h-13zM780 162h67v7h-67zM870 162h13v7h-13zM780 168h103v7h-103zM780 174h25v7h-25zM846 174h25v7h-25z"/>
<path fill="#ff5700" d="M774 84h13v7h-13zM774 90h13v7h-13zM774 96h7v7h-7zM774 102h7v7h-7zM774 108h7v7h-7zM774 114h7v7h-7zM774 120h7v7h-7zM780 126h7v7h-7zM780 132h13v7h-13zM894 132h31v7h-31zM786 138h13v7h-13zM888 138h37v7h-37zM792 144h55v7h-55zM876 144h19v7h-19zM804 150h7v7h-7zM828 150h31v7h-31zM864 150h19v7h-19zM840 156h37v7h-37zM846 162h25v7h-25z"/>
<path fill="#ff4c00" d="M786 84h7v7h-7zM888 84h37v7h-37zM786 90h7v7h-7zM888 90h37v7h-37zM780 96h13v7h-13zM894 96h31v7h-31zM780 102h7v7h-7zM900 102h19v7h-19zM780 108h7v7h-7zM900 108h13v7h-13zM780 114h7v7h-7zM900 114h25v7h-25zM780 120h13v7h-13zM894 120h31v7h-31zM786 126h7v7h-7zM888 126h37v7h-37zM792 132h49v7h-49zM882 132h13v7h-13zM798 138h55v7h-55zM870 138h19v7h-19zM846 144h31v7h-31zM858 150h7v7h-7z"/>
<path fill="#ff4200" d="M792 84h55v7h-55zM876 84h13v7h-13zM792 90h55v7h-55zM876 90h13v7h-13zM792 96h13v7h-13zM816 96h25v7h-25zM876 96h19v7h-19zM786 102h13v7h-13zM882 102h19v7h-19zM918 102h7v7h-7zM786 108h7v7h-7zM882 108h19v7h-19zM912 108h13v7h-13zM786 114h13v7h-13zM882 114h19v7h-19zM792 120h13v7h-13zM816 120h25v7h-25zM876 120h19v7h-19zM792 126h55v7h-55zM870 126h19v7h-19zM840 132h43v7h-43zM852 138h19v7h-19z"/>
<path fill="#ff3700" d="M846 84h31v7h-31zM846 90h31v7h-31zM804 96h13v7h-13zM840 96h37v7h-37zM798 102h55v7h-55zM870 102h13v7h-13zM792 108h61v7h-61zM870 108h13v7h-13zM798 114h55v7h-55zM870 114h13v7h-13zM804 120h13v7h-13zM840 120h37v7h-37zM846 126h25v7h-25z"/>
<path fill="#ff2c00" d="M852 102h19v7h-19zM852 108h19v7h-19zM852 114h19v7h-19z"/>
</g>
<path d="M201.0 126.2 L212.8 127.2 L224.7 128.1 L236.5 129.0 L248.4 129.9 L260.2 130.8 L272.1 131.6 L283.9 132.4 L295.8 133.1 L307.6 133.8 L319.5 134.5 L331.3 135.2 L343.1 135.8 L355.0 136.4 L366.8 136.9 L378.7 137.4 L390.5 137.9 L402.4 138.4 L414.2 138.8 L426.1 139.1 L437.9 139.5 L449.8 139.8 L461.6 140.1 L473.5 140.3 L485.3 140.6 L497.2 140.7 L509.0 140.9 L520.9 141.0 L532.7 141.1 L544.6 141.1 L556.4 141.2 L568.2 141.1 L580.1 141.1 L591.9 141.0 L603.8 140.9 L615.6 140.7 L627.5 140.6 L639.3 140.3 L651.2 140.1 L663.0 139.8 L674.9 139.5 L686.7 139.1 L698.6 138.8 L710.4 138.4 L722.3 137.9 L734.1 137.4 L746.0 136.9 L757.8 136.4 L769.7 135.8 L781.5 135.2 L793.3 134.5 L805.2 133.8 L817.0 133.1 L828.9 132.4 L840.7 131.6 L852.6 130.8 L864.4 129.9 L876.3 129.0 L888.1 128.1 L900.0 127.2 L911.8 126.2M189.2 261.2 L201.4 262.2 L213.6 263.2 L225.9 264.1 L238.1 265.1 L250.4 265.9 L262.6 266.8 L274.9 267.6 L287.1 268.4 L299.3 269.1 L311.6 269.8 L323.8 270.5 L336.1 271.1 L348.3 271.7 L360.5 272.3 L372.8 272.8 L385.0 273.3 L397.3 273.8 L409.5 274.2 L421.7 274.6 L434.0 275.0 L446.2 275.3 L458.5 275.6 L470.7 275.8 L483.0 276.1 L495.2 276.2 L507.4 276.4 L519.7 276.5 L531.9 276.6 L544.2 276.7 L556.4 276.7 L568.6 276.7 L580.9 276.6 L593.1 276.5 L605.4 276.4 L617.6 276.2 L629.8 276.1 L642.1 275.8 L654.3 275.6 L666.6 275.3 L678.8 275.0 L691.1 274.6 L703.3 274.2 L715.5 273.8 L727.8 273.3 L740.0 272.8 L752.3 272.3 L764.5 271.7 L776.7 271.1 L789.0 270.5 L801.2 269.8 L813.5 269.1 L825.7 268.4 L837.9 267.6 L850.2 266.8 L862.4 265.9 L874.7 265.1 L886.9 264.1 L899.2 263.2 L911.4 262.2 L923.6 261.2M177.4 396.0 L190.0 397.0 L202.6 398.1 L215.3 399.0 L227.9 400.0 L240.5 400.9 L253.2 401.8 L265.8 402.6 L278.4 403.4 L291.1 404.2 L303.7 404.9 L316.3 405.6 L329.0 406.2 L341.6 406.9 L354.2 407.4 L366.9 408.0 L379.5 408.5 L392.2 409.0 L404.8 409.4 L417.4 409.8 L430.1 410.2 L442.7 410.5 L455.3 410.8 L468.0 411.1 L480.6 411.3 L493.2 411.5 L505.9 411.7 L518.5 411.8 L531.1 411.9 L543.8 412.0 L556.4 412.0 L569.0 412.0 L581.7 411.9 L594.3 411.8 L606.9 411.7 L619.6 411.5 L632.2 411.3 L644.8 411.1 L657.5 410.8 L670.1 410.5 L682.7 410.2 L695.4 409.8 L708.0 409.4 L720.6 409.0 L733.3 408.5 L745.9 408.0 L758.6 407.4 L771.2 406.9 L783.8 406.2 L796.5 405.6 L809.1 404.9 L821.7 404.2 L834.4 403.4 L847.0 402.6 L859.6 401.8 L872.3 400.9 L884.9 400.0 L897.5 399.0 L910.2 398.1 L922.8 397.0 L935.4 396.0M165.6 530.5 L178.6 531.6 L191.6 532.6 L204.7 533.6 L217.7 534.6 L230.7 535.5 L243.8 536.4 L256.8 537.3 L269.8 538.1 L282.8 538.9 L295.9 539.7 L308.9 540.4 L321.9 541.1 L334.9 541.7 L348.0 542.3 L361.0 542.9 L374.0 543.4 L387.1 543.9 L400.1 544.4 L413.1 544.8 L426.1 545.2 L439.2 545.5 L452.2 545.8 L465.2 546.1 L478.2 546.3 L491.3 546.5 L504.3 546.7 L517.3 546.8 L530.3 546.9 L543.4 547.0 L556.4 547.0 L569.4 547.0 L582.5 546.9 L595.5 546.8 L608.5 546.7 L621.5 546.5 L634.6 546.3 L647.6 546.1 L660.6 545.8 L673.6 545.5 L686.7 545.2 L699.7 544.8 L712.7 544.4 L725.7 543.9 L738.8 543.4 L751.8 542.9 L764.8 542.3 L777.9 541.7 L790.9 541.1 L803.9 540.4 L816.9 539.7 L830.0 538.9 L843.0 538.1 L856.0 537.3 L869.0 536.4 L882.1 535.5 L895.1 534.6 L908.1 533.6 L921.2 532.6 L934.2 531.6 L947.2 530.5M153.8 665.5 L167.2 666.6 L180.6 667.7 L194.0 668.7 L207.5 669.7 L220.9 670.7 L234.3 671.6 L247.7 672.5 L261.1 673.4 L274.6 674.2 L288.0 675.0 L301.4 675.7 L314.8 676.4 L328.2 677.1 L341.7 677.7 L355.1 678.3 L368.5 678.8 L381.9 679.3 L395.4 679.8 L408.8 680.2 L422.2 680.6 L435.6 681.0 L449.0 681.3 L462.5 681.6 L475.9 681.8 L489.3 682.0 L502.7 682.2 L516.1 682.3 L529.6 682.4 L543.0 682.5 L556.4 682.5 L569.8 682.5 L583.2 682.4 L596.7 682.3 L610.1 682.2 L623.5 682.0 L636.9 681.8 L650.3 681.6 L663.8 681.3 L677.2 681.0 L690.6 680.6 L704.0 680.2 L717.4 679.8 L730.9 679.3 L744.3 678.8 L757.7 678.3 L771.1 677.7 L784.6 677.1 L798.0 676.4 L811.4 675.7 L824.8 675.0 L838.2 674.2 L851.7 673.4 L865.1 672.5 L878.5 671.6 L891.9 670.7 L905.3 669.7 L918.8 668.7 L932.2 667.7 L945.6 666.6 L959.0 665.5M340.4 108.1 L307.4 739.1M484.6 112.6 L473.5 744.3M628.2 112.6 L639.3 744.3M772.4 108.1 L805.4 739.1" fill="none" stroke="#222" stroke-opacity="0.38" stroke-width="0.7" stroke-dasharray="2 6.4"/>
<path d="M390.0 213.6L380.8 214.0L369.8 215.4L361.6 217.3L353.4 220.4L346.5 223.6L339.7 227.3L332.8 232.8L326.0 239.0L319.1 243.1L312.3 245.8L304.0 249.2L295.8 253.3L287.6 258.1L279.4 263.6L272.5 269.1L267.0 276.0L262.2 284.2L259.5 292.4L258.1 300.0M338.3 226.6L336.9 221.1L332.8 219.1L336.3 217.0L335.6 213.6L339.7 214.3L343.1 211.5L344.9 215.0L341.7 219.8L345.8 221.1L350.6 219.8M328.7 234.8L330.1 230.7L334.2 232.1M295.8 253.3L298.5 248.5L297.2 244.4L293.1 245.8L290.3 243.1L289.0 248.5L284.8 243.8L286.2 249.9L290.3 254.0M279.4 263.6L281.4 256.8L279.4 252.7L277.3 254.7L278.7 260.9M272.5 269.1L275.2 260.9L267.0 262.9L269.8 265.7L266.3 269.1M262.2 284.2L264.3 276.0L260.8 271.9L256.7 271.6L259.5 274.6L262.9 278.7M259.5 292.4L256.0 285.6L250.6 288.3L247.8 290.4L251.9 291.7L254.7 293.8M367.1 211.5L367.8 207.4L370.5 205.4L372.6 207.4L371.2 211.5L368.7 213.6ZM382.2 212.2L384.2 206.7L385.6 203.3L387.0 207.4L386.3 212.2L383.6 213.6ZM245.1 258.1L247.1 265.0M380.0 213.8L388.2 214.4L396.5 217.9L404.7 221.3L412.9 222.7L419.8 219.9L425.2 222.0L430.7 224.7L436.2 223.3L440.3 224.0L444.4 228.1L447.2 232.3L451.3 235.7L455.4 239.8L462.3 240.5L469.1 239.8L476.0 239.1L481.5 235.7L485.6 232.3L489.7 230.9L495.2 233.6L499.3 237.7L502.0 241.9L500.6 246.0L504.1 241.9L507.5 243.9L509.6 239.8L512.3 236.4L508.9 235.0L504.8 230.9L500.6 228.1L496.5 226.8L493.8 222.7L495.2 218.5L499.3 215.8L503.4 211.7L506.1 206.2L502.0 207.6L497.9 210.3L495.2 214.4L489.7 213.1L488.3 209.0L491.1 204.8L496.5 202.8L500.6 200.7L504.8 198.7L510.2 197.3L515.7 195.9L522.6 197.3L529.4 197.3L536.3 196.6L540.0 197.3M470.5 202.1L473.2 197.3L478.7 195.9L484.2 198.0L488.3 202.8L485.6 206.9L478.7 208.3L473.2 206.9ZM465.7 200.7L467.1 198.0L469.8 197.7L470.8 200.7L468.4 203.5ZM473.9 215.8L476.0 213.8L478.0 215.8L476.0 219.2L473.2 218.5ZM400.6 207.6L404.0 210.3L402.6 212.4L399.2 209.6ZM406.7 214.4L410.2 213.8L411.5 216.5L408.1 217.9ZM419.8 215.8L425.2 213.8L429.4 214.4L426.6 218.5L421.1 219.2ZM425.2 221.3L430.7 220.6L431.4 224.7L427.3 224.7ZM434.8 206.9L436.9 210.3M440.3 209.0L443.1 214.4L449.9 217.9M382.7 210.3L385.5 203.5L386.2 209.0L383.4 211.7ZM520.0 198.0L528.2 199.4L537.8 201.4L539.2 195.2L538.5 189.1L541.3 183.6L544.0 189.1L545.4 196.6L548.8 200.0L554.3 198.7L561.1 197.3L568.0 196.6L574.8 195.9L581.7 194.6L588.5 194.6L595.4 195.9L602.3 200.0L609.1 204.8L616.0 209.0L620.1 214.4L618.7 218.5L624.2 219.9L629.7 222.0L633.8 219.2L639.3 215.8L644.8 211.7L648.9 206.2L654.4 204.8L659.8 204.8L665.3 209.0L670.8 213.1L674.9 219.9L680.0 225.4M554.3 198.7L559.1 194.6L561.1 196.6L565.9 190.4L567.3 195.2L570.7 189.8L572.1 194.6L574.8 195.9M583.1 193.9L587.2 192.5L592.7 193.2L596.8 193.9L595.4 196.6M629.7 222.0L633.8 217.2L640.6 214.4L637.9 217.9M630.4 178.1L631.7 182.2L633.1 184.3L635.2 182.2L637.2 178.8L636.5 182.2L639.3 182.2M520.0 201.4L525.5 202.1L529.6 202.8M524.1 196.6L528.2 198.0L532.3 196.6L536.5 198.7M650.0 206.5L654.1 204.4L659.6 204.4L665.1 208.5L670.6 213.3L674.7 218.8L678.1 224.3L682.9 228.4L687.0 233.9L689.8 236.6L695.2 235.9L698.0 242.1L700.0 246.2L700.7 251.7L699.4 258.5L697.3 265.4L695.9 272.3L697.3 280.5L699.4 288.7L702.1 295.6L706.2 302.4L710.3 310.0M700.0 273.6L704.8 275.7L709.0 277.1L708.3 283.2L704.8 286.0L706.2 291.5L702.1 288.7L702.8 281.9L700.0 277.7M734.3 190.0L735.7 195.5L737.7 203.7L740.5 211.9L744.6 220.2L748.7 229.8L752.8 238.0L758.3 246.2L763.1 254.4L762.4 261.3L764.5 269.5L767.9 277.7L771.3 286.0L774.8 295.6L778.2 303.8L780.9 310.0M755.6 251.0L758.3 258.5L761.1 264.0L762.4 257.2L759.7 253.1ZM730.2 191.4L727.5 196.9L726.8 203.7L729.5 207.8L731.6 213.3L730.2 218.8M728.8 223.6L730.9 226.3L732.9 229.8L732.3 233.2L729.5 231.1L728.4 227.0ZM724.0 247.6L726.8 249.0L726.1 251.0M729.5 251.7L732.9 252.4L732.3 255.1L730.2 254.4ZM740.5 244.8L744.6 246.9L741.9 249.6M746.0 246.2L748.7 249.0L750.8 253.1M739.8 264.0L743.2 262.7L741.2 266.8L738.4 272.3L741.2 272.9L744.6 275.7L743.9 279.8L741.2 277.7M741.9 292.8L744.6 293.5L743.9 297.6L741.9 296.3ZM699.6 290.0L703.7 295.5L707.8 302.3L711.9 309.2L715.4 316.0L717.4 322.9L722.9 326.3L727.0 329.8L729.1 336.6L732.5 343.5L739.4 346.2L746.2 350.3L749.0 354.4L749.6 361.3L750.3 366.8L754.4 368.8L761.3 368.8L768.1 366.8L773.6 363.3L777.1 358.5L779.1 350.3L780.5 342.1L781.2 331.1L782.1 321.5L781.6 311.9L779.1 303.7L776.4 296.9L772.3 290.0M713.3 307.8L717.4 309.9L722.2 309.2L719.5 313.3M749.0 385.3L755.8 383.2L762.7 379.1L769.5 373.6L775.0 366.8L777.7 358.5L779.8 351.7M749.6 307.8L754.4 303.0L758.5 299.9L762.7 303.0L764.0 310.6L760.6 317.4L755.8 315.4L751.7 311.9ZM741.4 293.4L743.5 292.1L744.8 294.8L743.2 297.5ZM812.3 312.2L816.5 316.3L821.9 319.8L828.8 317.0L837.0 314.3L845.2 312.2L847.3 307.4L850.7 304.7L856.2 305.4L860.3 308.8L864.4 311.5L869.9 312.9L874.7 315.0L875.1 320.4L872.7 325.2L869.9 329.4L869.2 339.0L865.8 336.2L863.1 333.5L867.2 329.4L868.5 323.9L865.8 319.8L863.1 315.6L860.3 312.9M829.5 293.7L835.6 296.5L842.5 299.2L849.4 301.3L856.2 303.3L861.7 306.7L867.2 310.8M835.6 301.9L837.7 300.6M854.8 323.9L857.6 325.9L856.9 328.0M857.6 330.0L859.0 332.1M808.9 357.5L811.7 363.6M810.3 336.9L813.0 335.9M817.8 338.3L819.9 339.0M846.6 341.4L850.7 343.8L854.2 348.5L853.5 353.3L850.7 355.4L848.7 354.7L852.1 351.3L851.4 347.2L848.7 343.8ZM841.1 358.8L843.9 363.6L847.3 367.7L850.7 374.6L854.8 380.1L856.9 385.6L859.0 391.1L861.7 396.5L864.4 400.0M841.1 358.8L839.8 365.0L841.1 370.5L838.4 376.0L835.6 380.1L831.5 382.1L835.6 385.6L841.1 389.7L846.6 393.8L849.4 397.9L850.7 400.0M879.5 349.9L883.6 347.9L887.7 348.5L889.1 351.3L896.0 354.7L901.5 358.8L904.9 363.6L904.2 369.1L902.1 374.6L904.9 378.7L901.5 376.0L898.0 371.9L902.1 370.5L902.8 365.0L900.1 360.9L894.6 356.8L887.7 352.7L883.6 352.7L880.9 356.8L878.1 359.5M860.3 367.1L864.4 365.0L871.3 362.9L876.8 360.9L874.0 364.3L868.5 367.7L863.1 369.1ZM883.6 371.9L882.9 377.3L885.0 382.8L890.5 388.3L896.0 393.8L901.5 400.0M916.5 374.6L920.6 378.7L923.4 384.2L927.5 388.3L931.6 391.7L928.9 393.1L924.8 393.1L927.5 389.7M910.4 378.4L915.2 379.0M841.3 370.0L840.6 376.9L836.5 381.0L831.7 382.3L836.5 385.1L841.9 389.2L847.4 393.3L851.5 398.8L854.3 405.6L853.6 411.1L858.4 413.9L863.9 411.1L864.6 404.3L862.5 397.4L859.8 391.9L857.0 385.1L856.3 379.6L852.9 375.5L848.8 370.0M867.3 409.1L870.0 414.6M883.8 371.4L883.1 376.9L885.8 383.0L891.3 387.8L896.1 393.3L900.2 399.5L905.0 405.0L909.1 409.1L913.2 412.5L918.7 414.6L924.2 416.6L930.4 417.7L924.2 418.0L916.0 417.3L910.5 417.3L914.6 414.6L910.5 411.1L906.4 407.7M916.7 374.8L920.1 376.9L923.5 381.7L927.6 386.5L931.1 389.9L932.4 392.6L928.3 392.6L924.9 391.9L928.3 389.2M898.1 371.4L901.6 372.7L903.6 376.2L905.0 378.2M909.8 378.9L914.6 379.3M931.7 407.7L933.8 411.1L935.8 415.2M935.2 422.8L936.5 424.2M932.4 424.8L926.9 426.2L922.1 429.6L918.7 434.4L917.1 439.9L917.6 445.4L919.4 450.9L922.1 455.7L924.9 459.8M923.5 464.3L925.6 463.9M820.0 450.2L825.5 449.5L831.0 452.3L836.5 453.6L841.9 453.6L847.4 456.4L852.9 459.8L858.4 463.2L862.5 467.3L866.6 472.8L872.1 476.9L877.6 481.1L881.7 484.5L888.5 487.2L896.8 488.6M820.0 459.1L828.2 460.5L835.1 463.2L841.9 466.0L847.4 468.7L852.9 471.5L858.4 475.6L863.9 478.3L869.4 481.1L874.8 483.8L880.3 486.5M825.5 485.2L831.0 484.5L835.1 487.9L828.2 489.3L822.7 487.9ZM636.9 483.1L641.0 481.0L646.5 479.0L651.9 476.9L654.0 473.5L652.6 468.0L654.7 463.9L660.2 459.8L667.0 455.0L673.9 450.8L682.1 447.4L690.3 444.7L698.5 443.3L706.8 442.6L715.0 438.5L723.2 437.1L731.5 437.5L739.7 437.8L742.4 440.6L746.5 438.5L753.4 435.8L758.9 433.7L767.1 434.4L775.3 436.5L783.6 437.8L790.0 439.2M636.9 483.1L638.2 485.1L643.7 484.4L649.2 483.8L651.3 487.2L654.7 485.1L658.8 482.4L665.0 481.0L667.0 476.2L669.8 472.8L675.2 472.1L679.4 471.4L684.8 471.4L689.0 467.3L693.1 464.6L698.5 459.8L704.0 454.3L712.3 454.0L720.5 453.6L728.7 453.6L735.6 455.0L739.0 458.4L735.6 461.1L728.7 462.5L723.2 463.9L727.3 467.3L732.8 470.0L739.7 472.1L746.5 473.5L752.0 471.4L753.4 467.3L754.8 471.4L758.9 473.5L767.1 474.2L775.3 472.8L780.8 476.2L786.3 479.6L790.0 480.3M695.8 480.3L698.5 479.0L704.0 480.3L708.1 484.4L710.9 488.5L710.2 492.7L705.4 495.4L699.9 496.1L694.4 494.0L692.4 490.6L697.2 491.3L695.8 485.8ZM751.3 488.5L758.9 487.2M677.3 479.0L682.1 480.0L686.9 479.8M701.3 473.5L704.0 475.5L706.8 477.6L709.5 481.7L710.9 485.8M706.8 456.3L708.1 459.1M712.3 461.1L712.9 463.9M716.4 459.8L719.1 461.1M704.7 466.6L702.7 471.4M690.3 483.1L691.7 485.8M760.0 433.0L768.2 433.7L777.8 435.8L787.4 438.5L797.0 442.6L805.2 447.4L812.1 451.5L819.0 449.5L825.8 449.5L834.0 452.2L842.3 452.9L849.1 455.0L856.0 459.1L861.5 463.9L865.6 469.4L871.1 474.8L877.9 480.3L883.4 484.4L888.9 488.5L897.1 490.6L905.3 491.3L912.2 494.0L917.7 496.1L920.0 495.1M760.0 439.2L769.6 440.6L779.2 443.3L788.8 445.4L798.4 447.4L805.2 452.9L812.1 457.7L820.3 459.8L829.9 461.1L838.1 462.5L845.0 465.2L851.9 469.4L858.7 473.5L865.6 476.2L872.4 480.3L877.9 485.8L881.3 487.2M877.9 480.3L882.0 483.1L881.3 487.2L877.9 486.5L876.5 483.1ZM760.0 474.2L768.2 473.5L776.5 472.8L780.6 475.5L786.0 479.6L792.9 483.1L801.1 485.1L809.4 486.5L817.6 487.9L824.4 485.8L831.3 484.2L834.7 488.5L837.5 494.0L839.5 500.9L842.3 505.0L847.7 509.1L853.2 513.2L858.7 513.9L866.9 513.5L875.2 512.5L880.6 513.9L884.8 518.7L885.4 522.1L882.0 526.9L876.5 530.4L871.1 533.8L868.3 538.6L869.7 539.6M847.7 511.9L856.0 516.0L858.7 522.8L853.2 522.1L849.1 518.7ZM827.9 485.8L831.3 488.5L830.6 493.3L828.5 491.3ZM800.4 420.0L803.9 423.0M866.9 542.8L871.7 542.1L879.9 540.0L888.1 538.0L897.7 536.6L906.0 535.2L914.2 533.9L922.4 533.6L925.8 531.8L929.3 534.1L937.5 535.2L947.1 534.1M889.5 490.7L895.0 491.4L900.5 492.7L906.0 492.1L911.5 494.1L916.9 496.9L923.8 494.8L929.3 495.5L932.0 499.6L930.6 503.7L926.5 505.1L927.2 508.5L933.4 507.8L938.9 507.1L945.0 507.1M850.6 596.0L852.6 591.9L857.4 589.9L864.3 587.5L873.9 587.1L884.8 587.8L894.4 588.5L899.9 591.9L906.8 594.7L915.0 596.0L919.1 600.2L921.6 604.0L916.4 605.9L910.9 607.0L905.4 604.3L899.9 603.6L897.2 607.0L893.1 607.0L890.3 610.4L893.1 611.8L889.0 613.6L884.8 609.8L878.0 609.1L872.5 610.0L868.4 606.3L864.3 602.9L860.2 599.5L854.7 599.1ZM440.0 578.7L446.9 573.9L453.0 569.1L454.4 562.3L455.1 555.4L460.6 550.6L461.3 541.7L461.9 532.1L462.6 522.5L466.0 514.3L472.9 508.8L481.1 504.7L490.7 502.6L500.3 501.3L509.9 499.9L519.5 497.8L527.7 494.8L536.0 493.0L544.2 494.8L552.4 496.5L560.6 497.8L568.9 493.7L573.7 495.8L577.1 500.6L579.8 507.4L579.2 514.3L575.7 521.1L570.2 528.0L564.8 534.8L560.6 540.3L557.9 545.8L557.6 552.7L555.2 556.8L559.3 561.6L556.5 565.7L554.5 569.1L556.5 571.9L555.2 576.0L553.8 582.8L551.1 589.7L549.0 596.5L548.3 600.0M571.6 537.6L573.0 532.1L576.4 528.7L580.5 527.7L579.2 532.1L575.7 536.2L573.0 539.0ZM549.7 558.8L553.8 556.1L556.5 557.5L555.8 560.9L552.4 563.6L549.0 562.3ZM551.1 570.5L554.5 568.4L556.5 571.2L553.8 574.6L550.8 573.9ZM529.8 600.0L533.2 593.8L536.0 589.0L538.7 586.3L540.8 589.7L539.4 595.2L538.0 600.0M560.6 497.1L563.4 495.8L568.2 496.5L566.1 498.5L562.0 498.5ZM550.6 590.0L548.5 596.9L546.5 603.7L544.4 610.6L541.7 617.4L539.6 624.3L539.0 631.1L539.2 638.0L540.0 644.8L537.6 651.7L535.5 658.5L534.2 664.0L536.2 669.5M534.8 590.0L532.1 595.5L528.0 602.3L532.1 603.7L537.6 603.0L536.9 609.2L535.5 616.0L533.5 622.9L531.4 629.8L530.0 636.6L530.7 643.5L532.8 650.3L530.7 657.2L528.0 664.0L523.9 670.9L518.4 677.7L512.9 683.2L509.5 686.0L511.5 688.7L517.0 690.1L521.1 691.5L523.9 688.0L521.1 684.6L526.6 688.7L534.8 694.2L540.3 690.1L545.8 687.3L551.3 686.7L554.0 690.8L559.5 690.1L567.7 691.5L576.0 692.1L584.2 690.8L592.4 690.1L600.6 686.0L607.5 683.2L614.4 684.6L622.6 687.3L630.8 686.0L636.3 683.9L640.0 684.6M540.3 590.0L539.0 596.9L537.6 599.6L541.7 602.3L543.8 607.8M553.3 643.5L556.1 642.8M545.8 658.5L547.9 657.5M556.5 633.9L557.0 634.4M554.7 639.4L555.4 639.6M493.7 700.4L499.2 698.3L504.7 695.6L508.8 692.1L512.2 690.8L507.4 698.3L504.7 701.1L497.8 703.8L495.1 703.1ZM532.1 631.1L534.8 628.4L537.6 631.1M533.5 636.6L534.8 639.4M536.2 653.1L537.6 655.8M534.2 661.3L536.2 666.8M600.0 687.3L605.5 683.2L611.0 683.9L616.5 685.9L621.9 688.0L627.4 687.3L632.9 685.2L637.0 683.2L642.5 684.6L648.0 687.3L654.8 688.0L661.0 688.3L665.8 692.8L671.3 697.6L676.8 700.3L682.3 703.1L687.7 705.1L691.9 707.2L694.6 711.3L697.3 714.0L700.8 715.7L698.0 718.8L696.0 723.6L697.3 729.1L698.0 736.0L697.3 742.1M667.9 700.3L669.9 698.3L674.0 699.0L679.5 702.4L685.0 705.1L686.4 707.9L682.3 707.2L679.5 709.2L676.8 705.8L672.7 703.1L669.9 705.1L667.9 703.1ZM691.9 720.9L693.9 718.8L695.3 722.3L694.6 727.7L692.5 725.0ZM694.6 738.0L696.7 736.7L698.0 740.1L696.0 742.1ZM704.2 690.7L707.6 690.5M715.2 707.2L717.9 706.5L720.6 708.5L719.3 712.0L715.8 710.6ZM713.8 727.7L716.5 727.1L719.3 729.8M704.2 736.0L706.3 738.7L709.7 740.1M718.6 737.3L720.6 740.8M261.2 290.0L259.8 296.9L259.1 303.7L260.5 310.6L262.5 317.4L263.5 325.6L263.9 335.2L263.2 343.5L260.5 349.0L256.4 355.8L252.3 362.7L248.8 370.9L246.1 379.1L244.0 387.3L242.0 395.6L240.6 403.8L239.9 410.0M257.7 290.0L255.7 296.9L253.6 303.7L255.7 310.6L256.4 317.4L258.4 324.3L260.5 331.1L261.9 335.9M244.0 354.4L246.1 353.8L248.1 357.2L250.9 352.4L253.6 354.4L252.3 358.5L248.1 361.3L246.8 366.8L249.5 368.1L248.1 372.3L244.0 373.6L242.7 368.1L244.0 362.7L242.0 358.5ZM238.5 383.2L239.9 381.2L241.3 384.6L239.9 388.7ZM196.0 294.1L199.5 298.2L203.6 299.6L202.9 303.7L206.3 305.8L204.3 308.5L203.6 311.9L201.5 310.6L202.2 306.5L199.5 304.4L197.4 303.0L199.5 300.3ZM240.6 400.0L239.2 408.2L238.5 416.5L237.9 424.7L237.2 432.9L235.8 441.1L233.3 446.6L233.8 454.8L235.1 461.7L235.8 468.5L238.5 474.0L242.7 478.8L246.8 483.6L247.5 487.7L244.7 490.5L244.0 494.6L245.4 500.1L247.5 505.6L249.5 511.1L252.3 516.5L254.3 520.0M236.5 469.9L236.9 476.8L238.5 482.3L241.3 487.7L244.0 490.5M224.8 454.8L226.9 454.2L228.3 456.2L226.2 457.6ZM224.8 459.6L226.9 459.0L227.3 461.7L225.1 462.0ZM231.0 463.1L233.1 462.4L233.8 465.8L232.0 466.5ZM249.2 510.0L251.3 515.5L254.7 521.7L261.5 529.9L267.7 538.1L272.5 545.6L273.9 553.9L275.9 562.1L281.4 566.2L282.8 570.3L285.5 573.1L286.9 577.2L290.3 581.3L295.1 583.3L301.3 584.0L308.1 584.7L312.3 586.8L315.0 590.9L320.5 590.9L323.2 595.0L326.0 599.8L328.7 603.9L333.5 606.0L339.7 604.6L346.5 602.5L353.4 600.5L360.2 598.4L367.1 596.6L374.0 597.1L376.7 599.1L380.8 597.7L386.3 595.0L390.0 591.6M282.8 590.9L284.2 587.5L286.9 588.8L289.0 586.1L290.3 584.0M311.6 595.7L313.6 594.3L315.7 595.7L314.3 597.7L312.0 597.5ZM323.2 615.6L325.3 614.2L326.7 616.3L325.3 619.7L323.2 619.0ZM262.2 592.3L265.0 592.9L268.4 595.7L270.4 599.8L269.1 603.2L265.6 601.2L263.6 597.7ZM373.3 597.7L376.0 600.5M332.1 606.0L333.5 608.0M350.6 600.6L357.4 598.5L364.3 596.5L371.1 596.5L375.2 598.5L382.1 596.5L387.6 593.8L390.3 591.7L395.8 590.3L404.0 589.2L412.3 589.0L414.3 591.7L410.9 593.8L413.6 595.1L419.1 592.4L426.0 589.0L431.5 584.2L436.9 581.4L443.8 577.3L449.3 573.2L453.4 569.1L454.1 562.9L454.8 557.4L457.5 552.6L460.9 549.9L461.9 543.7L461.9 536.9L461.9 530.0M415.0 595.8L420.5 597.9L426.0 598.5L431.5 594.4L435.6 591.0L436.3 588.3L432.1 586.9L426.0 589.6L419.1 592.4ZM389.6 592.4L391.0 595.1M373.9 597.2L375.9 599.9M350.6 641.7L352.6 639.0L356.7 638.3L361.5 639.7L365.0 642.4L366.7 645.2M444.5 626.0L446.5 624.3L450.0 623.9M445.2 626.7L446.5 629.8M156.5 640.3L160.6 643.0L167.4 644.4L174.3 646.5L181.1 648.5L188.0 650.6L192.1 654.7L197.6 659.5L204.4 662.2L211.3 665.6L216.8 669.8L220.9 673.2L227.7 674.1L236.0 675.9L241.5 678.0L246.9 681.4L253.8 684.2L260.6 686.2L268.9 685.5L275.7 682.8L282.6 680.0L290.8 677.3L296.3 675.9L300.0 673.9M293.6 661.5L296.3 656.3L298.3 661.5ZM156.7 639.6L159.2 638.5L160.6 642.1ZM290.0 678.4L295.5 676.3L301.0 672.9L305.1 670.8L310.6 669.5L317.4 669.9L324.3 670.8L331.1 672.9L336.6 675.6L342.1 678.4L347.6 680.4L354.4 685.2L361.3 691.4L368.1 697.6L375.0 704.4L381.9 712.0L388.7 719.5L395.6 727.1L402.4 733.2L409.3 739.4L414.1 743.1M379.1 672.9L384.6 666.7L383.2 671.5L391.5 674.3L392.8 677.7L403.8 683.9L406.5 685.2L403.1 687.3M382.5 679.1L386.0 677.0L391.5 681.1L388.7 682.5M351.0 642.1L354.4 640.0M358.5 641.4L362.7 643.4L366.1 645.5M293.4 661.3L296.2 656.2L298.5 661.7ZM431.9 725.7L434.6 724.3L436.7 727.7L434.0 729.1L432.6 727.7ZM778.0 108.0L776.0 110.1L773.2 113.5L769.1 115.6L765.0 116.9L762.3 120.4L758.1 121.0L759.5 124.5L755.4 127.9L751.3 130.6L748.5 134.8L744.4 140.2L741.7 145.7L740.3 151.2L737.6 156.7L736.2 163.5L734.8 170.4L734.2 177.3L733.5 184.1L734.8 191.0L736.9 197.8L738.3 204.7L740.3 211.5L741.0 215.0M748.5 120.4L749.9 124.5L752.7 127.9L754.7 125.8L756.8 128.6M755.4 119.0L758.8 118.3L760.9 121.0M744.4 140.2L740.3 139.6L742.4 143.0L739.6 145.0L741.7 147.8L737.6 149.2L739.6 152.6L735.5 154.6L737.6 158.1L734.2 159.4L736.2 162.9L732.8 164.9L728.7 164.9L731.4 167.7L730.0 171.8L732.8 174.5L731.4 177.3L733.5 180.7M731.4 192.3L728.7 191.7L729.4 195.1L727.3 199.2L728.0 203.3L726.6 204.7L728.7 207.4L730.0 211.5L731.4 215.0M366.2 137.1L369.7 141.4L372.2 147.4L373.1 154.3L374.8 160.3L379.1 166.3L377.4 162.0L376.5 156.8L377.9 152.6L375.1 149.1L374.0 144.0L371.4 139.7Z" fill="none" stroke="#6a3d00" stroke-width="1.55" stroke-linejoin="round" stroke-linecap="round"/><path d="M497.9 210.3L506.1 204.8L507.5 209.0L503.4 215.8L500.6 221.3L496.5 226.8L492.4 224.0L493.8 218.5ZM476.0 224.0L484.2 226.8L489.7 229.5L485.6 233.6L481.5 235.0L478.7 229.5ZM462.3 233.6L469.1 231.6L474.6 234.3L473.2 239.1L465.0 239.8ZM604.3 200.0L607.7 198.7L613.2 198.7L611.9 202.1L616.0 204.8L618.0 207.6L614.6 208.3L610.5 204.8L606.4 202.8ZM698.0 244.8L701.0 245.5L701.4 251.7L699.4 254.4ZM714.7 317.4L718.8 314.7L721.5 321.5L727.7 318.1L724.3 325.6L720.2 327.0L716.7 323.6ZM731.1 342.1L739.4 344.2L747.6 349.0L753.1 355.8L749.0 355.1L742.1 349.0L733.9 346.2ZM750.3 362.7L754.4 362.0L757.2 364.7L755.8 367.5L751.7 366.8ZM758.5 369.5L764.0 368.1L770.9 366.1L775.0 362.7L772.3 369.5L766.8 373.6L761.3 373.6ZM724.3 391.5L731.1 388.0L738.0 384.6L744.8 382.5L749.0 383.2L744.8 386.7L738.0 389.4L731.1 391.5ZM720.2 389.4L722.9 389.4L722.9 391.5L720.2 391.5ZM696.2 388.4L699.6 388.4L699.6 389.5L696.2 389.5ZM860.3 309.5L868.5 311.5L874.7 315.6L874.0 322.5L869.9 325.2L865.8 321.1L862.4 315.6ZM824.7 308.8L827.4 308.1L829.5 311.5L826.0 314.3L823.3 312.9ZM813.0 312.9L817.8 315.6L821.9 319.1L820.6 320.4L815.1 317.0ZM805.5 345.8L807.5 345.1L807.1 351.3L806.2 354.0ZM835.6 378.7L841.1 374.6L841.1 381.5L838.4 384.2L833.6 382.1ZM848.0 389.7L857.6 386.9L860.3 395.2L861.7 400.0L850.7 400.0ZM847.4 390.6L855.6 386.5L861.1 396.0L864.6 405.6L862.5 412.5L857.0 413.9L853.6 409.8L852.9 400.2ZM840.6 453.6L850.2 457.7L859.8 463.2L865.2 470.1L861.1 471.5L854.3 466.0L846.0 463.2L839.2 459.1ZM757.5 433.0L767.1 433.7L778.1 435.8L790.0 437.8L790.0 444.0L780.8 444.0L772.6 440.6L761.6 437.8ZM728.7 467.3L736.9 469.4L745.2 470.7L752.0 470.7L750.6 474.8L742.4 474.8L734.2 472.8ZM710.9 485.8L715.0 489.9L723.2 489.9L731.5 487.2L739.7 487.9L747.9 486.5L745.2 489.2L736.9 489.9L726.0 492.0L716.4 492.7L712.3 491.3ZM760.0 433.0L777.8 435.8L797.0 442.6L801.1 447.4L788.8 445.4L773.7 441.9L760.0 439.2ZM812.1 451.5L825.8 448.8L842.3 452.9L847.7 457.0L836.8 458.4L823.1 456.3L813.5 455.6ZM849.1 455.6L858.7 461.1L865.6 469.4L861.5 470.7L854.6 465.2L847.7 461.1ZM888.9 489.2L893.0 488.5L895.7 491.3L902.6 492.7L901.2 494.0L891.6 492.0ZM810.0 502.3L814.8 502.9L821.7 507.1L831.3 511.9L839.5 514.6L846.4 517.3L846.4 521.5L838.1 518.0L828.5 513.9L819.0 509.1L812.1 505.0ZM927.9 503.7L933.4 505.1L945.0 506.5L945.0 509.2L933.4 509.2L927.9 508.5ZM540.3 611.9L545.1 607.8L544.4 613.3L540.3 619.5ZM542.4 635.2L545.8 630.4L547.9 629.8L546.5 638.0L543.8 643.5L541.7 642.1ZM572.5 680.8L576.0 679.1L576.4 679.9L573.2 681.6ZM584.2 673.9L589.7 670.5L595.2 668.7L600.6 668.0L600.6 669.0L595.2 669.8L589.7 671.7L584.9 674.7ZM606.8 669.1L609.6 666.1L610.2 667.0L607.9 669.8ZM480.0 648.7L484.1 649.0L484.1 649.8L480.0 649.6ZM493.7 646.3L496.5 646.5L496.5 647.2L493.7 647.0ZM515.6 676.4L520.4 674.3L519.8 677.1L516.3 677.7ZM650.0 688.0L654.2 688.3L653.5 690.0L650.0 689.6ZM605.5 682.5L609.6 683.2L611.0 685.2L607.5 684.6ZM692.4 679.5L693.5 679.5L693.5 680.6L692.4 680.6ZM694.0 683.0L695.1 683.0L695.1 684.1L694.0 684.1ZM693.4 686.1L694.5 686.1L694.5 687.2L693.4 687.2ZM722.8 684.4L723.9 684.4L723.9 685.5L722.8 685.5ZM701.6 695.7L702.7 695.7L702.7 696.8L701.6 696.8ZM705.3 705.9L706.4 705.9L706.4 707.0L705.3 707.0ZM715.3 721.0L716.4 721.0L716.4 722.1L715.3 722.1ZM705.0 729.3L706.1 729.3L706.1 730.3L705.0 730.3ZM702.3 731.3L703.4 731.3L703.4 732.4L702.3 732.4ZM709.7 733.2L713.8 733.9L712.4 736.7L709.0 736.0ZM247.5 290.0L261.2 290.0L259.1 295.5L256.4 302.3L252.9 305.1L254.3 298.2L252.3 292.7ZM255.0 316.0L257.7 321.5L260.5 329.8L263.2 335.2L259.8 335.2L257.7 328.4L255.0 321.5ZM244.0 370.9L248.8 370.2L246.1 379.1L244.0 387.3L242.0 394.2L240.6 388.7L242.7 379.1ZM242.7 355.8L246.8 354.4L250.9 353.1L252.9 355.8L249.5 358.5L245.4 359.9ZM204.3 323.6L208.4 322.2L210.4 321.5L209.8 325.6L207.7 329.1L207.0 326.3ZM236.5 471.3L239.9 475.4L244.7 480.9L246.8 485.0L244.7 489.1L242.0 486.4L238.5 480.9L236.9 475.4ZM218.1 450.9L219.2 450.9L219.2 452.0L218.1 452.0ZM211.3 465.8L212.4 465.8L212.4 466.9L211.3 466.9ZM215.4 462.2L216.5 462.2L216.5 463.3L215.4 463.3ZM220.2 462.8L221.3 462.8L221.3 463.9L220.2 463.9ZM222.2 463.1L223.3 463.1L223.3 464.2L222.2 464.2ZM196.9 509.1L198.0 509.1L198.0 510.2L196.9 510.2ZM250.3 485.1L251.4 485.1L251.4 486.2L250.3 486.2ZM288.3 579.9L292.4 582.0L290.3 584.0ZM410.9 593.1L417.7 591.0L426.0 587.6L431.5 584.2L431.5 586.2L426.0 589.6L419.1 592.8L413.6 595.5ZM351.3 601.0L360.2 599.0L360.4 599.9L351.7 602.1ZM455.6 628.4L456.7 628.4L456.7 629.5L455.6 629.5ZM413.8 538.0L414.9 538.0L414.9 539.0L413.8 539.0ZM441.6 640.2L442.7 640.2L442.7 641.3L441.6 641.3ZM436.1 648.4L437.2 648.4L437.2 649.5L436.1 649.5ZM438.2 658.0L439.3 658.0L439.3 659.1L438.2 659.1ZM432.0 668.2L433.1 668.2L433.1 669.3L432.0 669.3ZM740.3 140.2L744.4 141.6L741.7 149.8L738.3 156.7L736.2 163.5L734.2 171.8L732.8 171.8L734.8 160.8L737.6 152.6ZM236.8 166.3L240.3 169.4L236.8 171.4ZM236.8 176.2L239.4 176.9L239.8 178.6L237.2 178.3ZM751.2 564.5L761.1 565.3L760.4 567.1L755.6 568.0L751.7 567.5ZM791.8 552.2L797.3 550.9L797.7 552.2L792.5 553.5ZM799.1 550.4L803.9 549.1L804.3 550.4L799.5 551.7ZM671.2 633.4L673.4 633.4L673.4 634.7L671.2 634.7Z" fill="#6a3d00" fill-opacity="0.88" stroke="#6a3d00" stroke-width="1.1" stroke-linejoin="round"/><path d="M515.7 207.6L517.1 213.1L515.0 218.5L510.9 224.0L506.1 228.1M507.5 202.1L517.1 201.8L528.1 202.4L536.3 201.4M534.8 672.3L531.4 679.8" fill="none" stroke="#6a3d00" stroke-width="1.4" stroke-dasharray="3 2" />
</g>
<path d="M203.4 98.5 L221.0 100.0 L238.7 101.3 L256.3 102.6 L274.0 103.9 L291.6 105.0 L309.3 106.1 L326.9 107.1 L344.5 108.1 L362.2 108.9 L379.8 109.7 L397.5 110.4 L415.1 111.1 L432.8 111.6 L450.4 112.1 L468.0 112.5 L485.7 112.9 L503.3 113.1 L521.0 113.3 L538.6 113.5 L556.2 113.5 L573.9 113.5 L591.5 113.4 L609.2 113.2 L626.8 112.9 L644.5 112.6 L662.1 112.2 L679.7 111.8 L697.4 111.2 L715.0 110.6 L732.7 109.9 L750.3 109.1 L768.0 108.3 L785.6 107.4 L803.2 106.4 L820.9 105.3 L838.5 104.2 L856.2 103.0 L873.8 101.7 L891.5 100.3 L909.1 98.9 L963.8 727.8 L943.4 729.5 L923.0 731.1 L902.6 732.6 L882.2 734.0 L861.8 735.4 L841.4 736.7 L821.0 737.8 L800.7 738.9 L780.3 739.9 L759.9 740.8 L739.5 741.6 L719.1 742.4 L698.7 743.0 L678.3 743.6 L658.0 744.1 L637.6 744.5 L617.2 744.8 L596.8 745.0 L576.4 745.1 L556.0 745.2 L535.6 745.2 L515.3 745.0 L494.9 744.8 L474.5 744.5 L454.1 744.2 L433.7 743.7 L413.3 743.1 L392.9 742.5 L372.5 741.8 L352.2 741.0 L331.8 740.1 L311.4 739.1 L291.0 738.0 L270.6 736.9 L250.2 735.6 L229.8 734.3 L209.5 732.9 L189.1 731.4 L168.7 729.8 L148.3 728.1ZM196.5 90.0 L214.5 91.5 L232.5 93.0 L250.5 94.3 L268.5 95.6 L286.4 96.8 L304.4 97.9 L322.4 99.0 L340.4 100.0 L358.4 100.8 L376.4 101.7 L394.4 102.4 L412.4 103.0 L430.4 103.6 L448.4 104.1 L466.4 104.6 L484.3 104.9 L502.3 105.2 L520.3 105.4 L538.3 105.5 L556.3 105.5 L574.3 105.5 L592.3 105.3 L610.3 105.1 L628.3 104.9 L646.2 104.5 L664.2 104.1 L682.2 103.6 L700.2 103.0 L718.2 102.3 L736.2 101.6 L754.2 100.7 L772.2 99.8 L790.2 98.9 L808.2 97.8 L826.1 96.7 L844.1 95.4 L862.1 94.1 L880.1 92.8 L898.1 91.3 L916.1 89.8 L973.2 735.5 L952.4 737.3 L931.5 739.0 L910.7 740.6 L889.9 742.1 L869.1 743.5 L848.2 744.8 L827.4 746.0 L806.6 747.2 L785.7 748.2 L764.9 749.2 L744.1 750.1 L723.3 750.8 L702.4 751.5 L681.6 752.1 L660.8 752.6 L639.9 753.0 L619.1 753.3 L598.3 753.6 L577.5 753.7 L556.6 753.8 L535.8 753.7 L515.0 753.6 L494.1 753.3 L473.3 753.0 L452.5 752.6 L431.7 752.1 L410.8 751.5 L390.0 750.8 L369.2 750.1 L348.3 749.2 L327.5 748.2 L306.7 747.2 L285.9 746.0 L265.0 744.8 L244.2 743.5 L223.4 742.1 L202.5 740.6 L181.7 739.0 L160.9 737.3 L140.1 735.5ZM203.4 98.5 L196.5 90.0M909.1 98.9 L916.1 89.8M963.8 727.8 L973.2 735.5M148.3 728.1 L140.1 735.5M269.3 95.7 L270.4 103.6M341.2 100.0 L342.1 107.9M412.6 103.1 L413.2 111.0M484.9 104.9 L485.2 112.9M556.6 105.5 L556.6 113.5M628.3 104.9 L628.0 112.9M700.6 103.0 L700.0 111.1M772.0 99.8 L771.1 108.1M843.9 95.5 L842.8 103.9M224.4 742.2 L224.4 733.9M307.4 747.2 L307.4 738.9M390.5 750.9 L390.5 742.4M473.5 753.0 L473.5 744.5M556.4 753.7 L556.4 745.2M639.4 753.0 L639.4 744.4M722.4 750.9 L722.4 742.3M805.4 747.2 L805.4 738.7M888.4 742.2 L888.4 733.6M195.0 106.9 L202.6 107.5M917.6 106.9 L909.8 107.5M193.4 124.9 L201.0 125.5M919.2 124.9 L911.4 125.5M187.5 193.2 L195.1 193.8M925.2 193.2 L917.3 193.8M181.6 260.4 L189.2 261.0M931.2 260.4 L923.2 261.0M175.7 328.3 L183.2 328.9M937.2 328.3 L929.1 328.9M169.8 395.1 L177.4 395.7M943.1 395.1 L934.9 395.7M163.9 462.3 L171.5 462.9M949.0 462.3 L940.7 462.9M158.1 529.4 L165.6 530.0M955.0 529.4 L946.6 530.0M152.1 597.7 L159.7 598.3M961.0 597.7 L952.5 598.3M146.2 664.7 L153.8 665.3M966.9 664.7 L958.3 665.3M143.2 699.7 L150.7 700.3M970.0 699.7 L961.4 700.3" fill="none" stroke="#111" stroke-width="0.7"/>
<path d="M269.3 99.6 L276.5 100.1 L283.7 100.6 L290.9 101.0 L298.1 101.5 L305.2 101.9 L312.4 102.4 L319.6 102.8 L326.8 103.2 L334.0 103.6 L341.2 103.9M412.6 107.0 L419.8 107.3 L427.1 107.5 L434.3 107.7 L441.5 107.9 L448.8 108.1 L456.0 108.3 L463.2 108.5 L470.4 108.6 L477.7 108.8 L484.9 108.9M556.6 109.5 L563.8 109.5 L570.9 109.5 L578.1 109.4 L585.3 109.4 L592.5 109.3 L599.6 109.3 L606.8 109.2 L614.0 109.1 L621.1 109.0 L628.3 108.9M700.6 107.0 L707.7 106.8 L714.9 106.5 L722.0 106.2 L729.2 106.0 L736.3 105.7 L743.4 105.3 L750.6 105.0 L757.7 104.7 L764.9 104.3 L772.0 104.0M843.9 99.6 L850.8 99.2 L857.6 98.7 L864.5 98.2 L871.4 97.7 L878.2 97.1 L885.1 96.6 L892.0 96.1 L898.9 95.5 L905.7 94.9 L912.6 94.5M144.6 732.0 L152.5 732.5 L160.5 733.2 L168.5 733.8 L176.5 734.5 L184.5 735.1 L192.5 735.7 L200.4 736.3 L208.4 736.9 L216.4 737.5 L224.4 738.0M307.4 743.1 L315.7 743.5 L324.0 743.9 L332.3 744.3 L340.6 744.7 L348.9 745.0 L357.3 745.4 L365.6 745.7 L373.9 746.0 L382.2 746.3 L390.5 746.6M473.5 748.8 L481.8 748.9 L490.1 749.0 L498.4 749.1 L506.7 749.2 L515.0 749.3 L523.2 749.4 L531.5 749.4 L539.8 749.4 L548.1 749.5 L556.4 749.5M639.4 748.7 L647.7 748.6 L656.0 748.4 L664.3 748.2 L672.6 748.0 L680.9 747.8 L689.2 747.6 L697.5 747.4 L705.8 747.1 L714.1 746.8 L722.4 746.6M805.4 743.0 L813.7 742.5 L822.0 742.1 L830.3 741.6 L838.6 741.1 L846.9 740.6 L855.2 740.1 L863.5 739.6 L871.8 739.0 L880.1 738.5 L888.4 737.9M913.3 101.9 L913.8 107.5M198.8 107.5 L197.2 125.5M915.3 125.5 L921.3 193.8M191.2 193.8 L185.4 261.0M927.2 261.0 L933.2 328.9M179.4 328.9 L173.6 395.7M939.0 395.7 L944.9 462.9M167.7 462.9 L161.8 530.0M950.8 530.0 L956.8 598.3M155.9 598.3 L150.0 665.3M962.7 665.3 L965.7 700.3M146.9 700.3 L144.8 725.1" fill="none" stroke="#000" stroke-width="1.3"/>
<path d="M198.5 90.2 L199.2 81.7M341.2 100.0 L341.6 91.5M484.9 104.9 L485.0 96.4M628.3 104.9 L628.2 96.4M772.0 99.8 L771.6 91.3M914.7 89.9 L914.0 81.4M140.9 735.6 L140.2 744.1M307.4 747.2 L307.0 755.7M473.5 753.0 L473.4 761.5M639.4 753.0 L639.5 761.5M805.4 747.2 L805.8 755.7M972.0 735.6 L972.7 744.1M183.9 125.0 L193.4 125.6M928.8 125.0 L919.3 125.6M172.1 260.0 L181.6 260.6M940.7 260.0 L931.2 260.6M160.3 394.8 L169.8 395.4M952.6 394.8 L943.1 395.4M148.5 529.3 L158.0 529.9M964.5 529.3 L955.0 529.9M136.7 664.3 L146.2 664.9M976.5 664.3 L967.0 664.9" fill="none" stroke="#000" stroke-width="1.1"/>
<text x="151.4" y="128.9" font-size="22" text-anchor="middle" textLength="52.0" lengthAdjust="spacingAndGlyphs" fill="#000" transform="rotate(4.40 151.4 121.5)">32°N</text>
<text x="139.9" y="264.7" font-size="22" text-anchor="middle" textLength="52.4" lengthAdjust="spacingAndGlyphs" fill="#000" transform="rotate(4.40 139.9 257.3)">28°N</text>
<text x="127.8" y="399.7" font-size="22" text-anchor="middle" textLength="52.4" lengthAdjust="spacingAndGlyphs" fill="#000" transform="rotate(4.40 127.8 392.3)">24°N</text>
<text x="116.1" y="533.7" font-size="22" text-anchor="middle" textLength="52.4" lengthAdjust="spacingAndGlyphs" fill="#000" transform="rotate(4.40 116.1 526.3)">20°N</text>
<text x="103.8" y="668.7" font-size="22" text-anchor="middle" textLength="52.4" lengthAdjust="spacingAndGlyphs" fill="#000" transform="rotate(4.40 103.8 661.3)">16°N</text>
<text x="139.6" y="765.0" font-size="22" text-anchor="middle" textLength="68.7" lengthAdjust="spacingAndGlyphs" fill="#000" transform="rotate(4.60 139.6 757.6)">100°W</text>
<text x="308.7" y="776.6" font-size="22" text-anchor="middle" textLength="56.5" lengthAdjust="spacingAndGlyphs" fill="#000" transform="rotate(2.80 308.7 769.2)">95°W</text>
<text x="475.0" y="781.7" font-size="22" text-anchor="middle" textLength="56.5" lengthAdjust="spacingAndGlyphs" fill="#000" transform="rotate(0.90 475.0 774.3)">90°W</text>
<text x="641.6" y="781.7" font-size="22" text-anchor="middle" textLength="56.5" lengthAdjust="spacingAndGlyphs" fill="#000" transform="rotate(-0.90 641.6 774.3)">85°W</text>
<text x="808.2" y="776.6" font-size="22" text-anchor="middle" textLength="56.5" lengthAdjust="spacingAndGlyphs" fill="#000" transform="rotate(-2.80 808.2 769.2)">80°W</text>
<text x="974.5" y="765.0" font-size="22" text-anchor="middle" textLength="56.5" lengthAdjust="spacingAndGlyphs" fill="#000" transform="rotate(-4.60 974.5 757.6)">75°W</text>
<rect x="989.3" y="89.1" width="34.5" height="664.9" fill="url(#jet)" stroke="#262626" stroke-width="1"/>
<path d="M1016.4 155.0H1023.8M1016.4 205.2H1023.8M1016.4 254.7H1023.8M1016.4 317.3H1023.8M1016.4 357.7H1023.8M1016.4 421.3H1023.8M1016.4 485.4H1023.8M1016.4 526.2H1023.8M1016.4 588.5H1023.8M1016.4 638.2H1023.8M1016.4 688.2H1023.8" stroke="#262626" stroke-width="1" fill="none"/>
<text x="1031.5" y="95.7" font-size="18.3" textLength="22.6" lengthAdjust="spacingAndGlyphs" fill="#262626">50</text>
<text x="1031.5" y="161.6" font-size="18.3" textLength="22.6" lengthAdjust="spacingAndGlyphs" fill="#262626">20</text>
<text x="1031.5" y="211.8" font-size="18.3" textLength="22.6" lengthAdjust="spacingAndGlyphs" fill="#262626">10</text>
<text x="1031.5" y="261.3" font-size="18.3" textLength="11.3" lengthAdjust="spacingAndGlyphs" fill="#262626">5</text>
<text x="1031.5" y="323.9" font-size="18.3" textLength="11.3" lengthAdjust="spacingAndGlyphs" fill="#262626">2</text>
<text x="1031.5" y="364.3" font-size="18.3" textLength="11.3" lengthAdjust="spacingAndGlyphs" fill="#262626">1</text>
<text x="1031.5" y="427.9" font-size="18.3" textLength="11.3" lengthAdjust="spacingAndGlyphs" fill="#262626">0</text>
<text x="1031.5" y="492.0" font-size="18.3" textLength="17.7" lengthAdjust="spacingAndGlyphs" fill="#262626">-1</text>
<text x="1031.5" y="532.8" font-size="18.3" textLength="17.7" lengthAdjust="spacingAndGlyphs" fill="#262626">-2</text>
<text x="1031.5" y="595.1" font-size="18.3" textLength="17.7" lengthAdjust="spacingAndGlyphs" fill="#262626">-5</text>
<text x="1031.5" y="644.8" font-size="18.3" textLength="29.0" lengthAdjust="spacingAndGlyphs" fill="#262626">-10</text>
<text x="1031.5" y="694.8" font-size="18.3" textLength="29.0" lengthAdjust="spacingAndGlyphs" fill="#262626">-20</text>
<text x="1031.5" y="760.5" font-size="18.3" textLength="29.0" lengthAdjust="spacingAndGlyphs" fill="#262626">-50</text>
</svg></body></html>
